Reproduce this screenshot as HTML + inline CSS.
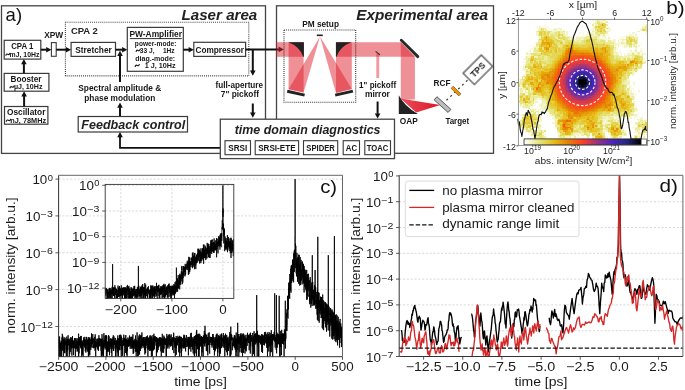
<!DOCTYPE html>
<html><head><meta charset="utf-8"><style>
html,body{margin:0;padding:0;background:#fff;}
svg{display:block;font-family:"Liberation Sans", sans-serif;filter:blur(0.25px);}
</style></head><body>
<svg width="685" height="390" viewBox="0 0 685 390">
<rect x="1.5" y="5.8" width="264" height="147.6" fill="none" stroke="#444" stroke-width="1.3"/>
<rect x="276.5" y="5.8" width="217" height="147.5" fill="none" stroke="#444" stroke-width="1.3"/>
<text x="5.6" y="21.3" font-size="18.5" fill="#111">a)</text>
<text x="257.3" y="19.6" font-size="15.4" font-weight="bold" font-style="italic" text-anchor="end" fill="#222" textLength="75.8" lengthAdjust="spacingAndGlyphs">Laser area</text>
<text x="487.9" y="19.8" font-size="15.4" font-weight="bold" font-style="italic" text-anchor="end" fill="#222" textLength="131.6" lengthAdjust="spacingAndGlyphs">Experimental area</text>
<rect x="65.4" y="22.3" width="183.4" height="53.6" fill="none" stroke="#444" stroke-width="1.1" stroke-dasharray="1 1.05"/>
<text x="70.9" y="33.5" font-size="9.2" font-weight="bold" fill="#222" textLength="26.8" lengthAdjust="spacingAndGlyphs">CPA 2</text>
<rect x="4.2" y="40.3" width="36.6" height="18.8" fill="none" stroke="#3a3a3a" stroke-width="1.2"/>
<text x="22.3" y="48.9" font-size="8.6" font-weight="bold" text-anchor="middle" fill="#161616" textLength="22.2" lengthAdjust="spacingAndGlyphs">CPA 1</text>
<text x="22.6" y="56.8" font-size="7.5" font-weight="bold" text-anchor="middle" fill="#161616" textLength="33.6" lengthAdjust="spacingAndGlyphs"> mJ, 10Hz</text>
<path d="M5.9 55.2C7.2 51.9 8.4 56.7 9.8 53.4" fill="none" stroke="#161616" stroke-width="1.2" stroke-linecap="round"/>
<rect x="4.2" y="73.4" width="44.7" height="17.8" fill="none" stroke="#3a3a3a" stroke-width="1.2"/>
<text x="26" y="81.9" font-size="8.8" font-weight="bold" text-anchor="middle" fill="#161616" textLength="31" lengthAdjust="spacingAndGlyphs">Booster</text>
<text x="26.2" y="89.4" font-size="7.5" font-weight="bold" text-anchor="middle" fill="#161616" textLength="32.5" lengthAdjust="spacingAndGlyphs"> µJ, 10Hz</text>
<path d="M10 87.8C11.4 84.5 12.7 89.3 14.1 86" fill="none" stroke="#161616" stroke-width="1.2" stroke-linecap="round"/>
<rect x="4.5" y="106.5" width="43.4" height="17.7" fill="none" stroke="#3a3a3a" stroke-width="1.2"/>
<text x="26.2" y="115.4" font-size="8.8" font-weight="bold" text-anchor="middle" fill="#161616" textLength="38.5" lengthAdjust="spacingAndGlyphs">Oscillator</text>
<text x="26.2" y="122.8" font-size="7.5" font-weight="bold" text-anchor="middle" fill="#161616" textLength="40" lengthAdjust="spacingAndGlyphs"> nJ, 78MHz</text>
<path d="M6.3 121.2C7.7 117.9 9 122.7 10.5 119.4" fill="none" stroke="#161616" stroke-width="1.2" stroke-linecap="round"/>
<text x="44.2" y="38.2" font-size="8.6" font-weight="bold" fill="#161616" textLength="19" lengthAdjust="spacingAndGlyphs">XPW</text>
<rect x="51.4" y="42.6" width="4.8" height="13.7" fill="none" stroke="#3a3a3a" stroke-width="1.1"/>
<rect x="71.1" y="42.4" width="44.4" height="14" fill="none" stroke="#3a3a3a" stroke-width="1.2"/>
<text x="93.5" y="52.7" font-size="8.9" font-weight="bold" text-anchor="middle" fill="#161616" textLength="36.5" lengthAdjust="spacingAndGlyphs">Stretcher</text>
<rect x="127.3" y="27.4" width="56" height="43.9" fill="none" stroke="#3a3a3a" stroke-width="1.2"/>
<text x="155.7" y="37.3" font-size="8.8" font-weight="bold" text-anchor="middle" fill="#161616" textLength="52.6" lengthAdjust="spacingAndGlyphs">PW-Amplifier</text>
<line x1="129.8" y1="38.6" x2="181.8" y2="38.6" stroke="#161616" stroke-width="0.9"/>
<text x="155.6" y="45.6" font-size="7.7" font-weight="600" text-anchor="middle" fill="#161616" textLength="41.5" lengthAdjust="spacingAndGlyphs">power-mode:</text>
<text x="155.4" y="53" font-size="7.7" font-weight="bold" text-anchor="middle" fill="#161616" textLength="38.5" lengthAdjust="spacingAndGlyphs"> 33 J,  1Hz</text>
<path d="M136.2 51.4C137.5 48 138.7 52.9 140 49.5" fill="none" stroke="#161616" stroke-width="1.2" stroke-linecap="round"/>
<text x="155.2" y="60.6" font-size="7.7" font-weight="600" text-anchor="middle" fill="#161616" textLength="40" lengthAdjust="spacingAndGlyphs">diag.-mode:</text>
<text x="155.4" y="68" font-size="7.7" font-weight="bold" text-anchor="middle" fill="#161616" textLength="40.5" lengthAdjust="spacingAndGlyphs">   1 J, 10Hz</text>
<path d="M135.2 66.4C136.7 63 137.9 67.9 139.3 64.5" fill="none" stroke="#161616" stroke-width="1.2" stroke-linecap="round"/>
<rect x="193.8" y="42.3" width="51.8" height="14.1" fill="none" stroke="#3a3a3a" stroke-width="1.2"/>
<text x="219.7" y="52.5" font-size="9.0" font-weight="bold" text-anchor="middle" fill="#161616" textLength="48.5" lengthAdjust="spacingAndGlyphs">Compressor</text>
<line x1="40.8" y1="49.7" x2="46.7" y2="49.7" stroke="#111" stroke-width="2.0"/>
<path d="M51.4 49.7L46.2 52.5L46.2 46.9Z" fill="#111"/>
<line x1="56.2" y1="49.7" x2="66.4" y2="49.7" stroke="#111" stroke-width="2.0"/>
<path d="M71.1 49.7L65.9 52.5L65.9 46.9Z" fill="#111"/>
<line x1="115.5" y1="49.7" x2="122.6" y2="49.7" stroke="#111" stroke-width="2.0"/>
<path d="M127.3 49.7L122.1 52.5L122.1 46.9Z" fill="#111"/>
<line x1="183.3" y1="49.7" x2="189.1" y2="49.7" stroke="#111" stroke-width="2.0"/>
<path d="M193.8 49.7L188.6 52.5L188.6 46.9Z" fill="#111"/>
<line x1="245.6" y1="49.4" x2="279.1" y2="49.4" stroke="#111" stroke-width="2.0"/>
<path d="M283.8 49.4L278.6 52.2L278.6 46.6Z" fill="#111"/>
<line x1="23.9" y1="73.4" x2="23.9" y2="63.8" stroke="#111" stroke-width="2.0"/>
<path d="M23.9 59.1L26.7 64.3L21.1 64.3Z" fill="#111"/>
<line x1="24.1" y1="106.5" x2="24.1" y2="95.9" stroke="#111" stroke-width="2.0"/>
<path d="M24.1 91.2L26.9 96.4L21.3 96.4Z" fill="#111"/>
<line x1="120" y1="82" x2="120" y2="55.4" stroke="#111" stroke-width="2.0"/>
<path d="M120 50.7L122.8 55.9L117.2 55.9Z" fill="#111"/>
<line x1="252.8" y1="49.4" x2="252.8" y2="71.1" stroke="#111" stroke-width="2.0"/>
<path d="M252.8 75.8L250 70.6L255.6 70.6Z" fill="#111"/>
<line x1="252.8" y1="103.5" x2="252.8" y2="113.1" stroke="#111" stroke-width="2.0"/>
<path d="M252.8 117.8L250 112.6L255.6 112.6Z" fill="#111"/>
<line x1="120" y1="116.5" x2="120" y2="107.2" stroke="#111" stroke-width="2.0"/>
<path d="M120 102.5L122.8 107.7L117.2 107.7Z" fill="#111"/>
<text x="119.8" y="91.3" font-size="8.9" font-weight="bold" text-anchor="middle" fill="#161616" textLength="83" lengthAdjust="spacingAndGlyphs">Spectral amplitude &amp;</text>
<text x="119.8" y="100.7" font-size="8.9" font-weight="bold" text-anchor="middle" fill="#161616" textLength="71" lengthAdjust="spacingAndGlyphs">phase modulation</text>
<text x="239.3" y="87.6" font-size="8.8" font-weight="bold" text-anchor="middle" fill="#161616" textLength="47.5" lengthAdjust="spacingAndGlyphs">full-aperture</text>
<text x="239.9" y="96.7" font-size="8.8" font-weight="bold" text-anchor="middle" fill="#161616" textLength="38.2" lengthAdjust="spacingAndGlyphs">7" pickoff</text>
<rect x="78.2" y="116.5" width="109.3" height="15.5" fill="#fff" stroke="#3a3a3a" stroke-width="1.2"/>
<text x="133.3" y="128.9" font-size="13.2" font-weight="bold" font-style="italic" text-anchor="middle" fill="#222" textLength="104" lengthAdjust="spacingAndGlyphs">Feedback control</text>
<path d="M220.3 147.8H120V137" fill="none" stroke="#111" stroke-width="1.8"/>
<line x1="120" y1="138" x2="120" y2="136.7" stroke="#111" stroke-width="2.0"/>
<path d="M120 132L122.8 137.2L117.2 137.2Z" fill="#111"/>
<path d="M276.5 42.2L303.8 42.2L303.8 56.8L276.5 56.8Z" fill="#e0202e" fill-opacity="0.5"/>
<path d="M288.6 42.2L303.6 42.2L303.6 92.5L288.6 89.2Z" fill="#e0202e" fill-opacity="0.5"/>
<path d="M288.6 89.2L320 36.5L303.6 92.5Z" fill="#e0202e" fill-opacity="0.5"/>
<path d="M320 36.5L351.8 89L336 93Z" fill="#e0202e" fill-opacity="0.5"/>
<path d="M336 42.2L351.8 42.2L351.8 89L336 93Z" fill="#e0202e" fill-opacity="0.5"/>
<path d="M336 42.2L400.8 42.2L414.9 56.8L336 56.8Z" fill="#e0202e" fill-opacity="0.5"/>
<path d="M400.8 42.2L414.9 56.8L414.9 99.5L400.8 99.5Z" fill="#e0202e" fill-opacity="0.5"/>
<path d="M376.3 53.5L379.2 53.5L379.2 78L376.3 78Z" fill="#e0202e" fill-opacity="0.45"/>
<path d="M288.4 42.2H303.9V56.8H303.3Q299.5 46.3 288.4 42.2Z" fill="#222"/>
<path d="M351.4 42.2H335.9V56.8H336.5Q340.0 46.3 351.4 42.2Z" fill="#222"/>
<line x1="287.2" y1="91.3" x2="304.6" y2="95.1" stroke="#222" stroke-width="3.0"/>
<line x1="335.2" y1="95.1" x2="352.9" y2="91.1" stroke="#222" stroke-width="3.0"/>
<line x1="316.8" y1="35.3" x2="322.8" y2="35.3" stroke="#222" stroke-width="1.6"/>
<line x1="401.3" y1="40.2" x2="417.8" y2="56.6" stroke="#2a2a2a" stroke-width="2.9" stroke-linecap="round"/>
<line x1="375.6" y1="51.4" x2="379.9" y2="54.8" stroke="#333" stroke-width="1.1"/>
<defs><linearGradient id="fg" x1="0" y1="0" x2="1" y2="0"><stop offset="0" stop-color="#e6505c"/><stop offset="1" stop-color="#e01525"/></linearGradient></defs>
<path d="M400.5 98.6L440.2 105.1L416.2 112.6Z" fill="url(#fg)"/>
<path d="M398.8 95.3L398.8 114.1L417.9 114.1Q404 106 398.8 95.3Z" fill="#222"/>
<g transform="translate(442.5 104.6) rotate(42)"><rect x="-9.4" y="-2.1" width="18.8" height="4.2" fill="#bdbdbd" stroke="#555" stroke-width="0.9"/></g>
<line x1="446.5" y1="100.3" x2="470" y2="77.8" stroke="#333" stroke-width="1.2" stroke-dasharray="2 3.4"/>
<g transform="translate(456.0 91.1) rotate(45)"><rect x="-5.4" y="-1.5" width="10.8" height="3.0" fill="#f0900c" stroke="#6a4a10" stroke-width="0.6"/></g>
<text x="442" y="86.4" font-size="9.0" font-weight="bold" text-anchor="middle" fill="#161616" textLength="17" lengthAdjust="spacingAndGlyphs">RCF</text>
<g transform="translate(477.85 69.8) rotate(-45)"><rect x="-12.9" y="-8" width="25.8" height="16" fill="#fff" stroke="#333" stroke-width="1.1"/><text x="0" y="3.3" font-size="9.2" font-weight="bold" text-anchor="middle" fill="#1a1a1a" textLength="17" lengthAdjust="spacingAndGlyphs">TPS</text></g>
<text x="408.8" y="123.9" font-size="9.0" font-weight="bold" text-anchor="middle" fill="#161616" textLength="18" lengthAdjust="spacingAndGlyphs">OAP</text>
<text x="457.3" y="123.9" font-size="9.0" font-weight="bold" text-anchor="middle" fill="#161616" textLength="23.8" lengthAdjust="spacingAndGlyphs">Target</text>
<rect x="284" y="30" width="71.7" height="72.3" fill="none" stroke="#333" stroke-width="1.1" stroke-dasharray="1 1.05"/>
<text x="320.6" y="26.8" font-size="9.0" font-weight="bold" text-anchor="middle" fill="#161616" textLength="36.8" lengthAdjust="spacingAndGlyphs">PM setup</text>
<text x="377.6" y="88.2" font-size="9.0" font-weight="bold" text-anchor="middle" fill="#161616" textLength="37" lengthAdjust="spacingAndGlyphs">1" pickoff</text>
<text x="377.4" y="97" font-size="9.0" font-weight="bold" text-anchor="middle" fill="#161616" textLength="25" lengthAdjust="spacingAndGlyphs">mirror</text>
<line x1="377.6" y1="101.5" x2="377.6" y2="113.9" stroke="#111" stroke-width="2.0"/>
<path d="M377.6 118.6L374.8 113.4L380.4 113.4Z" fill="#111"/>
<rect x="220.3" y="119.2" width="174.2" height="39.4" fill="#fff" stroke="#444" stroke-width="1.3"/>
<text x="307.6" y="133.8" font-size="12.4" font-weight="bold" font-style="italic" text-anchor="middle" fill="#222" textLength="145.8" lengthAdjust="spacingAndGlyphs">time domain diagnostics</text>
<rect x="225" y="140.7" width="25.5" height="14" fill="none" stroke="#3a3a3a" stroke-width="1.1"/>
<text x="237.8" y="150.8" font-size="8.8" font-weight="bold" text-anchor="middle" fill="#161616" textLength="19" lengthAdjust="spacingAndGlyphs">SRSI</text>
<rect x="255.2" y="140.7" width="43.4" height="14" fill="none" stroke="#3a3a3a" stroke-width="1.1"/>
<text x="276.9" y="150.8" font-size="8.8" font-weight="bold" text-anchor="middle" fill="#161616" textLength="37.5" lengthAdjust="spacingAndGlyphs">SRSI-ETE</text>
<rect x="303.5" y="140.7" width="34.2" height="14" fill="none" stroke="#3a3a3a" stroke-width="1.1"/>
<text x="320.6" y="150.8" font-size="8.8" font-weight="bold" text-anchor="middle" fill="#161616" textLength="28.5" lengthAdjust="spacingAndGlyphs">SPIDER</text>
<rect x="343.2" y="140.7" width="16.3" height="14" fill="none" stroke="#3a3a3a" stroke-width="1.1"/>
<text x="351.4" y="150.8" font-size="8.8" font-weight="bold" text-anchor="middle" fill="#161616" textLength="11.2" lengthAdjust="spacingAndGlyphs">AC</text>
<rect x="364.8" y="140.7" width="25.7" height="14" fill="none" stroke="#3a3a3a" stroke-width="1.1"/>
<text x="377.6" y="150.8" font-size="8.8" font-weight="bold" text-anchor="middle" fill="#161616" textLength="21.5" lengthAdjust="spacingAndGlyphs">TOAC</text>
<g shape-rendering="crispEdges">
<path fill="#fafae5" d="M601.6 19.5h1.6v1.6h-1.6zM593.6 21.1h1.6v1.6h-1.6zM603.2 21.1h1.6v1.6h-1.6zM553.6 22.7h3.2v1.6h-3.2zM592 22.7h1.6v1.6h-1.6zM608 22.7h1.6v1.6h-1.6zM544 24.3h1.6v1.6h-1.6zM643.2 24.3h3.2v1.6h-3.2zM536 25.9h1.6v1.6h-1.6zM540.8 25.9h8v1.6h-8zM582.4 25.9h1.6v1.6h-1.6zM592 25.9h1.6v1.6h-1.6zM606.4 25.9h3.2v1.6h-3.2zM536 27.5h1.6v1.6h-1.6zM545.6 27.5h1.6v1.6h-1.6zM548.8 27.5h1.6v1.6h-1.6zM553.6 27.5h1.6v1.6h-1.6zM590.4 27.5h3.2v1.6h-3.2zM640 27.5h1.6v1.6h-1.6zM547.2 29.1h6.4v1.6h-6.4zM558.4 29.1h1.6v1.6h-1.6zM561.6 29.1h3.2v1.6h-3.2zM590.4 29.1h1.6v1.6h-1.6zM606.4 29.1h3.2v1.6h-3.2zM553.6 30.7h1.6v1.6h-1.6zM564.8 30.7h1.6v1.6h-1.6zM568 30.7h1.6v1.6h-1.6zM644.8 30.7h1.6v1.6h-1.6zM579.2 32.3h1.6v1.6h-1.6zM582.4 32.3h1.6v1.6h-1.6zM593.6 32.3h1.6v1.6h-1.6zM628.8 32.3h1.6v1.6h-1.6zM635.2 32.3h1.6v1.6h-1.6zM644.8 32.3h2.1v1.6h-2.1zM577.6 33.9h1.6v1.6h-1.6zM582.4 33.9h1.6v1.6h-1.6zM587.2 33.9h1.6v1.6h-1.6zM606.4 33.9h3.2v1.6h-3.2zM625.6 33.9h1.6v1.6h-1.6zM628.8 33.9h1.6v1.6h-1.6zM632 33.9h1.6v1.6h-1.6zM644.8 33.9h1.6v1.6h-1.6zM576 35.5h9.6v1.6h-9.6zM600 35.5h1.6v1.6h-1.6zM622.4 35.5h1.6v1.6h-1.6zM635.2 35.5h1.6v1.6h-1.6zM569.6 37.1h1.6v1.6h-1.6zM572.8 37.1h3.2v1.6h-3.2zM600 37.1h1.6v1.6h-1.6zM603.2 37.1h1.6v1.6h-1.6zM606.4 37.1h1.6v1.6h-1.6zM619.2 37.1h4.8v1.6h-4.8zM604.8 38.7h4.8v1.6h-4.8zM619.2 38.7h1.6v1.6h-1.6zM646.4 38.7h0.5v1.6h-0.5zM606.4 40.3h1.6v1.6h-1.6zM620.8 40.3h1.6v1.6h-1.6zM624 40.3h1.6v1.6h-1.6zM534.4 41.9h1.6v1.6h-1.6zM616 41.9h3.2v1.6h-3.2zM619.2 43.5h3.2v1.6h-3.2zM636.8 43.5h1.6v1.6h-1.6zM640 43.5h1.6v1.6h-1.6zM531.2 45.1h1.6v1.6h-1.6zM534.4 45.1h1.6v1.6h-1.6zM616 45.1h1.6v1.6h-1.6zM619.2 45.1h1.6v1.6h-1.6zM622.4 45.1h1.6v1.6h-1.6zM532.8 46.7h1.6v1.6h-1.6zM616 46.7h1.6v1.6h-1.6zM622.4 46.7h1.6v1.6h-1.6zM632 46.7h1.6v1.6h-1.6zM529.6 48.3h4.8v1.6h-4.8zM616 48.3h1.6v1.6h-1.6zM628.8 48.3h1.6v1.6h-1.6zM640 48.3h3.2v1.6h-3.2zM528 49.9h1.6v1.6h-1.6zM616 49.9h1.6v1.6h-1.6zM619.2 49.9h1.6v1.6h-1.6zM627.2 49.9h1.6v1.6h-1.6zM633.6 49.9h1.6v1.6h-1.6zM531.2 51.5h1.6v1.6h-1.6zM617.6 51.5h3.2v1.6h-3.2zM630.4 51.5h1.6v1.6h-1.6zM633.6 51.5h3.2v1.6h-3.2zM640 51.5h1.6v1.6h-1.6zM617.6 53.1h3.2v1.6h-3.2zM624 53.1h1.6v1.6h-1.6zM635.2 53.1h1.6v1.6h-1.6zM640 53.1h1.6v1.6h-1.6zM526.4 54.7h3.2v1.6h-3.2zM619.2 54.7h1.6v1.6h-1.6zM523.2 57.9h1.6v1.6h-1.6zM625.6 57.9h1.6v1.6h-1.6zM643.2 57.9h3.2v1.6h-3.2zM643.2 59.5h1.6v1.6h-1.6zM523.2 61.1h3.2v1.6h-3.2zM523.2 64.3h1.6v1.6h-1.6zM521.6 67.5h1.6v1.6h-1.6zM526.4 67.5h1.6v1.6h-1.6zM521.6 69.1h1.6v1.6h-1.6zM633.6 72.3h3.2v1.6h-3.2zM523.2 73.9h3.2v1.6h-3.2zM630.4 73.9h1.6v1.6h-1.6zM633.6 73.9h1.6v1.6h-1.6zM628.8 75.5h1.6v1.6h-1.6zM627.2 78.7h3.2v1.6h-3.2zM518.4 80.3h1.6v1.6h-1.6zM632 81.9h1.6v1.6h-1.6zM628.8 83.5h1.6v1.6h-1.6zM632 83.5h1.6v1.6h-1.6zM627.2 85.1h1.6v1.6h-1.6zM630.4 85.1h1.6v1.6h-1.6zM633.6 85.1h1.6v1.6h-1.6zM520 86.7h1.6v1.6h-1.6zM627.2 86.7h1.6v1.6h-1.6zM630.4 86.7h1.6v1.6h-1.6zM529.6 88.3h1.6v1.6h-1.6zM630.4 88.3h3.2v1.6h-3.2zM518.4 89.9h1.6v1.6h-1.6zM523.2 89.9h1.6v1.6h-1.6zM526.4 89.9h1.6v1.6h-1.6zM633.6 89.9h1.6v1.6h-1.6zM518.4 93.1h1.6v1.6h-1.6zM526.4 93.1h1.6v1.6h-1.6zM633.6 93.1h3.2v1.6h-3.2zM635.2 94.7h1.6v1.6h-1.6zM537.6 97.9h1.6v1.6h-1.6zM536 99.5h1.6v1.6h-1.6zM540.8 99.5h1.6v1.6h-1.6zM632 99.5h1.6v1.6h-1.6zM540.8 101.1h1.6v1.6h-1.6zM632 101.1h1.6v1.6h-1.6zM534.4 102.7h1.6v1.6h-1.6zM539.2 102.7h1.6v1.6h-1.6zM518.4 104.3h1.6v1.6h-1.6zM534.4 104.3h1.6v1.6h-1.6zM635.2 104.3h1.6v1.6h-1.6zM520 105.9h1.6v1.6h-1.6zM529.6 105.9h3.2v1.6h-3.2zM539.2 105.9h1.6v1.6h-1.6zM635.2 105.9h1.6v1.6h-1.6zM523.2 107.5h1.6v1.6h-1.6zM526.4 107.5h1.6v1.6h-1.6zM529.6 107.5h8v1.6h-8zM539.2 107.5h3.2v1.6h-3.2zM636.8 107.5h1.6v1.6h-1.6zM536 109.1h1.6v1.6h-1.6zM539.2 109.1h1.6v1.6h-1.6zM544 109.1h3.2v1.6h-3.2zM521.6 110.7h1.6v1.6h-1.6zM528 110.7h1.6v1.6h-1.6zM539.2 110.7h4.8v1.6h-4.8zM635.2 110.7h3.2v1.6h-3.2zM536 112.3h1.6v1.6h-1.6zM539.2 112.3h1.6v1.6h-1.6zM547.2 112.3h1.6v1.6h-1.6zM633.6 112.3h1.6v1.6h-1.6zM520 113.9h1.6v1.6h-1.6zM548.8 113.9h1.6v1.6h-1.6zM641.6 113.9h1.6v1.6h-1.6zM548.8 115.5h4.8v1.6h-4.8zM630.4 115.5h1.6v1.6h-1.6zM633.6 115.5h1.6v1.6h-1.6zM638.4 115.5h1.6v1.6h-1.6zM614.4 117.1h1.6v1.6h-1.6zM625.6 117.1h1.6v1.6h-1.6zM628.8 117.1h1.6v1.6h-1.6zM636.8 117.1h1.6v1.6h-1.6zM520 118.7h1.6v1.6h-1.6zM552 118.7h1.6v1.6h-1.6zM617.6 118.7h3.2v1.6h-3.2zM627.2 118.7h1.6v1.6h-1.6zM633.6 118.7h3.2v1.6h-3.2zM643.2 118.7h3.7v1.6h-3.7zM518.4 120.3h1.6v1.6h-1.6zM553.6 120.3h1.6v1.6h-1.6zM604.8 120.3h1.6v1.6h-1.6zM630.4 120.3h1.6v1.6h-1.6zM539.2 121.9h1.6v1.6h-1.6zM553.6 121.9h1.6v1.6h-1.6zM603.2 121.9h1.6v1.6h-1.6zM620.8 121.9h1.6v1.6h-1.6zM625.6 121.9h1.6v1.6h-1.6zM622.4 123.5h1.6v1.6h-1.6zM540.8 125.1h1.6v1.6h-1.6zM622.4 125.1h1.6v1.6h-1.6zM633.6 125.1h1.6v1.6h-1.6zM531.2 126.7h1.6v1.6h-1.6zM542.4 126.7h1.6v1.6h-1.6zM603.2 126.7h1.6v1.6h-1.6zM632 126.7h3.2v1.6h-3.2zM518.4 128.3h1.6v1.6h-1.6zM540.8 128.3h1.6v1.6h-1.6zM553.6 128.3h1.6v1.6h-1.6zM628.8 128.3h1.6v1.6h-1.6zM633.6 128.3h1.6v1.6h-1.6zM640 129.9h1.6v1.6h-1.6zM524.8 131.5h1.6v1.6h-1.6zM545.6 131.5h1.6v1.6h-1.6zM624 131.5h1.6v1.6h-1.6zM635.2 131.5h3.2v1.6h-3.2zM640 131.5h1.6v1.6h-1.6zM528 133.1h1.6v1.6h-1.6zM544 133.1h1.6v1.6h-1.6zM590.4 133.1h1.6v1.6h-1.6zM608 133.1h1.6v1.6h-1.6zM644.8 133.1h1.6v1.6h-1.6zM576 134.7h1.6v1.6h-1.6zM584 134.7h1.6v1.6h-1.6zM590.4 134.7h1.6v1.6h-1.6zM638.4 134.7h1.6v1.6h-1.6zM643.2 134.7h1.6v1.6h-1.6zM646.4 134.7h0.5v1.6h-0.5zM545.6 136.3h1.6v1.6h-1.6zM571.2 136.3h3.2v1.6h-3.2zM576 136.3h8v1.6h-8zM588.8 136.3h1.6v1.6h-1.6zM606.4 136.3h1.6v1.6h-1.6zM617.6 136.3h1.6v1.6h-1.6zM630.4 136.3h1.6v1.6h-1.6zM640 136.3h1.6v1.6h-1.6zM644.8 136.3h1.6v1.6h-1.6zM531.2 137.9h3.2v1.6h-3.2zM566.4 137.9h1.6v1.6h-1.6zM574.4 137.9h1.6v1.6h-1.6zM580.8 137.9h1.6v1.6h-1.6zM584 137.9h4.8v1.6h-4.8zM628.8 137.9h1.6v1.6h-1.6zM632 137.9h1.6v1.6h-1.6zM638.4 137.9h1.6v1.6h-1.6zM532.8 139.5h1.6v1.6h-1.6zM540.8 139.5h1.6v1.6h-1.6zM563.2 139.5h1.6v1.6h-1.6zM587.2 139.5h1.6v1.6h-1.6zM592 139.5h1.6v1.6h-1.6zM608 139.5h4.8v1.6h-4.8zM614.4 139.5h4.8v1.6h-4.8zM532.8 141.1h1.6v1.6h-1.6zM536 141.1h1.6v1.6h-1.6zM561.6 141.1h1.6v1.6h-1.6zM588.8 141.1h3.2v1.6h-3.2zM595.2 141.1h1.6v1.6h-1.6zM609.6 141.1h1.6v1.6h-1.6zM614.4 141.1h1.6v1.6h-1.6zM630.4 141.1h1.6v1.6h-1.6zM537.6 142.7h1.6v1.6h-1.6zM590.4 142.7h1.6v1.6h-1.6zM600 142.7h1.6v1.6h-1.6zM596.8 144.3h1.6v1h-1.6zM603.2 144.3h1.6v1h-1.6zM608 144.3h1.6v1h-1.6zM638.4 144.3h1.6v1h-1.6z"/>
<path fill="#f5f5cc" d="M592 19.5h1.6v1.6h-1.6zM595.2 19.5h1.6v1.6h-1.6zM598.4 19.5h3.2v1.6h-3.2zM604.8 19.5h1.6v1.6h-1.6zM595.2 21.1h1.6v1.6h-1.6zM604.8 21.1h1.6v1.6h-1.6zM593.6 22.7h1.6v1.6h-1.6zM539.2 25.9h1.6v1.6h-1.6zM641.6 25.9h3.2v1.6h-3.2zM555.2 27.5h1.6v1.6h-1.6zM560 27.5h1.6v1.6h-1.6zM604.8 27.5h1.6v1.6h-1.6zM555.2 29.1h3.2v1.6h-3.2zM560 29.1h1.6v1.6h-1.6zM592 29.1h1.6v1.6h-1.6zM609.6 29.1h1.6v1.6h-1.6zM640 29.1h1.6v1.6h-1.6zM552 30.7h1.6v1.6h-1.6zM566.4 30.7h1.6v1.6h-1.6zM608 30.7h1.6v1.6h-1.6zM636.8 30.7h1.6v1.6h-1.6zM536 32.3h1.6v1.6h-1.6zM566.4 32.3h1.6v1.6h-1.6zM587.2 32.3h1.6v1.6h-1.6zM590.4 32.3h3.2v1.6h-3.2zM632 32.3h3.2v1.6h-3.2zM536 33.9h1.6v1.6h-1.6zM564.8 33.9h3.2v1.6h-3.2zM585.6 33.9h1.6v1.6h-1.6zM588.8 33.9h1.6v1.6h-1.6zM593.6 33.9h1.6v1.6h-1.6zM600 33.9h3.2v1.6h-3.2zM630.4 33.9h1.6v1.6h-1.6zM635.2 33.9h1.6v1.6h-1.6zM539.2 35.5h1.6v1.6h-1.6zM566.4 35.5h1.6v1.6h-1.6zM571.2 35.5h3.2v1.6h-3.2zM624 35.5h1.6v1.6h-1.6zM577.6 37.1h1.6v1.6h-1.6zM580.8 37.1h1.6v1.6h-1.6zM598.4 37.1h1.6v1.6h-1.6zM601.6 37.1h1.6v1.6h-1.6zM604.8 37.1h1.6v1.6h-1.6zM569.6 38.7h1.6v1.6h-1.6zM572.8 38.7h4.8v1.6h-4.8zM580.8 38.7h3.2v1.6h-3.2zM603.2 38.7h1.6v1.6h-1.6zM609.6 38.7h1.6v1.6h-1.6zM612.8 38.7h3.2v1.6h-3.2zM617.6 38.7h1.6v1.6h-1.6zM611.2 40.3h4.8v1.6h-4.8zM617.6 40.3h1.6v1.6h-1.6zM622.4 40.3h1.6v1.6h-1.6zM614.4 41.9h1.6v1.6h-1.6zM619.2 41.9h1.6v1.6h-1.6zM624 41.9h1.6v1.6h-1.6zM632 41.9h1.6v1.6h-1.6zM611.2 43.5h1.6v1.6h-1.6zM614.4 43.5h3.2v1.6h-3.2zM622.4 43.5h3.2v1.6h-3.2zM635.2 43.5h1.6v1.6h-1.6zM614.4 45.1h1.6v1.6h-1.6zM617.6 45.1h1.6v1.6h-1.6zM624 45.1h1.6v1.6h-1.6zM627.2 45.1h1.6v1.6h-1.6zM632 45.1h1.6v1.6h-1.6zM638.4 45.1h1.6v1.6h-1.6zM536 46.7h1.6v1.6h-1.6zM617.6 46.7h1.6v1.6h-1.6zM624 46.7h3.2v1.6h-3.2zM636.8 46.7h1.6v1.6h-1.6zM635.2 48.3h1.6v1.6h-1.6zM529.6 49.9h1.6v1.6h-1.6zM614.4 49.9h1.6v1.6h-1.6zM630.4 49.9h1.6v1.6h-1.6zM640 49.9h1.6v1.6h-1.6zM526.4 51.5h1.6v1.6h-1.6zM529.6 51.5h1.6v1.6h-1.6zM532.8 51.5h1.6v1.6h-1.6zM537.6 51.5h3.2v1.6h-3.2zM616 51.5h1.6v1.6h-1.6zM632 51.5h1.6v1.6h-1.6zM641.6 51.5h1.6v1.6h-1.6zM528 53.1h1.6v1.6h-1.6zM614.4 53.1h1.6v1.6h-1.6zM620.8 53.1h1.6v1.6h-1.6zM627.2 53.1h4.8v1.6h-4.8zM643.2 53.1h3.2v1.6h-3.2zM529.6 54.7h1.6v1.6h-1.6zM620.8 54.7h1.6v1.6h-1.6zM624 54.7h3.2v1.6h-3.2zM640 54.7h1.6v1.6h-1.6zM524.8 56.3h1.6v1.6h-1.6zM528 56.3h1.6v1.6h-1.6zM630.4 56.3h1.6v1.6h-1.6zM524.8 57.9h1.6v1.6h-1.6zM620.8 57.9h1.6v1.6h-1.6zM524.8 62.7h1.6v1.6h-1.6zM644.8 62.7h1.6v1.6h-1.6zM641.6 64.3h1.6v1.6h-1.6zM523.2 65.9h1.6v1.6h-1.6zM523.2 67.5h1.6v1.6h-1.6zM523.2 69.1h3.2v1.6h-3.2zM636.8 69.1h1.6v1.6h-1.6zM524.8 70.7h1.6v1.6h-1.6zM633.6 70.7h1.6v1.6h-1.6zM524.8 72.3h1.6v1.6h-1.6zM632 73.9h1.6v1.6h-1.6zM518.4 78.7h1.6v1.6h-1.6zM627.2 80.3h3.2v1.6h-3.2zM625.6 81.9h1.6v1.6h-1.6zM633.6 81.9h1.6v1.6h-1.6zM627.2 83.5h1.6v1.6h-1.6zM633.6 83.5h1.6v1.6h-1.6zM520 85.1h1.6v1.6h-1.6zM628.8 85.1h1.6v1.6h-1.6zM529.6 86.7h1.6v1.6h-1.6zM518.4 88.3h1.6v1.6h-1.6zM521.6 88.3h1.6v1.6h-1.6zM625.6 88.3h1.6v1.6h-1.6zM529.6 89.9h1.6v1.6h-1.6zM628.8 89.9h3.2v1.6h-3.2zM638.4 89.9h1.6v1.6h-1.6zM521.6 91.5h1.6v1.6h-1.6zM524.8 91.5h1.6v1.6h-1.6zM628.8 91.5h3.2v1.6h-3.2zM630.4 94.7h3.2v1.6h-3.2zM633.6 96.3h1.6v1.6h-1.6zM518.4 97.9h1.6v1.6h-1.6zM536 97.9h1.6v1.6h-1.6zM539.2 97.9h1.6v1.6h-1.6zM633.6 97.9h1.6v1.6h-1.6zM534.4 99.5h1.6v1.6h-1.6zM534.4 101.1h3.2v1.6h-3.2zM540.8 102.7h3.2v1.6h-3.2zM532.8 104.3h1.6v1.6h-1.6zM539.2 104.3h1.6v1.6h-1.6zM542.4 104.3h3.2v1.6h-3.2zM633.6 104.3h1.6v1.6h-1.6zM521.6 105.9h1.6v1.6h-1.6zM542.4 105.9h1.6v1.6h-1.6zM633.6 105.9h1.6v1.6h-1.6zM542.4 107.5h1.6v1.6h-1.6zM537.6 109.1h1.6v1.6h-1.6zM542.4 109.1h1.6v1.6h-1.6zM636.8 109.1h1.6v1.6h-1.6zM529.6 110.7h1.6v1.6h-1.6zM534.4 110.7h1.6v1.6h-1.6zM547.2 110.7h1.6v1.6h-1.6zM524.8 112.3h1.6v1.6h-1.6zM531.2 112.3h1.6v1.6h-1.6zM521.6 113.9h1.6v1.6h-1.6zM550.4 113.9h1.6v1.6h-1.6zM633.6 113.9h4.8v1.6h-4.8zM521.6 115.5h1.6v1.6h-1.6zM539.2 115.5h1.6v1.6h-1.6zM611.2 115.5h6.4v1.6h-6.4zM625.6 115.5h3.2v1.6h-3.2zM552 117.1h3.2v1.6h-3.2zM606.4 117.1h1.6v1.6h-1.6zM616 117.1h1.6v1.6h-1.6zM620.8 117.1h1.6v1.6h-1.6zM630.4 117.1h1.6v1.6h-1.6zM633.6 117.1h1.6v1.6h-1.6zM640 117.1h3.2v1.6h-3.2zM539.2 118.7h3.2v1.6h-3.2zM553.6 118.7h3.2v1.6h-3.2zM603.2 118.7h4.8v1.6h-4.8zM620.8 118.7h1.6v1.6h-1.6zM638.4 118.7h1.6v1.6h-1.6zM641.6 118.7h1.6v1.6h-1.6zM539.2 120.3h3.2v1.6h-3.2zM603.2 120.3h1.6v1.6h-1.6zM616 120.3h1.6v1.6h-1.6zM638.4 120.3h1.6v1.6h-1.6zM643.2 120.3h1.6v1.6h-1.6zM646.4 120.3h0.5v1.6h-0.5zM552 121.9h1.6v1.6h-1.6zM604.8 121.9h4.8v1.6h-4.8zM536 123.5h4.8v1.6h-4.8zM553.6 123.5h1.6v1.6h-1.6zM625.6 123.5h1.6v1.6h-1.6zM635.2 123.5h1.6v1.6h-1.6zM518.4 125.1h1.6v1.6h-1.6zM536 125.1h1.6v1.6h-1.6zM518.4 126.7h3.2v1.6h-3.2zM539.2 126.7h1.6v1.6h-1.6zM555.2 126.7h1.6v1.6h-1.6zM635.2 126.7h1.6v1.6h-1.6zM521.6 128.3h3.2v1.6h-3.2zM539.2 128.3h1.6v1.6h-1.6zM622.4 128.3h1.6v1.6h-1.6zM640 128.3h1.6v1.6h-1.6zM536 129.9h3.2v1.6h-3.2zM542.4 129.9h1.6v1.6h-1.6zM603.2 129.9h3.2v1.6h-3.2zM624 129.9h1.6v1.6h-1.6zM635.2 129.9h1.6v1.6h-1.6zM638.4 129.9h1.6v1.6h-1.6zM529.6 131.5h1.6v1.6h-1.6zM532.8 131.5h1.6v1.6h-1.6zM580.8 131.5h1.6v1.6h-1.6zM604.8 131.5h1.6v1.6h-1.6zM532.8 133.1h3.2v1.6h-3.2zM542.4 133.1h1.6v1.6h-1.6zM558.4 133.1h1.6v1.6h-1.6zM574.4 133.1h6.4v1.6h-6.4zM625.6 133.1h1.6v1.6h-1.6zM640 133.1h1.6v1.6h-1.6zM643.2 133.1h1.6v1.6h-1.6zM646.4 133.1h0.5v1.6h-0.5zM532.8 134.7h1.6v1.6h-1.6zM574.4 134.7h1.6v1.6h-1.6zM580.8 134.7h1.6v1.6h-1.6zM609.6 134.7h1.6v1.6h-1.6zM619.2 134.7h1.6v1.6h-1.6zM622.4 134.7h1.6v1.6h-1.6zM625.6 134.7h1.6v1.6h-1.6zM532.8 136.3h1.6v1.6h-1.6zM564.8 136.3h4.8v1.6h-4.8zM604.8 136.3h1.6v1.6h-1.6zM609.6 136.3h1.6v1.6h-1.6zM529.6 137.9h1.6v1.6h-1.6zM534.4 137.9h1.6v1.6h-1.6zM539.2 137.9h1.6v1.6h-1.6zM582.4 137.9h1.6v1.6h-1.6zM611.2 137.9h1.6v1.6h-1.6zM614.4 137.9h1.6v1.6h-1.6zM536 139.5h4.8v1.6h-4.8zM542.4 139.5h1.6v1.6h-1.6zM545.6 139.5h1.6v1.6h-1.6zM590.4 139.5h1.6v1.6h-1.6zM612.8 139.5h1.6v1.6h-1.6zM632 139.5h1.6v1.6h-1.6zM635.2 139.5h1.6v1.6h-1.6zM640 139.5h1.6v1.6h-1.6zM537.6 141.1h1.6v1.6h-1.6zM593.6 141.1h1.6v1.6h-1.6zM603.2 141.1h1.6v1.6h-1.6zM608 141.1h1.6v1.6h-1.6zM635.2 141.1h1.6v1.6h-1.6zM588.8 142.7h1.6v1.6h-1.6zM595.2 142.7h1.6v1.6h-1.6zM603.2 142.7h1.6v1.6h-1.6zM632 142.7h1.6v1.6h-1.6zM638.4 142.7h1.6v1.6h-1.6zM600 144.3h1.6v1h-1.6zM604.8 144.3h1.6v1h-1.6zM636.8 144.3h1.6v1h-1.6z"/>
<path fill="#f0f0b3" d="M600 21.1h3.2v1.6h-3.2zM595.2 24.3h3.2v1.6h-3.2zM646.4 24.3h0.5v1.6h-0.5zM593.6 25.9h1.6v1.6h-1.6zM539.2 27.5h1.6v1.6h-1.6zM558.4 27.5h1.6v1.6h-1.6zM593.6 27.5h1.6v1.6h-1.6zM608 27.5h1.6v1.6h-1.6zM537.6 29.1h3.2v1.6h-3.2zM544 29.1h1.6v1.6h-1.6zM604.8 29.1h1.6v1.6h-1.6zM545.6 30.7h1.6v1.6h-1.6zM555.2 30.7h1.6v1.6h-1.6zM560 30.7h3.2v1.6h-3.2zM592 30.7h4.8v1.6h-4.8zM606.4 30.7h1.6v1.6h-1.6zM638.4 30.7h1.6v1.6h-1.6zM646.4 30.7h0.5v1.6h-0.5zM537.6 32.3h1.6v1.6h-1.6zM550.4 32.3h3.2v1.6h-3.2zM560 32.3h1.6v1.6h-1.6zM563.2 32.3h1.6v1.6h-1.6zM588.8 32.3h1.6v1.6h-1.6zM606.4 32.3h1.6v1.6h-1.6zM548.8 33.9h1.6v1.6h-1.6zM563.2 33.9h1.6v1.6h-1.6zM592 33.9h1.6v1.6h-1.6zM595.2 33.9h1.6v1.6h-1.6zM537.6 35.5h1.6v1.6h-1.6zM560 35.5h1.6v1.6h-1.6zM568 35.5h1.6v1.6h-1.6zM588.8 35.5h1.6v1.6h-1.6zM592 35.5h1.6v1.6h-1.6zM596.8 35.5h3.2v1.6h-3.2zM603.2 35.5h3.2v1.6h-3.2zM627.2 35.5h1.6v1.6h-1.6zM630.4 35.5h1.6v1.6h-1.6zM636.8 35.5h1.6v1.6h-1.6zM539.2 37.1h1.6v1.6h-1.6zM556.8 37.1h1.6v1.6h-1.6zM571.2 37.1h1.6v1.6h-1.6zM576 37.1h1.6v1.6h-1.6zM579.2 37.1h1.6v1.6h-1.6zM582.4 37.1h1.6v1.6h-1.6zM596.8 37.1h1.6v1.6h-1.6zM608 37.1h1.6v1.6h-1.6zM635.2 37.1h3.2v1.6h-3.2zM558.4 38.7h1.6v1.6h-1.6zM561.6 38.7h1.6v1.6h-1.6zM568 38.7h1.6v1.6h-1.6zM571.2 38.7h1.6v1.6h-1.6zM577.6 38.7h3.2v1.6h-3.2zM598.4 38.7h1.6v1.6h-1.6zM601.6 38.7h1.6v1.6h-1.6zM620.8 38.7h4.8v1.6h-4.8zM574.4 40.3h3.2v1.6h-3.2zM579.2 40.3h1.6v1.6h-1.6zM604.8 40.3h1.6v1.6h-1.6zM636.8 40.3h1.6v1.6h-1.6zM536 41.9h1.6v1.6h-1.6zM622.4 41.9h1.6v1.6h-1.6zM636.8 41.9h1.6v1.6h-1.6zM617.6 43.5h1.6v1.6h-1.6zM625.6 43.5h1.6v1.6h-1.6zM537.6 45.1h1.6v1.6h-1.6zM625.6 45.1h1.6v1.6h-1.6zM635.2 45.1h1.6v1.6h-1.6zM534.4 46.7h1.6v1.6h-1.6zM537.6 46.7h1.6v1.6h-1.6zM628.8 46.7h3.2v1.6h-3.2zM635.2 46.7h1.6v1.6h-1.6zM536 48.3h1.6v1.6h-1.6zM614.4 48.3h1.6v1.6h-1.6zM532.8 49.9h1.6v1.6h-1.6zM534.4 51.5h3.2v1.6h-3.2zM614.4 51.5h1.6v1.6h-1.6zM638.4 51.5h1.6v1.6h-1.6zM526.4 53.1h1.6v1.6h-1.6zM529.6 53.1h1.6v1.6h-1.6zM616 53.1h1.6v1.6h-1.6zM633.6 53.1h1.6v1.6h-1.6zM636.8 53.1h1.6v1.6h-1.6zM641.6 53.1h1.6v1.6h-1.6zM531.2 54.7h1.6v1.6h-1.6zM540.8 54.7h1.6v1.6h-1.6zM627.2 54.7h1.6v1.6h-1.6zM526.4 56.3h1.6v1.6h-1.6zM534.4 56.3h3.2v1.6h-3.2zM545.6 56.3h1.6v1.6h-1.6zM622.4 56.3h8v1.6h-8zM526.4 57.9h1.6v1.6h-1.6zM643.2 61.1h1.6v1.6h-1.6zM524.8 64.3h1.6v1.6h-1.6zM638.4 64.3h1.6v1.6h-1.6zM633.6 65.9h1.6v1.6h-1.6zM524.8 67.5h1.6v1.6h-1.6zM528 69.1h1.6v1.6h-1.6zM630.4 70.7h3.2v1.6h-3.2zM632 72.3h1.6v1.6h-1.6zM521.6 75.5h1.6v1.6h-1.6zM625.6 75.5h1.6v1.6h-1.6zM523.2 77.1h1.6v1.6h-1.6zM520 80.3h3.2v1.6h-3.2zM625.6 80.3h1.6v1.6h-1.6zM518.4 81.9h1.6v1.6h-1.6zM624 81.9h1.6v1.6h-1.6zM627.2 81.9h3.2v1.6h-3.2zM520 83.5h1.6v1.6h-1.6zM526.4 85.1h1.6v1.6h-1.6zM521.6 86.7h1.6v1.6h-1.6zM625.6 86.7h1.6v1.6h-1.6zM628.8 86.7h1.6v1.6h-1.6zM523.2 88.3h1.6v1.6h-1.6zM628.8 88.3h1.6v1.6h-1.6zM520 89.9h3.2v1.6h-3.2zM524.8 89.9h1.6v1.6h-1.6zM520 91.5h1.6v1.6h-1.6zM526.4 91.5h1.6v1.6h-1.6zM529.6 91.5h1.6v1.6h-1.6zM524.8 93.1h1.6v1.6h-1.6zM628.8 93.1h4.8v1.6h-4.8zM518.4 94.7h1.6v1.6h-1.6zM531.2 94.7h1.6v1.6h-1.6zM534.4 94.7h3.2v1.6h-3.2zM537.6 96.3h1.6v1.6h-1.6zM630.4 96.3h1.6v1.6h-1.6zM529.6 97.9h3.2v1.6h-3.2zM534.4 97.9h1.6v1.6h-1.6zM540.8 97.9h1.6v1.6h-1.6zM529.6 99.5h1.6v1.6h-1.6zM542.4 99.5h3.2v1.6h-3.2zM542.4 101.1h3.2v1.6h-3.2zM633.6 101.1h1.6v1.6h-1.6zM526.4 102.7h1.6v1.6h-1.6zM531.2 102.7h1.6v1.6h-1.6zM544 102.7h1.6v1.6h-1.6zM633.6 102.7h1.6v1.6h-1.6zM520 104.3h1.6v1.6h-1.6zM523.2 104.3h1.6v1.6h-1.6zM528 104.3h1.6v1.6h-1.6zM540.8 104.3h1.6v1.6h-1.6zM524.8 105.9h1.6v1.6h-1.6zM540.8 105.9h1.6v1.6h-1.6zM544 105.9h1.6v1.6h-1.6zM545.6 107.5h1.6v1.6h-1.6zM635.2 107.5h1.6v1.6h-1.6zM529.6 109.1h6.4v1.6h-6.4zM633.6 109.1h3.2v1.6h-3.2zM537.6 110.7h1.6v1.6h-1.6zM526.4 112.3h1.6v1.6h-1.6zM537.6 112.3h1.6v1.6h-1.6zM548.8 112.3h1.6v1.6h-1.6zM617.6 112.3h1.6v1.6h-1.6zM632 112.3h1.6v1.6h-1.6zM526.4 113.9h1.6v1.6h-1.6zM536 113.9h1.6v1.6h-1.6zM614.4 113.9h1.6v1.6h-1.6zM523.2 115.5h1.6v1.6h-1.6zM536 115.5h1.6v1.6h-1.6zM553.6 115.5h1.6v1.6h-1.6zM603.2 115.5h4.8v1.6h-4.8zM622.4 115.5h1.6v1.6h-1.6zM635.2 115.5h1.6v1.6h-1.6zM539.2 117.1h1.6v1.6h-1.6zM603.2 117.1h3.2v1.6h-3.2zM608 117.1h1.6v1.6h-1.6zM612.8 117.1h1.6v1.6h-1.6zM617.6 117.1h3.2v1.6h-3.2zM627.2 117.1h1.6v1.6h-1.6zM556.8 118.7h1.6v1.6h-1.6zM601.6 118.7h1.6v1.6h-1.6zM608 118.7h3.2v1.6h-3.2zM614.4 118.7h3.2v1.6h-3.2zM636.8 118.7h1.6v1.6h-1.6zM640 118.7h1.6v1.6h-1.6zM555.2 120.3h1.6v1.6h-1.6zM606.4 120.3h1.6v1.6h-1.6zM612.8 120.3h1.6v1.6h-1.6zM619.2 120.3h1.6v1.6h-1.6zM518.4 121.9h1.6v1.6h-1.6zM537.6 121.9h1.6v1.6h-1.6zM555.2 121.9h1.6v1.6h-1.6zM601.6 121.9h1.6v1.6h-1.6zM609.6 121.9h1.6v1.6h-1.6zM635.2 121.9h3.2v1.6h-3.2zM640 121.9h1.6v1.6h-1.6zM643.2 121.9h1.6v1.6h-1.6zM518.4 123.5h1.6v1.6h-1.6zM555.2 123.5h1.6v1.6h-1.6zM603.2 123.5h3.2v1.6h-3.2zM636.8 123.5h1.6v1.6h-1.6zM532.8 125.1h1.6v1.6h-1.6zM537.6 125.1h1.6v1.6h-1.6zM577.6 125.1h1.6v1.6h-1.6zM603.2 125.1h1.6v1.6h-1.6zM609.6 125.1h1.6v1.6h-1.6zM636.8 125.1h1.6v1.6h-1.6zM536 126.7h1.6v1.6h-1.6zM577.6 126.7h1.6v1.6h-1.6zM640 126.7h1.6v1.6h-1.6zM524.8 128.3h1.6v1.6h-1.6zM528 128.3h1.6v1.6h-1.6zM603.2 128.3h1.6v1.6h-1.6zM620.8 128.3h1.6v1.6h-1.6zM636.8 128.3h1.6v1.6h-1.6zM646.4 128.3h0.5v1.6h-0.5zM531.2 129.9h1.6v1.6h-1.6zM539.2 129.9h1.6v1.6h-1.6zM556.8 129.9h1.6v1.6h-1.6zM606.4 129.9h1.6v1.6h-1.6zM528 131.5h1.6v1.6h-1.6zM531.2 131.5h1.6v1.6h-1.6zM534.4 131.5h3.2v1.6h-3.2zM556.8 131.5h3.2v1.6h-3.2zM603.2 131.5h1.6v1.6h-1.6zM608 131.5h1.6v1.6h-1.6zM633.6 131.5h1.6v1.6h-1.6zM536 133.1h1.6v1.6h-1.6zM572.8 133.1h1.6v1.6h-1.6zM580.8 133.1h3.2v1.6h-3.2zM609.6 133.1h1.6v1.6h-1.6zM622.4 133.1h1.6v1.6h-1.6zM638.4 133.1h1.6v1.6h-1.6zM641.6 133.1h1.6v1.6h-1.6zM558.4 134.7h1.6v1.6h-1.6zM571.2 134.7h3.2v1.6h-3.2zM620.8 134.7h1.6v1.6h-1.6zM624 134.7h1.6v1.6h-1.6zM633.6 134.7h4.8v1.6h-4.8zM536 136.3h1.6v1.6h-1.6zM544 136.3h1.6v1.6h-1.6zM558.4 136.3h1.6v1.6h-1.6zM561.6 136.3h1.6v1.6h-1.6zM569.6 136.3h1.6v1.6h-1.6zM592 136.3h3.2v1.6h-3.2zM611.2 136.3h1.6v1.6h-1.6zM620.8 136.3h1.6v1.6h-1.6zM636.8 136.3h3.2v1.6h-3.2zM643.2 136.3h1.6v1.6h-1.6zM536 137.9h3.2v1.6h-3.2zM544 137.9h1.6v1.6h-1.6zM616 137.9h4.8v1.6h-4.8zM633.6 137.9h1.6v1.6h-1.6zM531.2 139.5h1.6v1.6h-1.6zM534.4 139.5h1.6v1.6h-1.6zM544 139.5h1.6v1.6h-1.6zM619.2 139.5h1.6v1.6h-1.6zM534.4 141.1h1.6v1.6h-1.6zM539.2 141.1h1.6v1.6h-1.6zM606.4 141.1h1.6v1.6h-1.6zM598.4 142.7h1.6v1.6h-1.6zM604.8 142.7h1.6v1.6h-1.6zM636.8 142.7h1.6v1.6h-1.6zM598.4 144.3h1.6v1h-1.6z"/>
<path fill="#ebeb99" d="M603.2 19.5h1.6v1.6h-1.6zM606.4 21.1h1.6v1.6h-1.6zM595.2 22.7h1.6v1.6h-1.6zM600 22.7h1.6v1.6h-1.6zM604.8 22.7h1.6v1.6h-1.6zM592 24.3h1.6v1.6h-1.6zM606.4 24.3h1.6v1.6h-1.6zM644.8 25.9h1.6v1.6h-1.6zM544 27.5h1.6v1.6h-1.6zM643.2 27.5h3.7v1.6h-3.7zM545.6 29.1h1.6v1.6h-1.6zM553.6 29.1h1.6v1.6h-1.6zM644.8 29.1h1.6v1.6h-1.6zM536 30.7h1.6v1.6h-1.6zM556.8 30.7h1.6v1.6h-1.6zM545.6 32.3h1.6v1.6h-1.6zM553.6 32.3h1.6v1.6h-1.6zM556.8 32.3h1.6v1.6h-1.6zM561.6 32.3h1.6v1.6h-1.6zM598.4 32.3h1.6v1.6h-1.6zM537.6 33.9h1.6v1.6h-1.6zM553.6 33.9h1.6v1.6h-1.6zM556.8 33.9h1.6v1.6h-1.6zM596.8 33.9h1.6v1.6h-1.6zM603.2 33.9h1.6v1.6h-1.6zM553.6 35.5h3.2v1.6h-3.2zM564.8 35.5h1.6v1.6h-1.6zM585.6 35.5h1.6v1.6h-1.6zM590.4 35.5h1.6v1.6h-1.6zM593.6 35.5h3.2v1.6h-3.2zM625.6 35.5h1.6v1.6h-1.6zM632 35.5h1.6v1.6h-1.6zM555.2 37.1h1.6v1.6h-1.6zM568 37.1h1.6v1.6h-1.6zM584 37.1h1.6v1.6h-1.6zM587.2 37.1h1.6v1.6h-1.6zM592 37.1h3.2v1.6h-3.2zM632 37.1h1.6v1.6h-1.6zM537.6 38.7h1.6v1.6h-1.6zM584 38.7h1.6v1.6h-1.6zM596.8 38.7h1.6v1.6h-1.6zM600 38.7h1.6v1.6h-1.6zM635.2 38.7h3.2v1.6h-3.2zM537.6 40.3h3.2v1.6h-3.2zM561.6 40.3h3.2v1.6h-3.2zM572.8 40.3h1.6v1.6h-1.6zM577.6 40.3h1.6v1.6h-1.6zM580.8 40.3h1.6v1.6h-1.6zM596.8 40.3h3.2v1.6h-3.2zM608 40.3h3.2v1.6h-3.2zM537.6 41.9h1.6v1.6h-1.6zM563.2 41.9h1.6v1.6h-1.6zM579.2 41.9h1.6v1.6h-1.6zM601.6 41.9h1.6v1.6h-1.6zM604.8 41.9h4.8v1.6h-4.8zM611.2 41.9h1.6v1.6h-1.6zM620.8 41.9h1.6v1.6h-1.6zM609.6 43.5h1.6v1.6h-1.6zM612.8 43.5h1.6v1.6h-1.6zM632 43.5h1.6v1.6h-1.6zM536 45.1h1.6v1.6h-1.6zM558.4 45.1h1.6v1.6h-1.6zM633.6 45.1h1.6v1.6h-1.6zM614.4 46.7h1.6v1.6h-1.6zM612.8 48.3h1.6v1.6h-1.6zM534.4 49.9h1.6v1.6h-1.6zM612.8 49.9h1.6v1.6h-1.6zM635.2 49.9h1.6v1.6h-1.6zM612.8 51.5h1.6v1.6h-1.6zM636.8 51.5h1.6v1.6h-1.6zM612.8 53.1h1.6v1.6h-1.6zM638.4 53.1h1.6v1.6h-1.6zM614.4 54.7h4.8v1.6h-4.8zM628.8 54.7h4.8v1.6h-4.8zM638.4 54.7h1.6v1.6h-1.6zM641.6 54.7h1.6v1.6h-1.6zM529.6 56.3h1.6v1.6h-1.6zM540.8 56.3h1.6v1.6h-1.6zM544 56.3h1.6v1.6h-1.6zM614.4 56.3h1.6v1.6h-1.6zM617.6 56.3h4.8v1.6h-4.8zM632 56.3h1.6v1.6h-1.6zM544 57.9h3.2v1.6h-3.2zM622.4 57.9h1.6v1.6h-1.6zM630.4 57.9h1.6v1.6h-1.6zM526.4 59.5h1.6v1.6h-1.6zM536 59.5h1.6v1.6h-1.6zM542.4 59.5h4.8v1.6h-4.8zM641.6 59.5h1.6v1.6h-1.6zM526.4 61.1h3.2v1.6h-3.2zM532.8 61.1h1.6v1.6h-1.6zM537.6 61.1h1.6v1.6h-1.6zM641.6 61.1h1.6v1.6h-1.6zM644.8 61.1h1.6v1.6h-1.6zM526.4 62.7h1.6v1.6h-1.6zM643.2 62.7h1.6v1.6h-1.6zM542.4 64.3h1.6v1.6h-1.6zM633.6 64.3h1.6v1.6h-1.6zM636.8 67.5h4.8v1.6h-4.8zM526.4 69.1h1.6v1.6h-1.6zM632 69.1h1.6v1.6h-1.6zM526.4 72.3h3.2v1.6h-3.2zM625.6 73.9h1.6v1.6h-1.6zM524.8 75.5h1.6v1.6h-1.6zM627.2 77.1h1.6v1.6h-1.6zM520 78.7h1.6v1.6h-1.6zM624 80.3h1.6v1.6h-1.6zM520 81.9h1.6v1.6h-1.6zM622.4 81.9h1.6v1.6h-1.6zM624 83.5h3.2v1.6h-3.2zM625.6 85.1h1.6v1.6h-1.6zM520 88.3h1.6v1.6h-1.6zM524.8 88.3h1.6v1.6h-1.6zM531.2 89.9h1.6v1.6h-1.6zM625.6 89.9h3.2v1.6h-3.2zM531.2 91.5h1.6v1.6h-1.6zM627.2 91.5h1.6v1.6h-1.6zM524.8 94.7h1.6v1.6h-1.6zM628.8 94.7h1.6v1.6h-1.6zM518.4 96.3h1.6v1.6h-1.6zM531.2 96.3h1.6v1.6h-1.6zM534.4 96.3h3.2v1.6h-3.2zM539.2 96.3h3.2v1.6h-3.2zM632 96.3h1.6v1.6h-1.6zM521.6 97.9h1.6v1.6h-1.6zM542.4 97.9h1.6v1.6h-1.6zM632 97.9h1.6v1.6h-1.6zM518.4 99.5h1.6v1.6h-1.6zM531.2 101.1h1.6v1.6h-1.6zM545.6 101.1h1.6v1.6h-1.6zM521.6 102.7h3.2v1.6h-3.2zM529.6 102.7h1.6v1.6h-1.6zM529.6 104.3h3.2v1.6h-3.2zM545.6 104.3h1.6v1.6h-1.6zM523.2 105.9h1.6v1.6h-1.6zM526.4 105.9h3.2v1.6h-3.2zM545.6 105.9h1.6v1.6h-1.6zM528 107.5h1.6v1.6h-1.6zM544 107.5h1.6v1.6h-1.6zM630.4 107.5h1.6v1.6h-1.6zM633.6 107.5h1.6v1.6h-1.6zM547.2 109.1h1.6v1.6h-1.6zM536 110.7h1.6v1.6h-1.6zM548.8 110.7h1.6v1.6h-1.6zM617.6 110.7h1.6v1.6h-1.6zM528 112.3h3.2v1.6h-3.2zM532.8 112.3h1.6v1.6h-1.6zM609.6 112.3h3.2v1.6h-3.2zM630.4 112.3h1.6v1.6h-1.6zM523.2 113.9h1.6v1.6h-1.6zM552 113.9h3.2v1.6h-3.2zM609.6 113.9h1.6v1.6h-1.6zM612.8 113.9h1.6v1.6h-1.6zM616 113.9h1.6v1.6h-1.6zM625.6 113.9h1.6v1.6h-1.6zM630.4 113.9h3.2v1.6h-3.2zM601.6 115.5h1.6v1.6h-1.6zM608 115.5h3.2v1.6h-3.2zM617.6 115.5h1.6v1.6h-1.6zM537.6 117.1h1.6v1.6h-1.6zM601.6 117.1h1.6v1.6h-1.6zM609.6 117.1h3.2v1.6h-3.2zM521.6 118.7h1.6v1.6h-1.6zM537.6 118.7h1.6v1.6h-1.6zM600 118.7h1.6v1.6h-1.6zM611.2 118.7h1.6v1.6h-1.6zM520 120.3h1.6v1.6h-1.6zM536 120.3h1.6v1.6h-1.6zM614.4 120.3h1.6v1.6h-1.6zM640 120.3h3.2v1.6h-3.2zM644.8 120.3h1.6v1.6h-1.6zM520 121.9h1.6v1.6h-1.6zM536 121.9h1.6v1.6h-1.6zM617.6 121.9h1.6v1.6h-1.6zM601.6 123.5h1.6v1.6h-1.6zM620.8 123.5h1.6v1.6h-1.6zM539.2 125.1h1.6v1.6h-1.6zM555.2 125.1h3.2v1.6h-3.2zM580.8 125.1h3.2v1.6h-3.2zM598.4 125.1h1.6v1.6h-1.6zM608 125.1h1.6v1.6h-1.6zM620.8 125.1h1.6v1.6h-1.6zM524.8 126.7h1.6v1.6h-1.6zM532.8 126.7h1.6v1.6h-1.6zM576 126.7h1.6v1.6h-1.6zM580.8 126.7h1.6v1.6h-1.6zM604.8 126.7h1.6v1.6h-1.6zM638.4 126.7h1.6v1.6h-1.6zM644.8 126.7h1.6v1.6h-1.6zM537.6 128.3h1.6v1.6h-1.6zM574.4 128.3h1.6v1.6h-1.6zM604.8 128.3h3.2v1.6h-3.2zM635.2 128.3h1.6v1.6h-1.6zM638.4 128.3h1.6v1.6h-1.6zM641.6 128.3h1.6v1.6h-1.6zM529.6 129.9h1.6v1.6h-1.6zM534.4 129.9h1.6v1.6h-1.6zM579.2 129.9h3.2v1.6h-3.2zM601.6 129.9h1.6v1.6h-1.6zM620.8 129.9h3.2v1.6h-3.2zM641.6 129.9h1.6v1.6h-1.6zM646.4 129.9h0.5v1.6h-0.5zM542.4 131.5h1.6v1.6h-1.6zM576 131.5h3.2v1.6h-3.2zM582.4 131.5h1.6v1.6h-1.6zM587.2 131.5h1.6v1.6h-1.6zM638.4 131.5h1.6v1.6h-1.6zM641.6 131.5h1.6v1.6h-1.6zM646.4 131.5h0.5v1.6h-0.5zM531.2 133.1h1.6v1.6h-1.6zM587.2 133.1h1.6v1.6h-1.6zM531.2 134.7h1.6v1.6h-1.6zM534.4 134.7h1.6v1.6h-1.6zM542.4 134.7h1.6v1.6h-1.6zM577.6 134.7h1.6v1.6h-1.6zM582.4 134.7h1.6v1.6h-1.6zM585.6 134.7h1.6v1.6h-1.6zM588.8 134.7h1.6v1.6h-1.6zM534.4 136.3h1.6v1.6h-1.6zM537.6 136.3h1.6v1.6h-1.6zM542.4 136.3h1.6v1.6h-1.6zM574.4 136.3h1.6v1.6h-1.6zM587.2 136.3h1.6v1.6h-1.6zM619.2 136.3h1.6v1.6h-1.6zM633.6 136.3h1.6v1.6h-1.6zM542.4 137.9h1.6v1.6h-1.6zM564.8 137.9h1.6v1.6h-1.6zM592 137.9h1.6v1.6h-1.6zM604.8 137.9h1.6v1.6h-1.6zM612.8 137.9h1.6v1.6h-1.6zM593.6 139.5h1.6v1.6h-1.6zM603.2 139.5h1.6v1.6h-1.6zM633.6 139.5h1.6v1.6h-1.6zM596.8 141.1h4.8v1.6h-4.8zM636.8 141.1h1.6v1.6h-1.6zM596.8 142.7h1.6v1.6h-1.6zM601.6 142.7h1.6v1.6h-1.6zM601.6 144.3h1.6v1h-1.6z"/>
<path fill="#e6e680" d="M596.8 19.5h1.6v1.6h-1.6zM598.4 21.1h1.6v1.6h-1.6zM596.8 22.7h1.6v1.6h-1.6zM646.4 25.9h0.5v1.6h-0.5zM542.4 27.5h1.6v1.6h-1.6zM595.2 27.5h3.2v1.6h-3.2zM603.2 27.5h1.6v1.6h-1.6zM641.6 27.5h1.6v1.6h-1.6zM542.4 29.1h1.6v1.6h-1.6zM595.2 29.1h1.6v1.6h-1.6zM601.6 29.1h1.6v1.6h-1.6zM641.6 29.1h1.6v1.6h-1.6zM537.6 30.7h1.6v1.6h-1.6zM550.4 30.7h1.6v1.6h-1.6zM558.4 30.7h1.6v1.6h-1.6zM563.2 30.7h1.6v1.6h-1.6zM601.6 30.7h1.6v1.6h-1.6zM548.8 32.3h1.6v1.6h-1.6zM555.2 32.3h1.6v1.6h-1.6zM595.2 32.3h3.2v1.6h-3.2zM603.2 32.3h3.2v1.6h-3.2zM550.4 33.9h3.2v1.6h-3.2zM555.2 33.9h1.6v1.6h-1.6zM590.4 33.9h1.6v1.6h-1.6zM542.4 35.5h1.6v1.6h-1.6zM587.2 35.5h1.6v1.6h-1.6zM564.8 37.1h3.2v1.6h-3.2zM585.6 37.1h1.6v1.6h-1.6zM588.8 37.1h1.6v1.6h-1.6zM595.2 37.1h1.6v1.6h-1.6zM625.6 37.1h3.2v1.6h-3.2zM633.6 37.1h1.6v1.6h-1.6zM556.8 38.7h1.6v1.6h-1.6zM560 38.7h1.6v1.6h-1.6zM566.4 38.7h1.6v1.6h-1.6zM585.6 38.7h1.6v1.6h-1.6zM627.2 38.7h1.6v1.6h-1.6zM564.8 40.3h1.6v1.6h-1.6zM569.6 40.3h1.6v1.6h-1.6zM582.4 40.3h1.6v1.6h-1.6zM595.2 40.3h1.6v1.6h-1.6zM600 40.3h1.6v1.6h-1.6zM603.2 40.3h1.6v1.6h-1.6zM625.6 40.3h1.6v1.6h-1.6zM628.8 40.3h1.6v1.6h-1.6zM539.2 41.9h1.6v1.6h-1.6zM556.8 41.9h3.2v1.6h-3.2zM574.4 41.9h4.8v1.6h-4.8zM580.8 41.9h3.2v1.6h-3.2zM596.8 41.9h4.8v1.6h-4.8zM609.6 41.9h1.6v1.6h-1.6zM612.8 41.9h1.6v1.6h-1.6zM625.6 41.9h1.6v1.6h-1.6zM633.6 41.9h1.6v1.6h-1.6zM556.8 43.5h4.8v1.6h-4.8zM604.8 43.5h1.6v1.6h-1.6zM608 43.5h1.6v1.6h-1.6zM627.2 43.5h1.6v1.6h-1.6zM633.6 43.5h1.6v1.6h-1.6zM560 45.1h3.2v1.6h-3.2zM609.6 45.1h1.6v1.6h-1.6zM612.8 45.1h1.6v1.6h-1.6zM628.8 45.1h3.2v1.6h-3.2zM542.4 46.7h1.6v1.6h-1.6zM560 46.7h1.6v1.6h-1.6zM534.4 48.3h1.6v1.6h-1.6zM542.4 48.3h1.6v1.6h-1.6zM536 49.9h3.2v1.6h-3.2zM531.2 53.1h3.2v1.6h-3.2zM536 53.1h4.8v1.6h-4.8zM632 53.1h1.6v1.6h-1.6zM532.8 54.7h1.6v1.6h-1.6zM542.4 54.7h1.6v1.6h-1.6zM545.6 54.7h1.6v1.6h-1.6zM612.8 54.7h1.6v1.6h-1.6zM633.6 54.7h1.6v1.6h-1.6zM636.8 54.7h1.6v1.6h-1.6zM539.2 56.3h1.6v1.6h-1.6zM547.2 56.3h1.6v1.6h-1.6zM616 56.3h1.6v1.6h-1.6zM633.6 56.3h1.6v1.6h-1.6zM641.6 56.3h1.6v1.6h-1.6zM528 57.9h1.6v1.6h-1.6zM540.8 57.9h1.6v1.6h-1.6zM547.2 57.9h3.2v1.6h-3.2zM614.4 57.9h1.6v1.6h-1.6zM617.6 57.9h3.2v1.6h-3.2zM632 57.9h1.6v1.6h-1.6zM640 57.9h1.6v1.6h-1.6zM528 59.5h1.6v1.6h-1.6zM537.6 59.5h1.6v1.6h-1.6zM540.8 59.5h1.6v1.6h-1.6zM625.6 59.5h1.6v1.6h-1.6zM545.6 61.1h3.2v1.6h-3.2zM627.2 61.1h1.6v1.6h-1.6zM528 62.7h1.6v1.6h-1.6zM547.2 62.7h1.6v1.6h-1.6zM526.4 64.3h1.6v1.6h-1.6zM531.2 64.3h1.6v1.6h-1.6zM544 64.3h1.6v1.6h-1.6zM638.4 65.9h3.2v1.6h-3.2zM633.6 67.5h1.6v1.6h-1.6zM635.2 69.1h1.6v1.6h-1.6zM528 70.7h1.6v1.6h-1.6zM628.8 70.7h1.6v1.6h-1.6zM625.6 72.3h1.6v1.6h-1.6zM523.2 75.5h1.6v1.6h-1.6zM532.8 75.5h1.6v1.6h-1.6zM627.2 75.5h1.6v1.6h-1.6zM521.6 77.1h1.6v1.6h-1.6zM622.4 77.1h1.6v1.6h-1.6zM625.6 77.1h1.6v1.6h-1.6zM524.8 78.7h1.6v1.6h-1.6zM625.6 78.7h1.6v1.6h-1.6zM622.4 80.3h1.6v1.6h-1.6zM521.6 81.9h1.6v1.6h-1.6zM518.4 83.5h1.6v1.6h-1.6zM622.4 83.5h1.6v1.6h-1.6zM521.6 85.1h1.6v1.6h-1.6zM528 86.7h1.6v1.6h-1.6zM624 86.7h1.6v1.6h-1.6zM528 88.3h1.6v1.6h-1.6zM624 88.3h1.6v1.6h-1.6zM627.2 88.3h1.6v1.6h-1.6zM528 89.9h1.6v1.6h-1.6zM528 91.5h1.6v1.6h-1.6zM520 93.1h3.2v1.6h-3.2zM528 93.1h1.6v1.6h-1.6zM531.2 93.1h1.6v1.6h-1.6zM625.6 93.1h3.2v1.6h-3.2zM529.6 94.7h1.6v1.6h-1.6zM532.8 94.7h1.6v1.6h-1.6zM523.2 96.3h1.6v1.6h-1.6zM529.6 96.3h1.6v1.6h-1.6zM532.8 96.3h1.6v1.6h-1.6zM544 97.9h1.6v1.6h-1.6zM526.4 99.5h1.6v1.6h-1.6zM545.6 99.5h1.6v1.6h-1.6zM518.4 101.1h4.8v1.6h-4.8zM532.8 101.1h1.6v1.6h-1.6zM520 102.7h1.6v1.6h-1.6zM532.8 102.7h1.6v1.6h-1.6zM524.8 104.3h3.2v1.6h-3.2zM547.2 105.9h1.6v1.6h-1.6zM632 105.9h1.6v1.6h-1.6zM548.8 107.5h1.6v1.6h-1.6zM632 107.5h1.6v1.6h-1.6zM548.8 109.1h4.8v1.6h-4.8zM632 109.1h1.6v1.6h-1.6zM532.8 110.7h1.6v1.6h-1.6zM550.4 110.7h3.2v1.6h-3.2zM614.4 110.7h1.6v1.6h-1.6zM628.8 110.7h1.6v1.6h-1.6zM632 110.7h3.2v1.6h-3.2zM534.4 112.3h1.6v1.6h-1.6zM550.4 112.3h3.2v1.6h-3.2zM555.2 112.3h1.6v1.6h-1.6zM612.8 112.3h4.8v1.6h-4.8zM620.8 112.3h3.2v1.6h-3.2zM524.8 113.9h1.6v1.6h-1.6zM528 113.9h1.6v1.6h-1.6zM534.4 113.9h1.6v1.6h-1.6zM601.6 113.9h1.6v1.6h-1.6zM606.4 113.9h3.2v1.6h-3.2zM617.6 113.9h3.2v1.6h-3.2zM624 113.9h1.6v1.6h-1.6zM627.2 113.9h1.6v1.6h-1.6zM534.4 115.5h1.6v1.6h-1.6zM537.6 115.5h1.6v1.6h-1.6zM556.8 115.5h1.6v1.6h-1.6zM600 115.5h1.6v1.6h-1.6zM624 115.5h1.6v1.6h-1.6zM555.2 117.1h4.8v1.6h-4.8zM600 117.1h1.6v1.6h-1.6zM598.4 118.7h1.6v1.6h-1.6zM612.8 118.7h1.6v1.6h-1.6zM534.4 120.3h1.6v1.6h-1.6zM537.6 120.3h1.6v1.6h-1.6zM598.4 120.3h1.6v1.6h-1.6zM601.6 120.3h1.6v1.6h-1.6zM609.6 120.3h1.6v1.6h-1.6zM532.8 121.9h1.6v1.6h-1.6zM619.2 121.9h1.6v1.6h-1.6zM638.4 121.9h1.6v1.6h-1.6zM641.6 121.9h1.6v1.6h-1.6zM524.8 123.5h1.6v1.6h-1.6zM528 123.5h1.6v1.6h-1.6zM577.6 123.5h1.6v1.6h-1.6zM598.4 123.5h1.6v1.6h-1.6zM606.4 123.5h1.6v1.6h-1.6zM609.6 123.5h1.6v1.6h-1.6zM619.2 123.5h1.6v1.6h-1.6zM520 125.1h4.8v1.6h-4.8zM534.4 125.1h1.6v1.6h-1.6zM558.4 125.1h1.6v1.6h-1.6zM576 125.1h1.6v1.6h-1.6zM604.8 125.1h3.2v1.6h-3.2zM641.6 125.1h1.6v1.6h-1.6zM521.6 126.7h1.6v1.6h-1.6zM598.4 126.7h1.6v1.6h-1.6zM601.6 126.7h1.6v1.6h-1.6zM608 126.7h1.6v1.6h-1.6zM636.8 126.7h1.6v1.6h-1.6zM531.2 128.3h3.2v1.6h-3.2zM576 128.3h3.2v1.6h-3.2zM644.8 128.3h1.6v1.6h-1.6zM526.4 129.9h1.6v1.6h-1.6zM544 129.9h1.6v1.6h-1.6zM636.8 129.9h1.6v1.6h-1.6zM644.8 129.9h1.6v1.6h-1.6zM537.6 131.5h3.2v1.6h-3.2zM572.8 131.5h3.2v1.6h-3.2zM585.6 131.5h1.6v1.6h-1.6zM600 131.5h3.2v1.6h-3.2zM622.4 131.5h1.6v1.6h-1.6zM644.8 131.5h1.6v1.6h-1.6zM537.6 133.1h1.6v1.6h-1.6zM560 133.1h1.6v1.6h-1.6zM571.2 133.1h1.6v1.6h-1.6zM588.8 133.1h1.6v1.6h-1.6zM601.6 133.1h3.2v1.6h-3.2zM624 133.1h1.6v1.6h-1.6zM561.6 134.7h1.6v1.6h-1.6zM564.8 134.7h6.4v1.6h-6.4zM603.2 134.7h1.6v1.6h-1.6zM539.2 136.3h1.6v1.6h-1.6zM560 136.3h1.6v1.6h-1.6zM563.2 136.3h1.6v1.6h-1.6zM616 136.3h1.6v1.6h-1.6zM593.6 137.9h1.6v1.6h-1.6zM606.4 137.9h1.6v1.6h-1.6zM640 137.9h1.6v1.6h-1.6zM595.2 139.5h1.6v1.6h-1.6zM598.4 139.5h1.6v1.6h-1.6zM601.6 139.5h1.6v1.6h-1.6zM604.8 139.5h1.6v1.6h-1.6zM636.8 139.5h3.2v1.6h-3.2zM601.6 141.1h1.6v1.6h-1.6zM604.8 141.1h1.6v1.6h-1.6z"/>
<path fill="#e6de6b" d="M596.8 21.1h1.6v1.6h-1.6zM598.4 22.7h1.6v1.6h-1.6zM598.4 24.3h1.6v1.6h-1.6zM596.8 25.9h1.6v1.6h-1.6zM604.8 25.9h1.6v1.6h-1.6zM598.4 27.5h1.6v1.6h-1.6zM606.4 27.5h1.6v1.6h-1.6zM540.8 29.1h1.6v1.6h-1.6zM598.4 29.1h1.6v1.6h-1.6zM646.4 29.1h0.5v1.6h-0.5zM547.2 30.7h3.2v1.6h-3.2zM596.8 30.7h1.6v1.6h-1.6zM542.4 32.3h1.6v1.6h-1.6zM558.4 32.3h1.6v1.6h-1.6zM600 32.3h3.2v1.6h-3.2zM542.4 33.9h1.6v1.6h-1.6zM545.6 33.9h3.2v1.6h-3.2zM560 33.9h1.6v1.6h-1.6zM598.4 33.9h1.6v1.6h-1.6zM548.8 35.5h4.8v1.6h-4.8zM556.8 35.5h1.6v1.6h-1.6zM561.6 35.5h3.2v1.6h-3.2zM628.8 35.5h1.6v1.6h-1.6zM552 37.1h3.2v1.6h-3.2zM560 37.1h1.6v1.6h-1.6zM563.2 37.1h1.6v1.6h-1.6zM590.4 37.1h1.6v1.6h-1.6zM630.4 37.1h1.6v1.6h-1.6zM552 38.7h3.2v1.6h-3.2zM564.8 38.7h1.6v1.6h-1.6zM625.6 38.7h1.6v1.6h-1.6zM540.8 40.3h1.6v1.6h-1.6zM553.6 40.3h3.2v1.6h-3.2zM560 40.3h1.6v1.6h-1.6zM566.4 40.3h3.2v1.6h-3.2zM571.2 40.3h1.6v1.6h-1.6zM584 40.3h1.6v1.6h-1.6zM590.4 40.3h1.6v1.6h-1.6zM593.6 40.3h1.6v1.6h-1.6zM601.6 40.3h1.6v1.6h-1.6zM632 40.3h1.6v1.6h-1.6zM635.2 40.3h1.6v1.6h-1.6zM555.2 41.9h1.6v1.6h-1.6zM564.8 41.9h3.2v1.6h-3.2zM571.2 41.9h3.2v1.6h-3.2zM584 41.9h1.6v1.6h-1.6zM590.4 41.9h1.6v1.6h-1.6zM593.6 41.9h3.2v1.6h-3.2zM603.2 41.9h1.6v1.6h-1.6zM627.2 41.9h4.8v1.6h-4.8zM635.2 41.9h1.6v1.6h-1.6zM536 43.5h1.6v1.6h-1.6zM539.2 43.5h1.6v1.6h-1.6zM552 43.5h1.6v1.6h-1.6zM561.6 43.5h1.6v1.6h-1.6zM577.6 43.5h3.2v1.6h-3.2zM582.4 43.5h3.2v1.6h-3.2zM606.4 43.5h1.6v1.6h-1.6zM628.8 43.5h1.6v1.6h-1.6zM593.6 45.1h1.6v1.6h-1.6zM611.2 45.1h1.6v1.6h-1.6zM558.4 46.7h1.6v1.6h-1.6zM609.6 46.7h3.2v1.6h-3.2zM537.6 48.3h1.6v1.6h-1.6zM548.8 48.3h1.6v1.6h-1.6zM556.8 48.3h1.6v1.6h-1.6zM552 49.9h1.6v1.6h-1.6zM556.8 49.9h1.6v1.6h-1.6zM611.2 49.9h1.6v1.6h-1.6zM540.8 51.5h1.6v1.6h-1.6zM611.2 51.5h1.6v1.6h-1.6zM534.4 53.1h1.6v1.6h-1.6zM550.4 53.1h1.6v1.6h-1.6zM611.2 53.1h1.6v1.6h-1.6zM534.4 54.7h3.2v1.6h-3.2zM544 54.7h1.6v1.6h-1.6zM550.4 54.7h1.6v1.6h-1.6zM537.6 56.3h1.6v1.6h-1.6zM542.4 56.3h1.6v1.6h-1.6zM548.8 56.3h1.6v1.6h-1.6zM640 56.3h1.6v1.6h-1.6zM536 57.9h4.8v1.6h-4.8zM542.4 57.9h1.6v1.6h-1.6zM550.4 57.9h3.2v1.6h-3.2zM612.8 57.9h1.6v1.6h-1.6zM616 57.9h1.6v1.6h-1.6zM624 57.9h1.6v1.6h-1.6zM627.2 57.9h3.2v1.6h-3.2zM641.6 57.9h1.6v1.6h-1.6zM539.2 59.5h1.6v1.6h-1.6zM547.2 59.5h4.8v1.6h-4.8zM619.2 59.5h6.4v1.6h-6.4zM627.2 59.5h3.2v1.6h-3.2zM640 59.5h1.6v1.6h-1.6zM542.4 61.1h3.2v1.6h-3.2zM548.8 61.1h3.2v1.6h-3.2zM612.8 61.1h3.2v1.6h-3.2zM529.6 62.7h3.2v1.6h-3.2zM537.6 62.7h1.6v1.6h-1.6zM540.8 62.7h3.2v1.6h-3.2zM545.6 62.7h1.6v1.6h-1.6zM548.8 62.7h3.2v1.6h-3.2zM528 64.3h3.2v1.6h-3.2zM545.6 64.3h1.6v1.6h-1.6zM640 64.3h1.6v1.6h-1.6zM526.4 65.9h1.6v1.6h-1.6zM542.4 65.9h1.6v1.6h-1.6zM632 65.9h1.6v1.6h-1.6zM635.2 65.9h3.2v1.6h-3.2zM632 67.5h1.6v1.6h-1.6zM628.8 69.1h1.6v1.6h-1.6zM633.6 69.1h1.6v1.6h-1.6zM529.6 70.7h1.6v1.6h-1.6zM627.2 70.7h1.6v1.6h-1.6zM635.2 70.7h1.6v1.6h-1.6zM627.2 72.3h4.8v1.6h-4.8zM529.6 73.9h4.8v1.6h-4.8zM624 73.9h1.6v1.6h-1.6zM627.2 73.9h3.2v1.6h-3.2zM534.4 75.5h1.6v1.6h-1.6zM624 75.5h1.6v1.6h-1.6zM624 77.1h1.6v1.6h-1.6zM521.6 78.7h3.2v1.6h-3.2zM622.4 78.7h3.2v1.6h-3.2zM523.2 80.3h1.6v1.6h-1.6zM537.6 80.3h1.6v1.6h-1.6zM620.8 81.9h1.6v1.6h-1.6zM526.4 83.5h1.6v1.6h-1.6zM620.8 83.5h1.6v1.6h-1.6zM518.4 85.1h1.6v1.6h-1.6zM528 85.1h3.2v1.6h-3.2zM620.8 85.1h1.6v1.6h-1.6zM624 85.1h1.6v1.6h-1.6zM523.2 86.7h1.6v1.6h-1.6zM526.4 86.7h1.6v1.6h-1.6zM620.8 86.7h1.6v1.6h-1.6zM620.8 88.3h1.6v1.6h-1.6zM624 89.9h1.6v1.6h-1.6zM529.6 93.1h1.6v1.6h-1.6zM520 94.7h1.6v1.6h-1.6zM523.2 94.7h1.6v1.6h-1.6zM528 94.7h1.6v1.6h-1.6zM537.6 94.7h3.2v1.6h-3.2zM622.4 94.7h1.6v1.6h-1.6zM524.8 96.3h1.6v1.6h-1.6zM528 96.3h1.6v1.6h-1.6zM544 96.3h1.6v1.6h-1.6zM622.4 96.3h1.6v1.6h-1.6zM545.6 97.9h1.6v1.6h-1.6zM528 99.5h1.6v1.6h-1.6zM531.2 99.5h3.2v1.6h-3.2zM528 101.1h1.6v1.6h-1.6zM630.4 101.1h1.6v1.6h-1.6zM524.8 102.7h1.6v1.6h-1.6zM528 102.7h1.6v1.6h-1.6zM545.6 102.7h1.6v1.6h-1.6zM630.4 102.7h1.6v1.6h-1.6zM548.8 105.9h1.6v1.6h-1.6zM612.8 105.9h1.6v1.6h-1.6zM547.2 107.5h1.6v1.6h-1.6zM614.4 109.1h1.6v1.6h-1.6zM531.2 110.7h1.6v1.6h-1.6zM555.2 110.7h1.6v1.6h-1.6zM616 110.7h1.6v1.6h-1.6zM556.8 112.3h1.6v1.6h-1.6zM603.2 112.3h3.2v1.6h-3.2zM619.2 112.3h1.6v1.6h-1.6zM624 112.3h1.6v1.6h-1.6zM555.2 113.9h1.6v1.6h-1.6zM560 113.9h3.2v1.6h-3.2zM600 113.9h1.6v1.6h-1.6zM603.2 113.9h3.2v1.6h-3.2zM611.2 113.9h1.6v1.6h-1.6zM622.4 113.9h1.6v1.6h-1.6zM628.8 113.9h1.6v1.6h-1.6zM524.8 115.5h1.6v1.6h-1.6zM598.4 115.5h1.6v1.6h-1.6zM619.2 115.5h3.2v1.6h-3.2zM628.8 115.5h1.6v1.6h-1.6zM521.6 117.1h1.6v1.6h-1.6zM532.8 117.1h4.8v1.6h-4.8zM598.4 117.1h1.6v1.6h-1.6zM532.8 120.3h1.6v1.6h-1.6zM556.8 120.3h1.6v1.6h-1.6zM608 120.3h1.6v1.6h-1.6zM611.2 120.3h1.6v1.6h-1.6zM617.6 120.3h1.6v1.6h-1.6zM520 123.5h1.6v1.6h-1.6zM529.6 123.5h4.8v1.6h-4.8zM600 123.5h1.6v1.6h-1.6zM614.4 123.5h1.6v1.6h-1.6zM638.4 123.5h3.2v1.6h-3.2zM524.8 125.1h3.2v1.6h-3.2zM574.4 125.1h1.6v1.6h-1.6zM579.2 125.1h1.6v1.6h-1.6zM616 125.1h3.2v1.6h-3.2zM640 125.1h1.6v1.6h-1.6zM643.2 125.1h3.2v1.6h-3.2zM523.2 126.7h1.6v1.6h-1.6zM529.6 126.7h1.6v1.6h-1.6zM534.4 126.7h1.6v1.6h-1.6zM556.8 126.7h3.2v1.6h-3.2zM574.4 126.7h1.6v1.6h-1.6zM596.8 126.7h1.6v1.6h-1.6zM600 126.7h1.6v1.6h-1.6zM641.6 126.7h1.6v1.6h-1.6zM526.4 128.3h1.6v1.6h-1.6zM529.6 128.3h1.6v1.6h-1.6zM558.4 128.3h1.6v1.6h-1.6zM579.2 128.3h1.6v1.6h-1.6zM585.6 128.3h1.6v1.6h-1.6zM643.2 128.3h1.6v1.6h-1.6zM528 129.9h1.6v1.6h-1.6zM558.4 129.9h1.6v1.6h-1.6zM577.6 129.9h1.6v1.6h-1.6zM582.4 129.9h1.6v1.6h-1.6zM600 129.9h1.6v1.6h-1.6zM561.6 131.5h3.2v1.6h-3.2zM579.2 131.5h1.6v1.6h-1.6zM584 131.5h1.6v1.6h-1.6zM588.8 131.5h1.6v1.6h-1.6zM598.4 131.5h1.6v1.6h-1.6zM643.2 131.5h1.6v1.6h-1.6zM584 133.1h3.2v1.6h-3.2zM596.8 133.1h1.6v1.6h-1.6zM539.2 134.7h3.2v1.6h-3.2zM563.2 134.7h1.6v1.6h-1.6zM587.2 134.7h1.6v1.6h-1.6zM593.6 134.7h1.6v1.6h-1.6zM601.6 134.7h1.6v1.6h-1.6zM611.2 134.7h1.6v1.6h-1.6zM617.6 134.7h1.6v1.6h-1.6zM540.8 136.3h1.6v1.6h-1.6zM603.2 136.3h1.6v1.6h-1.6zM540.8 137.9h1.6v1.6h-1.6zM595.2 137.9h1.6v1.6h-1.6zM600 137.9h3.2v1.6h-3.2zM635.2 137.9h1.6v1.6h-1.6zM600 139.5h1.6v1.6h-1.6z"/>
<path fill="#e6d657" d="M600 24.3h1.6v1.6h-1.6zM600 25.9h3.2v1.6h-3.2zM540.8 27.5h1.6v1.6h-1.6zM603.2 29.1h1.6v1.6h-1.6zM539.2 30.7h6.4v1.6h-6.4zM603.2 30.7h1.6v1.6h-1.6zM547.2 32.3h1.6v1.6h-1.6zM539.2 33.9h1.6v1.6h-1.6zM544 33.9h1.6v1.6h-1.6zM540.8 35.5h1.6v1.6h-1.6zM558.4 35.5h1.6v1.6h-1.6zM540.8 37.1h3.2v1.6h-3.2zM550.4 37.1h1.6v1.6h-1.6zM558.4 37.1h1.6v1.6h-1.6zM561.6 37.1h1.6v1.6h-1.6zM539.2 38.7h1.6v1.6h-1.6zM555.2 38.7h1.6v1.6h-1.6zM587.2 38.7h1.6v1.6h-1.6zM592 38.7h4.8v1.6h-4.8zM632 38.7h3.2v1.6h-3.2zM558.4 40.3h1.6v1.6h-1.6zM592 40.3h1.6v1.6h-1.6zM627.2 40.3h1.6v1.6h-1.6zM633.6 40.3h1.6v1.6h-1.6zM553.6 41.9h1.6v1.6h-1.6zM561.6 41.9h1.6v1.6h-1.6zM569.6 41.9h1.6v1.6h-1.6zM585.6 41.9h3.2v1.6h-3.2zM592 41.9h1.6v1.6h-1.6zM537.6 43.5h1.6v1.6h-1.6zM563.2 43.5h4.8v1.6h-4.8zM574.4 43.5h3.2v1.6h-3.2zM580.8 43.5h1.6v1.6h-1.6zM585.6 43.5h1.6v1.6h-1.6zM588.8 43.5h1.6v1.6h-1.6zM593.6 43.5h1.6v1.6h-1.6zM598.4 43.5h3.2v1.6h-3.2zM630.4 43.5h1.6v1.6h-1.6zM552 45.1h3.2v1.6h-3.2zM579.2 45.1h3.2v1.6h-3.2zM585.6 45.1h1.6v1.6h-1.6zM592 45.1h1.6v1.6h-1.6zM595.2 45.1h1.6v1.6h-1.6zM598.4 45.1h8v1.6h-8zM608 45.1h1.6v1.6h-1.6zM539.2 46.7h1.6v1.6h-1.6zM556.8 46.7h1.6v1.6h-1.6zM598.4 46.7h3.2v1.6h-3.2zM612.8 46.7h1.6v1.6h-1.6zM560 48.3h3.2v1.6h-3.2zM609.6 48.3h3.2v1.6h-3.2zM544 49.9h1.6v1.6h-1.6zM548.8 49.9h1.6v1.6h-1.6zM609.6 49.9h1.6v1.6h-1.6zM552 51.5h3.2v1.6h-3.2zM556.8 51.5h4.8v1.6h-4.8zM609.6 51.5h1.6v1.6h-1.6zM542.4 53.1h1.6v1.6h-1.6zM547.2 53.1h3.2v1.6h-3.2zM552 53.1h8v1.6h-8zM537.6 54.7h3.2v1.6h-3.2zM548.8 54.7h1.6v1.6h-1.6zM552 54.7h1.6v1.6h-1.6zM555.2 54.7h3.2v1.6h-3.2zM611.2 54.7h1.6v1.6h-1.6zM635.2 54.7h1.6v1.6h-1.6zM550.4 56.3h6.4v1.6h-6.4zM609.6 56.3h4.8v1.6h-4.8zM635.2 56.3h1.6v1.6h-1.6zM638.4 56.3h1.6v1.6h-1.6zM529.6 57.9h1.6v1.6h-1.6zM534.4 57.9h1.6v1.6h-1.6zM553.6 57.9h1.6v1.6h-1.6zM611.2 57.9h1.6v1.6h-1.6zM638.4 57.9h1.6v1.6h-1.6zM552 59.5h1.6v1.6h-1.6zM611.2 59.5h8v1.6h-8zM638.4 59.5h1.6v1.6h-1.6zM529.6 61.1h3.2v1.6h-3.2zM536 61.1h1.6v1.6h-1.6zM540.8 61.1h1.6v1.6h-1.6zM611.2 61.1h1.6v1.6h-1.6zM628.8 61.1h1.6v1.6h-1.6zM532.8 62.7h3.2v1.6h-3.2zM544 62.7h1.6v1.6h-1.6zM612.8 62.7h3.2v1.6h-3.2zM624 62.7h4.8v1.6h-4.8zM641.6 62.7h1.6v1.6h-1.6zM548.8 64.3h1.6v1.6h-1.6zM531.2 65.9h1.6v1.6h-1.6zM548.8 65.9h1.6v1.6h-1.6zM534.4 67.5h1.6v1.6h-1.6zM540.8 67.5h1.6v1.6h-1.6zM630.4 67.5h1.6v1.6h-1.6zM532.8 69.1h1.6v1.6h-1.6zM627.2 69.1h1.6v1.6h-1.6zM630.4 69.1h1.6v1.6h-1.6zM526.4 70.7h1.6v1.6h-1.6zM531.2 70.7h1.6v1.6h-1.6zM624 70.7h1.6v1.6h-1.6zM531.2 72.3h3.2v1.6h-3.2zM526.4 73.9h3.2v1.6h-3.2zM622.4 75.5h1.6v1.6h-1.6zM524.8 77.1h1.6v1.6h-1.6zM537.6 78.7h1.6v1.6h-1.6zM620.8 78.7h1.6v1.6h-1.6zM532.8 80.3h1.6v1.6h-1.6zM539.2 80.3h1.6v1.6h-1.6zM620.8 80.3h1.6v1.6h-1.6zM526.4 81.9h3.2v1.6h-3.2zM619.2 83.5h1.6v1.6h-1.6zM524.8 85.1h1.6v1.6h-1.6zM619.2 85.1h1.6v1.6h-1.6zM524.8 86.7h1.6v1.6h-1.6zM531.2 86.7h1.6v1.6h-1.6zM619.2 86.7h1.6v1.6h-1.6zM622.4 86.7h1.6v1.6h-1.6zM617.6 88.3h3.2v1.6h-3.2zM622.4 88.3h1.6v1.6h-1.6zM532.8 89.9h1.6v1.6h-1.6zM545.6 89.9h1.6v1.6h-1.6zM619.2 89.9h3.2v1.6h-3.2zM617.6 91.5h1.6v1.6h-1.6zM624 91.5h3.2v1.6h-3.2zM523.2 93.1h1.6v1.6h-1.6zM536 93.1h4.8v1.6h-4.8zM617.6 93.1h3.2v1.6h-3.2zM526.4 94.7h1.6v1.6h-1.6zM625.6 94.7h1.6v1.6h-1.6zM521.6 96.3h1.6v1.6h-1.6zM545.6 96.3h1.6v1.6h-1.6zM620.8 96.3h1.6v1.6h-1.6zM624 96.3h1.6v1.6h-1.6zM520 97.9h1.6v1.6h-1.6zM624 97.9h1.6v1.6h-1.6zM627.2 97.9h1.6v1.6h-1.6zM630.4 97.9h1.6v1.6h-1.6zM520 99.5h3.2v1.6h-3.2zM547.2 99.5h1.6v1.6h-1.6zM628.8 99.5h3.2v1.6h-3.2zM523.2 101.1h1.6v1.6h-1.6zM529.6 101.1h1.6v1.6h-1.6zM548.8 101.1h1.6v1.6h-1.6zM547.2 102.7h1.6v1.6h-1.6zM625.6 102.7h3.2v1.6h-3.2zM632 102.7h1.6v1.6h-1.6zM547.2 104.3h3.2v1.6h-3.2zM617.6 105.9h1.6v1.6h-1.6zM630.4 105.9h1.6v1.6h-1.6zM550.4 107.5h1.6v1.6h-1.6zM553.6 109.1h1.6v1.6h-1.6zM616 109.1h3.2v1.6h-3.2zM625.6 109.1h1.6v1.6h-1.6zM628.8 109.1h1.6v1.6h-1.6zM604.8 110.7h1.6v1.6h-1.6zM620.8 110.7h3.2v1.6h-3.2zM627.2 110.7h1.6v1.6h-1.6zM553.6 112.3h1.6v1.6h-1.6zM558.4 112.3h1.6v1.6h-1.6zM601.6 112.3h1.6v1.6h-1.6zM606.4 112.3h3.2v1.6h-3.2zM627.2 112.3h3.2v1.6h-3.2zM532.8 113.9h1.6v1.6h-1.6zM537.6 113.9h1.6v1.6h-1.6zM532.8 115.5h1.6v1.6h-1.6zM555.2 115.5h1.6v1.6h-1.6zM558.4 115.5h3.2v1.6h-3.2zM596.8 115.5h1.6v1.6h-1.6zM523.2 117.1h1.6v1.6h-1.6zM560 117.1h1.6v1.6h-1.6zM536 118.7h1.6v1.6h-1.6zM521.6 120.3h4.8v1.6h-4.8zM529.6 120.3h1.6v1.6h-1.6zM579.2 120.3h1.6v1.6h-1.6zM596.8 120.3h1.6v1.6h-1.6zM600 120.3h1.6v1.6h-1.6zM521.6 121.9h3.2v1.6h-3.2zM577.6 121.9h1.6v1.6h-1.6zM596.8 121.9h1.6v1.6h-1.6zM611.2 121.9h3.2v1.6h-3.2zM616 121.9h1.6v1.6h-1.6zM526.4 123.5h1.6v1.6h-1.6zM534.4 123.5h1.6v1.6h-1.6zM556.8 123.5h1.6v1.6h-1.6zM572.8 123.5h1.6v1.6h-1.6zM576 123.5h1.6v1.6h-1.6zM580.8 123.5h6.4v1.6h-6.4zM595.2 123.5h3.2v1.6h-3.2zM608 123.5h1.6v1.6h-1.6zM612.8 123.5h1.6v1.6h-1.6zM617.6 123.5h1.6v1.6h-1.6zM643.2 123.5h1.6v1.6h-1.6zM531.2 125.1h1.6v1.6h-1.6zM600 125.1h3.2v1.6h-3.2zM537.6 126.7h1.6v1.6h-1.6zM572.8 126.7h1.6v1.6h-1.6zM579.2 126.7h1.6v1.6h-1.6zM582.4 126.7h1.6v1.6h-1.6zM595.2 126.7h1.6v1.6h-1.6zM609.6 126.7h1.6v1.6h-1.6zM617.6 126.7h1.6v1.6h-1.6zM620.8 126.7h1.6v1.6h-1.6zM646.4 126.7h0.5v1.6h-0.5zM572.8 128.3h1.6v1.6h-1.6zM580.8 128.3h1.6v1.6h-1.6zM600 128.3h3.2v1.6h-3.2zM619.2 128.3h1.6v1.6h-1.6zM532.8 129.9h1.6v1.6h-1.6zM540.8 129.9h1.6v1.6h-1.6zM560 129.9h3.2v1.6h-3.2zM572.8 129.9h4.8v1.6h-4.8zM585.6 129.9h3.2v1.6h-3.2zM608 129.9h1.6v1.6h-1.6zM592 131.5h1.6v1.6h-1.6zM595.2 131.5h3.2v1.6h-3.2zM620.8 131.5h1.6v1.6h-1.6zM540.8 133.1h1.6v1.6h-1.6zM595.2 133.1h1.6v1.6h-1.6zM600 133.1h1.6v1.6h-1.6zM536 134.7h1.6v1.6h-1.6zM592 134.7h1.6v1.6h-1.6zM595.2 134.7h1.6v1.6h-1.6zM612.8 134.7h1.6v1.6h-1.6zM612.8 136.3h3.2v1.6h-3.2zM603.2 137.9h1.6v1.6h-1.6zM596.8 139.5h1.6v1.6h-1.6zM638.4 141.1h1.6v1.6h-1.6z"/>
<path fill="#e6cf42" d="M601.6 22.7h3.2v1.6h-3.2zM603.2 24.3h3.2v1.6h-3.2zM595.2 25.9h1.6v1.6h-1.6zM603.2 25.9h1.6v1.6h-1.6zM601.6 27.5h1.6v1.6h-1.6zM596.8 29.1h1.6v1.6h-1.6zM600 29.1h1.6v1.6h-1.6zM643.2 29.1h1.6v1.6h-1.6zM598.4 30.7h1.6v1.6h-1.6zM604.8 30.7h1.6v1.6h-1.6zM539.2 32.3h1.6v1.6h-1.6zM544 32.3h1.6v1.6h-1.6zM558.4 33.9h1.6v1.6h-1.6zM561.6 33.9h1.6v1.6h-1.6zM544 35.5h1.6v1.6h-1.6zM547.2 35.5h1.6v1.6h-1.6zM548.8 37.1h1.6v1.6h-1.6zM540.8 38.7h1.6v1.6h-1.6zM563.2 38.7h1.6v1.6h-1.6zM628.8 38.7h3.2v1.6h-3.2zM544 40.3h1.6v1.6h-1.6zM556.8 40.3h1.6v1.6h-1.6zM568 41.9h1.6v1.6h-1.6zM588.8 41.9h1.6v1.6h-1.6zM555.2 43.5h1.6v1.6h-1.6zM568 43.5h1.6v1.6h-1.6zM571.2 43.5h1.6v1.6h-1.6zM587.2 43.5h1.6v1.6h-1.6zM592 43.5h1.6v1.6h-1.6zM595.2 43.5h3.2v1.6h-3.2zM539.2 45.1h1.6v1.6h-1.6zM555.2 45.1h3.2v1.6h-3.2zM563.2 45.1h1.6v1.6h-1.6zM574.4 45.1h4.8v1.6h-4.8zM582.4 45.1h3.2v1.6h-3.2zM587.2 45.1h1.6v1.6h-1.6zM590.4 45.1h1.6v1.6h-1.6zM596.8 45.1h1.6v1.6h-1.6zM540.8 46.7h1.6v1.6h-1.6zM550.4 46.7h1.6v1.6h-1.6zM561.6 46.7h1.6v1.6h-1.6zM580.8 46.7h6.4v1.6h-6.4zM592 46.7h3.2v1.6h-3.2zM550.4 48.3h4.8v1.6h-4.8zM558.4 48.3h1.6v1.6h-1.6zM563.2 48.3h1.6v1.6h-1.6zM539.2 49.9h1.6v1.6h-1.6zM558.4 49.9h3.2v1.6h-3.2zM542.4 51.5h1.6v1.6h-1.6zM545.6 51.5h3.2v1.6h-3.2zM608 51.5h1.6v1.6h-1.6zM544 53.1h1.6v1.6h-1.6zM560 53.1h1.6v1.6h-1.6zM609.6 53.1h1.6v1.6h-1.6zM547.2 54.7h1.6v1.6h-1.6zM553.6 54.7h1.6v1.6h-1.6zM531.2 56.3h1.6v1.6h-1.6zM556.8 56.3h1.6v1.6h-1.6zM608 56.3h1.6v1.6h-1.6zM636.8 56.3h1.6v1.6h-1.6zM555.2 57.9h1.6v1.6h-1.6zM609.6 57.9h1.6v1.6h-1.6zM532.8 59.5h3.2v1.6h-3.2zM553.6 59.5h1.6v1.6h-1.6zM609.6 59.5h1.6v1.6h-1.6zM630.4 59.5h1.6v1.6h-1.6zM635.2 59.5h1.6v1.6h-1.6zM534.4 61.1h1.6v1.6h-1.6zM539.2 61.1h1.6v1.6h-1.6zM552 61.1h1.6v1.6h-1.6zM616 61.1h1.6v1.6h-1.6zM624 61.1h3.2v1.6h-3.2zM638.4 61.1h1.6v1.6h-1.6zM552 62.7h1.6v1.6h-1.6zM611.2 62.7h1.6v1.6h-1.6zM620.8 62.7h1.6v1.6h-1.6zM633.6 62.7h1.6v1.6h-1.6zM638.4 62.7h3.2v1.6h-3.2zM536 64.3h1.6v1.6h-1.6zM540.8 64.3h1.6v1.6h-1.6zM547.2 64.3h1.6v1.6h-1.6zM550.4 64.3h1.6v1.6h-1.6zM625.6 64.3h1.6v1.6h-1.6zM635.2 64.3h1.6v1.6h-1.6zM528 65.9h3.2v1.6h-3.2zM544 65.9h4.8v1.6h-4.8zM550.4 65.9h1.6v1.6h-1.6zM630.4 65.9h1.6v1.6h-1.6zM528 67.5h1.6v1.6h-1.6zM532.8 67.5h1.6v1.6h-1.6zM547.2 67.5h1.6v1.6h-1.6zM529.6 69.1h1.6v1.6h-1.6zM536 69.1h8v1.6h-8zM534.4 70.7h3.2v1.6h-3.2zM622.4 72.3h3.2v1.6h-3.2zM622.4 73.9h1.6v1.6h-1.6zM529.6 75.5h1.6v1.6h-1.6zM619.2 75.5h1.6v1.6h-1.6zM526.4 77.1h1.6v1.6h-1.6zM529.6 77.1h1.6v1.6h-1.6zM620.8 77.1h1.6v1.6h-1.6zM532.8 78.7h1.6v1.6h-1.6zM539.2 78.7h1.6v1.6h-1.6zM619.2 78.7h1.6v1.6h-1.6zM529.6 80.3h3.2v1.6h-3.2zM523.2 81.9h1.6v1.6h-1.6zM524.8 83.5h1.6v1.6h-1.6zM534.4 83.5h1.6v1.6h-1.6zM531.2 85.1h1.6v1.6h-1.6zM622.4 85.1h1.6v1.6h-1.6zM532.8 86.7h1.6v1.6h-1.6zM617.6 86.7h1.6v1.6h-1.6zM526.4 88.3h1.6v1.6h-1.6zM531.2 88.3h1.6v1.6h-1.6zM545.6 88.3h1.6v1.6h-1.6zM544 89.9h1.6v1.6h-1.6zM547.2 89.9h1.6v1.6h-1.6zM617.6 89.9h1.6v1.6h-1.6zM622.4 89.9h1.6v1.6h-1.6zM532.8 91.5h3.2v1.6h-3.2zM545.6 91.5h1.6v1.6h-1.6zM619.2 91.5h4.8v1.6h-4.8zM545.6 93.1h3.2v1.6h-3.2zM616 93.1h1.6v1.6h-1.6zM521.6 94.7h1.6v1.6h-1.6zM540.8 94.7h1.6v1.6h-1.6zM544 94.7h1.6v1.6h-1.6zM547.2 94.7h1.6v1.6h-1.6zM616 94.7h1.6v1.6h-1.6zM620.8 94.7h1.6v1.6h-1.6zM624 94.7h1.6v1.6h-1.6zM627.2 94.7h1.6v1.6h-1.6zM542.4 96.3h1.6v1.6h-1.6zM547.2 96.3h1.6v1.6h-1.6zM614.4 96.3h1.6v1.6h-1.6zM625.6 96.3h1.6v1.6h-1.6zM628.8 96.3h1.6v1.6h-1.6zM524.8 97.9h1.6v1.6h-1.6zM532.8 97.9h1.6v1.6h-1.6zM547.2 97.9h1.6v1.6h-1.6zM625.6 97.9h1.6v1.6h-1.6zM628.8 97.9h1.6v1.6h-1.6zM624 99.5h4.8v1.6h-4.8zM547.2 101.1h1.6v1.6h-1.6zM550.4 101.1h3.2v1.6h-3.2zM617.6 101.1h1.6v1.6h-1.6zM628.8 101.1h1.6v1.6h-1.6zM548.8 102.7h1.6v1.6h-1.6zM552 102.7h1.6v1.6h-1.6zM617.6 102.7h1.6v1.6h-1.6zM619.2 104.3h1.6v1.6h-1.6zM630.4 104.3h3.2v1.6h-3.2zM550.4 105.9h4.8v1.6h-4.8zM628.8 105.9h1.6v1.6h-1.6zM552 107.5h4.8v1.6h-4.8zM617.6 107.5h1.6v1.6h-1.6zM620.8 107.5h1.6v1.6h-1.6zM628.8 107.5h1.6v1.6h-1.6zM555.2 109.1h1.6v1.6h-1.6zM620.8 109.1h3.2v1.6h-3.2zM630.4 109.1h1.6v1.6h-1.6zM553.6 110.7h1.6v1.6h-1.6zM558.4 110.7h1.6v1.6h-1.6zM603.2 110.7h1.6v1.6h-1.6zM612.8 110.7h1.6v1.6h-1.6zM619.2 110.7h1.6v1.6h-1.6zM561.6 112.3h1.6v1.6h-1.6zM598.4 112.3h3.2v1.6h-3.2zM625.6 112.3h1.6v1.6h-1.6zM531.2 113.9h1.6v1.6h-1.6zM556.8 113.9h3.2v1.6h-3.2zM596.8 113.9h3.2v1.6h-3.2zM620.8 113.9h1.6v1.6h-1.6zM526.4 115.5h1.6v1.6h-1.6zM561.6 115.5h1.6v1.6h-1.6zM564.8 115.5h1.6v1.6h-1.6zM595.2 115.5h1.6v1.6h-1.6zM531.2 117.1h1.6v1.6h-1.6zM561.6 117.1h1.6v1.6h-1.6zM532.8 118.7h1.6v1.6h-1.6zM582.4 118.7h3.2v1.6h-3.2zM596.8 118.7h1.6v1.6h-1.6zM526.4 120.3h3.2v1.6h-3.2zM529.6 121.9h3.2v1.6h-3.2zM556.8 121.9h1.6v1.6h-1.6zM560 121.9h1.6v1.6h-1.6zM576 121.9h1.6v1.6h-1.6zM579.2 121.9h3.2v1.6h-3.2zM584 121.9h1.6v1.6h-1.6zM598.4 121.9h1.6v1.6h-1.6zM614.4 121.9h1.6v1.6h-1.6zM646.4 121.9h0.5v1.6h-0.5zM523.2 123.5h1.6v1.6h-1.6zM558.4 123.5h1.6v1.6h-1.6zM574.4 123.5h1.6v1.6h-1.6zM579.2 123.5h1.6v1.6h-1.6zM611.2 123.5h1.6v1.6h-1.6zM644.8 123.5h2.1v1.6h-2.1zM596.8 125.1h1.6v1.6h-1.6zM619.2 125.1h1.6v1.6h-1.6zM638.4 125.1h1.6v1.6h-1.6zM526.4 126.7h3.2v1.6h-3.2zM606.4 126.7h1.6v1.6h-1.6zM616 126.7h1.6v1.6h-1.6zM643.2 126.7h1.6v1.6h-1.6zM556.8 128.3h1.6v1.6h-1.6zM582.4 128.3h3.2v1.6h-3.2zM608 128.3h3.2v1.6h-3.2zM614.4 128.3h1.6v1.6h-1.6zM569.6 129.9h1.6v1.6h-1.6zM584 129.9h1.6v1.6h-1.6zM596.8 129.9h3.2v1.6h-3.2zM609.6 129.9h1.6v1.6h-1.6zM540.8 131.5h1.6v1.6h-1.6zM571.2 131.5h1.6v1.6h-1.6zM590.4 131.5h1.6v1.6h-1.6zM593.6 131.5h1.6v1.6h-1.6zM539.2 133.1h1.6v1.6h-1.6zM563.2 133.1h1.6v1.6h-1.6zM592 133.1h3.2v1.6h-3.2zM616 133.1h1.6v1.6h-1.6zM619.2 133.1h1.6v1.6h-1.6zM537.6 134.7h1.6v1.6h-1.6zM560 134.7h1.6v1.6h-1.6zM598.4 134.7h1.6v1.6h-1.6zM635.2 136.3h1.6v1.6h-1.6zM596.8 137.9h3.2v1.6h-3.2zM606.4 139.5h1.6v1.6h-1.6z"/>
<path fill="#e6c72e" d="M598.4 25.9h1.6v1.6h-1.6zM600 27.5h1.6v1.6h-1.6zM540.8 32.3h1.6v1.6h-1.6zM540.8 33.9h1.6v1.6h-1.6zM547.2 37.1h1.6v1.6h-1.6zM628.8 37.1h1.6v1.6h-1.6zM542.4 38.7h1.6v1.6h-1.6zM548.8 38.7h3.2v1.6h-3.2zM588.8 38.7h3.2v1.6h-3.2zM548.8 40.3h1.6v1.6h-1.6zM552 40.3h1.6v1.6h-1.6zM585.6 40.3h4.8v1.6h-4.8zM630.4 40.3h1.6v1.6h-1.6zM540.8 41.9h1.6v1.6h-1.6zM560 41.9h1.6v1.6h-1.6zM569.6 43.5h1.6v1.6h-1.6zM590.4 43.5h1.6v1.6h-1.6zM601.6 43.5h3.2v1.6h-3.2zM542.4 45.1h3.2v1.6h-3.2zM547.2 45.1h1.6v1.6h-1.6zM564.8 45.1h1.6v1.6h-1.6zM606.4 45.1h1.6v1.6h-1.6zM552 46.7h4.8v1.6h-4.8zM563.2 46.7h4.8v1.6h-4.8zM574.4 46.7h3.2v1.6h-3.2zM579.2 46.7h1.6v1.6h-1.6zM587.2 46.7h1.6v1.6h-1.6zM595.2 46.7h1.6v1.6h-1.6zM539.2 48.3h1.6v1.6h-1.6zM555.2 48.3h1.6v1.6h-1.6zM592 48.3h3.2v1.6h-3.2zM598.4 48.3h1.6v1.6h-1.6zM606.4 48.3h3.2v1.6h-3.2zM540.8 49.9h3.2v1.6h-3.2zM550.4 49.9h1.6v1.6h-1.6zM553.6 49.9h1.6v1.6h-1.6zM561.6 49.9h3.2v1.6h-3.2zM608 49.9h1.6v1.6h-1.6zM548.8 51.5h3.2v1.6h-3.2zM555.2 51.5h1.6v1.6h-1.6zM561.6 51.5h1.6v1.6h-1.6zM545.6 53.1h1.6v1.6h-1.6zM558.4 54.7h1.6v1.6h-1.6zM609.6 54.7h1.6v1.6h-1.6zM532.8 56.3h1.6v1.6h-1.6zM558.4 56.3h1.6v1.6h-1.6zM532.8 57.9h1.6v1.6h-1.6zM556.8 57.9h1.6v1.6h-1.6zM608 57.9h1.6v1.6h-1.6zM635.2 57.9h3.2v1.6h-3.2zM555.2 59.5h1.6v1.6h-1.6zM636.8 59.5h1.6v1.6h-1.6zM553.6 61.1h1.6v1.6h-1.6zM609.6 61.1h1.6v1.6h-1.6zM617.6 61.1h1.6v1.6h-1.6zM620.8 61.1h1.6v1.6h-1.6zM536 62.7h1.6v1.6h-1.6zM539.2 62.7h1.6v1.6h-1.6zM553.6 62.7h1.6v1.6h-1.6zM616 62.7h3.2v1.6h-3.2zM622.4 62.7h1.6v1.6h-1.6zM628.8 62.7h1.6v1.6h-1.6zM632 62.7h1.6v1.6h-1.6zM537.6 64.3h3.2v1.6h-3.2zM552 64.3h1.6v1.6h-1.6zM612.8 64.3h1.6v1.6h-1.6zM628.8 64.3h1.6v1.6h-1.6zM524.8 65.9h1.6v1.6h-1.6zM539.2 65.9h1.6v1.6h-1.6zM529.6 67.5h3.2v1.6h-3.2zM536 67.5h3.2v1.6h-3.2zM544 67.5h1.6v1.6h-1.6zM548.8 67.5h1.6v1.6h-1.6zM628.8 67.5h1.6v1.6h-1.6zM531.2 69.1h1.6v1.6h-1.6zM534.4 69.1h1.6v1.6h-1.6zM532.8 70.7h1.6v1.6h-1.6zM537.6 70.7h3.2v1.6h-3.2zM544 70.7h4.8v1.6h-4.8zM622.4 70.7h1.6v1.6h-1.6zM625.6 70.7h1.6v1.6h-1.6zM536 72.3h1.6v1.6h-1.6zM536 73.9h3.2v1.6h-3.2zM526.4 75.5h3.2v1.6h-3.2zM537.6 75.5h3.2v1.6h-3.2zM620.8 75.5h1.6v1.6h-1.6zM532.8 77.1h3.2v1.6h-3.2zM537.6 77.1h1.6v1.6h-1.6zM617.6 78.7h1.6v1.6h-1.6zM524.8 80.3h1.6v1.6h-1.6zM528 80.3h1.6v1.6h-1.6zM619.2 80.3h1.6v1.6h-1.6zM524.8 81.9h1.6v1.6h-1.6zM534.4 81.9h1.6v1.6h-1.6zM617.6 81.9h3.2v1.6h-3.2zM521.6 83.5h1.6v1.6h-1.6zM529.6 83.5h1.6v1.6h-1.6zM536 83.5h1.6v1.6h-1.6zM617.6 83.5h1.6v1.6h-1.6zM523.2 85.1h1.6v1.6h-1.6zM534.4 85.1h1.6v1.6h-1.6zM539.2 85.1h1.6v1.6h-1.6zM616 85.1h3.2v1.6h-3.2zM545.6 86.7h1.6v1.6h-1.6zM616 86.7h1.6v1.6h-1.6zM534.4 88.3h1.6v1.6h-1.6zM544 88.3h1.6v1.6h-1.6zM547.2 88.3h1.6v1.6h-1.6zM616 88.3h1.6v1.6h-1.6zM616 89.9h1.6v1.6h-1.6zM536 91.5h1.6v1.6h-1.6zM542.4 91.5h1.6v1.6h-1.6zM547.2 91.5h1.6v1.6h-1.6zM614.4 91.5h3.2v1.6h-3.2zM532.8 93.1h1.6v1.6h-1.6zM544 93.1h1.6v1.6h-1.6zM548.8 93.1h1.6v1.6h-1.6zM614.4 93.1h1.6v1.6h-1.6zM620.8 93.1h1.6v1.6h-1.6zM624 93.1h1.6v1.6h-1.6zM545.6 94.7h1.6v1.6h-1.6zM548.8 94.7h1.6v1.6h-1.6zM614.4 94.7h1.6v1.6h-1.6zM520 96.3h1.6v1.6h-1.6zM526.4 96.3h1.6v1.6h-1.6zM548.8 96.3h1.6v1.6h-1.6zM526.4 97.9h1.6v1.6h-1.6zM548.8 97.9h1.6v1.6h-1.6zM612.8 97.9h3.2v1.6h-3.2zM524.8 99.5h1.6v1.6h-1.6zM548.8 99.5h1.6v1.6h-1.6zM612.8 99.5h3.2v1.6h-3.2zM617.6 99.5h1.6v1.6h-1.6zM622.4 99.5h1.6v1.6h-1.6zM553.6 101.1h1.6v1.6h-1.6zM616 101.1h1.6v1.6h-1.6zM625.6 101.1h3.2v1.6h-3.2zM612.8 102.7h1.6v1.6h-1.6zM616 102.7h1.6v1.6h-1.6zM628.8 102.7h1.6v1.6h-1.6zM550.4 104.3h3.2v1.6h-3.2zM614.4 104.3h4.8v1.6h-4.8zM625.6 104.3h1.6v1.6h-1.6zM628.8 104.3h1.6v1.6h-1.6zM555.2 105.9h1.6v1.6h-1.6zM611.2 105.9h1.6v1.6h-1.6zM619.2 105.9h1.6v1.6h-1.6zM627.2 105.9h1.6v1.6h-1.6zM612.8 107.5h1.6v1.6h-1.6zM616 107.5h1.6v1.6h-1.6zM627.2 107.5h1.6v1.6h-1.6zM619.2 109.1h1.6v1.6h-1.6zM624 109.1h1.6v1.6h-1.6zM627.2 109.1h1.6v1.6h-1.6zM556.8 110.7h1.6v1.6h-1.6zM560 110.7h3.2v1.6h-3.2zM600 110.7h3.2v1.6h-3.2zM606.4 110.7h4.8v1.6h-4.8zM624 110.7h1.6v1.6h-1.6zM630.4 110.7h1.6v1.6h-1.6zM560 112.3h1.6v1.6h-1.6zM564.8 112.3h1.6v1.6h-1.6zM596.8 112.3h1.6v1.6h-1.6zM595.2 113.9h1.6v1.6h-1.6zM529.6 115.5h3.2v1.6h-3.2zM563.2 115.5h1.6v1.6h-1.6zM590.4 115.5h1.6v1.6h-1.6zM524.8 117.1h1.6v1.6h-1.6zM528 117.1h1.6v1.6h-1.6zM563.2 117.1h1.6v1.6h-1.6zM566.4 117.1h1.6v1.6h-1.6zM574.4 117.1h1.6v1.6h-1.6zM585.6 117.1h1.6v1.6h-1.6zM593.6 117.1h4.8v1.6h-4.8zM523.2 118.7h1.6v1.6h-1.6zM526.4 118.7h3.2v1.6h-3.2zM531.2 118.7h1.6v1.6h-1.6zM534.4 118.7h1.6v1.6h-1.6zM558.4 118.7h3.2v1.6h-3.2zM579.2 118.7h3.2v1.6h-3.2zM590.4 118.7h1.6v1.6h-1.6zM595.2 118.7h1.6v1.6h-1.6zM531.2 120.3h1.6v1.6h-1.6zM577.6 120.3h1.6v1.6h-1.6zM580.8 120.3h3.2v1.6h-3.2zM587.2 120.3h1.6v1.6h-1.6zM592 120.3h4.8v1.6h-4.8zM524.8 121.9h4.8v1.6h-4.8zM582.4 121.9h1.6v1.6h-1.6zM585.6 121.9h1.6v1.6h-1.6zM595.2 121.9h1.6v1.6h-1.6zM600 121.9h1.6v1.6h-1.6zM644.8 121.9h1.6v1.6h-1.6zM521.6 123.5h1.6v1.6h-1.6zM587.2 123.5h3.2v1.6h-3.2zM616 123.5h1.6v1.6h-1.6zM528 125.1h3.2v1.6h-3.2zM560 125.1h1.6v1.6h-1.6zM572.8 125.1h1.6v1.6h-1.6zM593.6 125.1h1.6v1.6h-1.6zM612.8 125.1h3.2v1.6h-3.2zM646.4 125.1h0.5v1.6h-0.5zM584 126.7h3.2v1.6h-3.2zM593.6 126.7h1.6v1.6h-1.6zM614.4 126.7h1.6v1.6h-1.6zM619.2 126.7h1.6v1.6h-1.6zM593.6 128.3h3.2v1.6h-3.2zM598.4 128.3h1.6v1.6h-1.6zM588.8 129.9h1.6v1.6h-1.6zM593.6 129.9h1.6v1.6h-1.6zM611.2 129.9h1.6v1.6h-1.6zM617.6 129.9h3.2v1.6h-3.2zM643.2 129.9h1.6v1.6h-1.6zM560 131.5h1.6v1.6h-1.6zM609.6 131.5h1.6v1.6h-1.6zM616 131.5h1.6v1.6h-1.6zM619.2 131.5h1.6v1.6h-1.6zM561.6 133.1h1.6v1.6h-1.6zM569.6 133.1h1.6v1.6h-1.6zM611.2 133.1h1.6v1.6h-1.6zM620.8 133.1h1.6v1.6h-1.6zM614.4 134.7h1.6v1.6h-1.6zM601.6 136.3h1.6v1.6h-1.6z"/>
<path fill="#e6bf1a" d="M600 30.7h1.6v1.6h-1.6zM544 37.1h1.6v1.6h-1.6zM544 38.7h1.6v1.6h-1.6zM547.2 38.7h1.6v1.6h-1.6zM547.2 40.3h1.6v1.6h-1.6zM550.4 40.3h1.6v1.6h-1.6zM552 41.9h1.6v1.6h-1.6zM572.8 43.5h1.6v1.6h-1.6zM545.6 45.1h1.6v1.6h-1.6zM550.4 45.1h1.6v1.6h-1.6zM568 45.1h4.8v1.6h-4.8zM588.8 45.1h1.6v1.6h-1.6zM569.6 46.7h1.6v1.6h-1.6zM577.6 46.7h1.6v1.6h-1.6zM588.8 46.7h3.2v1.6h-3.2zM596.8 46.7h1.6v1.6h-1.6zM606.4 46.7h3.2v1.6h-3.2zM540.8 48.3h1.6v1.6h-1.6zM564.8 48.3h1.6v1.6h-1.6zM574.4 48.3h1.6v1.6h-1.6zM579.2 48.3h11.2v1.6h-11.2zM547.2 49.9h1.6v1.6h-1.6zM555.2 49.9h1.6v1.6h-1.6zM593.6 49.9h1.6v1.6h-1.6zM598.4 49.9h3.2v1.6h-3.2zM544 51.5h1.6v1.6h-1.6zM563.2 51.5h1.6v1.6h-1.6zM540.8 53.1h1.6v1.6h-1.6zM561.6 53.1h1.6v1.6h-1.6zM606.4 53.1h3.2v1.6h-3.2zM560 54.7h1.6v1.6h-1.6zM604.8 54.7h1.6v1.6h-1.6zM608 54.7h1.6v1.6h-1.6zM560 56.3h1.6v1.6h-1.6zM531.2 57.9h1.6v1.6h-1.6zM558.4 57.9h1.6v1.6h-1.6zM633.6 57.9h1.6v1.6h-1.6zM529.6 59.5h1.6v1.6h-1.6zM556.8 59.5h1.6v1.6h-1.6zM608 59.5h1.6v1.6h-1.6zM555.2 61.1h1.6v1.6h-1.6zM608 61.1h1.6v1.6h-1.6zM619.2 61.1h1.6v1.6h-1.6zM622.4 61.1h1.6v1.6h-1.6zM640 61.1h1.6v1.6h-1.6zM609.6 62.7h1.6v1.6h-1.6zM636.8 62.7h1.6v1.6h-1.6zM532.8 64.3h3.2v1.6h-3.2zM553.6 64.3h1.6v1.6h-1.6zM611.2 64.3h1.6v1.6h-1.6zM614.4 64.3h8v1.6h-8zM632 64.3h1.6v1.6h-1.6zM636.8 64.3h1.6v1.6h-1.6zM532.8 65.9h1.6v1.6h-1.6zM536 65.9h3.2v1.6h-3.2zM552 65.9h1.6v1.6h-1.6zM627.2 65.9h3.2v1.6h-3.2zM539.2 67.5h1.6v1.6h-1.6zM542.4 67.5h1.6v1.6h-1.6zM545.6 67.5h1.6v1.6h-1.6zM635.2 67.5h1.6v1.6h-1.6zM544 69.1h6.4v1.6h-6.4zM619.2 69.1h3.2v1.6h-3.2zM529.6 72.3h1.6v1.6h-1.6zM534.4 72.3h1.6v1.6h-1.6zM539.2 72.3h1.6v1.6h-1.6zM617.6 72.3h1.6v1.6h-1.6zM534.4 73.9h1.6v1.6h-1.6zM617.6 73.9h3.2v1.6h-3.2zM536 75.5h1.6v1.6h-1.6zM536 77.1h1.6v1.6h-1.6zM539.2 77.1h1.6v1.6h-1.6zM617.6 77.1h1.6v1.6h-1.6zM526.4 78.7h1.6v1.6h-1.6zM526.4 80.3h1.6v1.6h-1.6zM534.4 80.3h1.6v1.6h-1.6zM542.4 80.3h1.6v1.6h-1.6zM617.6 80.3h1.6v1.6h-1.6zM532.8 81.9h1.6v1.6h-1.6zM536 81.9h1.6v1.6h-1.6zM540.8 81.9h1.6v1.6h-1.6zM523.2 83.5h1.6v1.6h-1.6zM528 83.5h1.6v1.6h-1.6zM616 83.5h1.6v1.6h-1.6zM532.8 85.1h1.6v1.6h-1.6zM536 85.1h1.6v1.6h-1.6zM544 85.1h4.8v1.6h-4.8zM542.4 86.7h3.2v1.6h-3.2zM542.4 88.3h1.6v1.6h-1.6zM614.4 88.3h1.6v1.6h-1.6zM534.4 89.9h1.6v1.6h-1.6zM542.4 89.9h1.6v1.6h-1.6zM548.8 89.9h1.6v1.6h-1.6zM614.4 89.9h1.6v1.6h-1.6zM540.8 91.5h1.6v1.6h-1.6zM544 91.5h1.6v1.6h-1.6zM534.4 93.1h1.6v1.6h-1.6zM540.8 93.1h3.2v1.6h-3.2zM550.4 93.1h1.6v1.6h-1.6zM612.8 93.1h1.6v1.6h-1.6zM542.4 94.7h1.6v1.6h-1.6zM550.4 94.7h1.6v1.6h-1.6zM612.8 94.7h1.6v1.6h-1.6zM617.6 94.7h1.6v1.6h-1.6zM550.4 96.3h1.6v1.6h-1.6zM612.8 96.3h1.6v1.6h-1.6zM619.2 96.3h1.6v1.6h-1.6zM528 97.9h1.6v1.6h-1.6zM550.4 97.9h1.6v1.6h-1.6zM617.6 97.9h3.2v1.6h-3.2zM550.4 99.5h1.6v1.6h-1.6zM616 99.5h1.6v1.6h-1.6zM526.4 101.1h1.6v1.6h-1.6zM612.8 101.1h1.6v1.6h-1.6zM622.4 101.1h3.2v1.6h-3.2zM550.4 102.7h1.6v1.6h-1.6zM553.6 102.7h3.2v1.6h-3.2zM614.4 102.7h1.6v1.6h-1.6zM619.2 102.7h1.6v1.6h-1.6zM553.6 104.3h3.2v1.6h-3.2zM612.8 104.3h1.6v1.6h-1.6zM627.2 104.3h1.6v1.6h-1.6zM624 105.9h3.2v1.6h-3.2zM558.4 107.5h3.2v1.6h-3.2zM611.2 107.5h1.6v1.6h-1.6zM614.4 107.5h1.6v1.6h-1.6zM619.2 107.5h1.6v1.6h-1.6zM560 109.1h3.2v1.6h-3.2zM604.8 109.1h1.6v1.6h-1.6zM611.2 109.1h1.6v1.6h-1.6zM563.2 110.7h1.6v1.6h-1.6zM598.4 110.7h1.6v1.6h-1.6zM611.2 110.7h1.6v1.6h-1.6zM625.6 110.7h1.6v1.6h-1.6zM563.2 112.3h1.6v1.6h-1.6zM595.2 112.3h1.6v1.6h-1.6zM529.6 113.9h1.6v1.6h-1.6zM563.2 113.9h3.2v1.6h-3.2zM592 113.9h3.2v1.6h-3.2zM528 115.5h1.6v1.6h-1.6zM566.4 115.5h1.6v1.6h-1.6zM584 115.5h4.8v1.6h-4.8zM593.6 115.5h1.6v1.6h-1.6zM526.4 117.1h1.6v1.6h-1.6zM564.8 117.1h1.6v1.6h-1.6zM580.8 117.1h4.8v1.6h-4.8zM588.8 117.1h3.2v1.6h-3.2zM529.6 118.7h1.6v1.6h-1.6zM576 118.7h1.6v1.6h-1.6zM592 118.7h3.2v1.6h-3.2zM576 120.3h1.6v1.6h-1.6zM584 120.3h3.2v1.6h-3.2zM561.6 121.9h1.6v1.6h-1.6zM572.8 121.9h3.2v1.6h-3.2zM588.8 121.9h1.6v1.6h-1.6zM560 123.5h1.6v1.6h-1.6zM593.6 123.5h1.6v1.6h-1.6zM584 125.1h3.2v1.6h-3.2zM590.4 125.1h1.6v1.6h-1.6zM611.2 125.1h1.6v1.6h-1.6zM560 126.7h1.6v1.6h-1.6zM571.2 126.7h1.6v1.6h-1.6zM590.4 126.7h1.6v1.6h-1.6zM560 128.3h1.6v1.6h-1.6zM588.8 128.3h1.6v1.6h-1.6zM592 128.3h1.6v1.6h-1.6zM596.8 128.3h1.6v1.6h-1.6zM568 129.9h1.6v1.6h-1.6zM590.4 129.9h3.2v1.6h-3.2zM595.2 129.9h1.6v1.6h-1.6zM612.8 129.9h1.6v1.6h-1.6zM569.6 131.5h1.6v1.6h-1.6zM612.8 131.5h3.2v1.6h-3.2zM617.6 131.5h1.6v1.6h-1.6zM564.8 133.1h1.6v1.6h-1.6zM568 133.1h1.6v1.6h-1.6zM612.8 133.1h1.6v1.6h-1.6zM617.6 133.1h1.6v1.6h-1.6zM596.8 134.7h1.6v1.6h-1.6zM600 134.7h1.6v1.6h-1.6zM616 134.7h1.6v1.6h-1.6zM595.2 136.3h3.2v1.6h-3.2z"/>
<path fill="#e6b214" d="M545.6 35.5h1.6v1.6h-1.6zM545.6 38.7h1.6v1.6h-1.6zM542.4 40.3h1.6v1.6h-1.6zM545.6 41.9h1.6v1.6h-1.6zM550.4 41.9h1.6v1.6h-1.6zM542.4 43.5h4.8v1.6h-4.8zM550.4 43.5h1.6v1.6h-1.6zM553.6 43.5h1.6v1.6h-1.6zM540.8 45.1h1.6v1.6h-1.6zM572.8 45.1h1.6v1.6h-1.6zM547.2 46.7h3.2v1.6h-3.2zM568 46.7h1.6v1.6h-1.6zM572.8 46.7h1.6v1.6h-1.6zM603.2 46.7h1.6v1.6h-1.6zM544 48.3h1.6v1.6h-1.6zM572.8 48.3h1.6v1.6h-1.6zM576 48.3h3.2v1.6h-3.2zM590.4 48.3h1.6v1.6h-1.6zM595.2 48.3h3.2v1.6h-3.2zM600 48.3h1.6v1.6h-1.6zM545.6 49.9h1.6v1.6h-1.6zM588.8 49.9h4.8v1.6h-4.8zM595.2 49.9h1.6v1.6h-1.6zM601.6 49.9h3.2v1.6h-3.2zM606.4 49.9h1.6v1.6h-1.6zM598.4 51.5h6.4v1.6h-6.4zM606.4 51.5h1.6v1.6h-1.6zM563.2 53.1h1.6v1.6h-1.6zM603.2 53.1h3.2v1.6h-3.2zM603.2 54.7h1.6v1.6h-1.6zM606.4 54.7h1.6v1.6h-1.6zM604.8 56.3h3.2v1.6h-3.2zM606.4 57.9h1.6v1.6h-1.6zM531.2 59.5h1.6v1.6h-1.6zM558.4 59.5h1.6v1.6h-1.6zM606.4 59.5h1.6v1.6h-1.6zM632 59.5h3.2v1.6h-3.2zM556.8 61.1h1.6v1.6h-1.6zM606.4 61.1h1.6v1.6h-1.6zM633.6 61.1h4.8v1.6h-4.8zM555.2 62.7h1.6v1.6h-1.6zM608 62.7h1.6v1.6h-1.6zM619.2 62.7h1.6v1.6h-1.6zM609.6 64.3h1.6v1.6h-1.6zM622.4 64.3h3.2v1.6h-3.2zM630.4 64.3h1.6v1.6h-1.6zM553.6 65.9h1.6v1.6h-1.6zM612.8 65.9h4.8v1.6h-4.8zM625.6 65.9h1.6v1.6h-1.6zM550.4 67.5h3.2v1.6h-3.2zM627.2 67.5h1.6v1.6h-1.6zM550.4 69.1h1.6v1.6h-1.6zM622.4 69.1h1.6v1.6h-1.6zM540.8 70.7h3.2v1.6h-3.2zM619.2 70.7h3.2v1.6h-3.2zM537.6 72.3h1.6v1.6h-1.6zM540.8 72.3h1.6v1.6h-1.6zM619.2 72.3h3.2v1.6h-3.2zM539.2 73.9h1.6v1.6h-1.6zM620.8 73.9h1.6v1.6h-1.6zM531.2 75.5h1.6v1.6h-1.6zM616 75.5h3.2v1.6h-3.2zM528 77.1h1.6v1.6h-1.6zM531.2 77.1h1.6v1.6h-1.6zM616 77.1h1.6v1.6h-1.6zM529.6 78.7h1.6v1.6h-1.6zM534.4 78.7h3.2v1.6h-3.2zM540.8 78.7h1.6v1.6h-1.6zM616 78.7h1.6v1.6h-1.6zM537.6 81.9h1.6v1.6h-1.6zM542.4 81.9h3.2v1.6h-3.2zM616 81.9h1.6v1.6h-1.6zM540.8 83.5h1.6v1.6h-1.6zM544 83.5h4.8v1.6h-4.8zM614.4 83.5h1.6v1.6h-1.6zM540.8 85.1h1.6v1.6h-1.6zM548.8 85.1h1.6v1.6h-1.6zM534.4 86.7h1.6v1.6h-1.6zM547.2 86.7h3.2v1.6h-3.2zM614.4 86.7h1.6v1.6h-1.6zM540.8 88.3h1.6v1.6h-1.6zM548.8 88.3h1.6v1.6h-1.6zM550.4 89.9h1.6v1.6h-1.6zM537.6 91.5h3.2v1.6h-3.2zM548.8 91.5h3.2v1.6h-3.2zM612.8 91.5h1.6v1.6h-1.6zM622.4 93.1h1.6v1.6h-1.6zM552 94.7h1.6v1.6h-1.6zM619.2 94.7h1.6v1.6h-1.6zM552 96.3h1.6v1.6h-1.6zM611.2 96.3h1.6v1.6h-1.6zM617.6 96.3h1.6v1.6h-1.6zM627.2 96.3h1.6v1.6h-1.6zM523.2 97.9h1.6v1.6h-1.6zM611.2 97.9h1.6v1.6h-1.6zM616 97.9h1.6v1.6h-1.6zM620.8 97.9h3.2v1.6h-3.2zM523.2 99.5h1.6v1.6h-1.6zM552 99.5h3.2v1.6h-3.2zM611.2 99.5h1.6v1.6h-1.6zM619.2 99.5h3.2v1.6h-3.2zM524.8 101.1h1.6v1.6h-1.6zM555.2 101.1h1.6v1.6h-1.6zM614.4 101.1h1.6v1.6h-1.6zM619.2 101.1h1.6v1.6h-1.6zM556.8 104.3h1.6v1.6h-1.6zM624 104.3h1.6v1.6h-1.6zM556.8 105.9h3.2v1.6h-3.2zM614.4 105.9h3.2v1.6h-3.2zM620.8 105.9h3.2v1.6h-3.2zM556.8 107.5h1.6v1.6h-1.6zM622.4 107.5h1.6v1.6h-1.6zM625.6 107.5h1.6v1.6h-1.6zM558.4 109.1h1.6v1.6h-1.6zM563.2 109.1h1.6v1.6h-1.6zM598.4 109.1h4.8v1.6h-4.8zM606.4 109.1h1.6v1.6h-1.6zM612.8 109.1h1.6v1.6h-1.6zM564.8 110.7h3.2v1.6h-3.2zM596.8 110.7h1.6v1.6h-1.6zM566.4 112.3h1.6v1.6h-1.6zM592 112.3h1.6v1.6h-1.6zM566.4 113.9h1.6v1.6h-1.6zM587.2 113.9h4.8v1.6h-4.8zM580.8 115.5h3.2v1.6h-3.2zM588.8 115.5h1.6v1.6h-1.6zM592 115.5h1.6v1.6h-1.6zM529.6 117.1h1.6v1.6h-1.6zM572.8 117.1h1.6v1.6h-1.6zM576 117.1h4.8v1.6h-4.8zM592 117.1h1.6v1.6h-1.6zM524.8 118.7h1.6v1.6h-1.6zM563.2 118.7h3.2v1.6h-3.2zM571.2 118.7h1.6v1.6h-1.6zM534.4 121.9h1.6v1.6h-1.6zM558.4 121.9h1.6v1.6h-1.6zM568 121.9h3.2v1.6h-3.2zM587.2 121.9h1.6v1.6h-1.6zM590.4 121.9h1.6v1.6h-1.6zM593.6 121.9h1.6v1.6h-1.6zM571.2 123.5h1.6v1.6h-1.6zM641.6 123.5h1.6v1.6h-1.6zM568 125.1h1.6v1.6h-1.6zM571.2 125.1h1.6v1.6h-1.6zM587.2 125.1h3.2v1.6h-3.2zM588.8 126.7h1.6v1.6h-1.6zM611.2 126.7h1.6v1.6h-1.6zM568 128.3h1.6v1.6h-1.6zM590.4 128.3h1.6v1.6h-1.6zM617.6 128.3h1.6v1.6h-1.6zM566.4 131.5h3.2v1.6h-3.2zM611.2 131.5h1.6v1.6h-1.6zM566.4 133.1h1.6v1.6h-1.6zM614.4 133.1h1.6v1.6h-1.6zM598.4 136.3h3.2v1.6h-3.2z"/>
<path fill="#e6a60f" d="M545.6 40.3h1.6v1.6h-1.6zM542.4 41.9h3.2v1.6h-3.2zM548.8 41.9h1.6v1.6h-1.6zM540.8 43.5h1.6v1.6h-1.6zM547.2 43.5h1.6v1.6h-1.6zM566.4 45.1h1.6v1.6h-1.6zM544 46.7h3.2v1.6h-3.2zM601.6 46.7h1.6v1.6h-1.6zM604.8 46.7h1.6v1.6h-1.6zM566.4 48.3h1.6v1.6h-1.6zM603.2 48.3h1.6v1.6h-1.6zM564.8 49.9h1.6v1.6h-1.6zM577.6 49.9h11.2v1.6h-11.2zM596.8 49.9h1.6v1.6h-1.6zM590.4 51.5h1.6v1.6h-1.6zM593.6 51.5h3.2v1.6h-3.2zM598.4 53.1h1.6v1.6h-1.6zM561.6 54.7h3.2v1.6h-3.2zM601.6 54.7h1.6v1.6h-1.6zM561.6 56.3h1.6v1.6h-1.6zM601.6 56.3h3.2v1.6h-3.2zM560 57.9h1.6v1.6h-1.6zM603.2 57.9h3.2v1.6h-3.2zM556.8 62.7h1.6v1.6h-1.6zM630.4 62.7h1.6v1.6h-1.6zM555.2 64.3h1.6v1.6h-1.6zM608 64.3h1.6v1.6h-1.6zM534.4 65.9h1.6v1.6h-1.6zM540.8 65.9h1.6v1.6h-1.6zM609.6 65.9h3.2v1.6h-3.2zM617.6 65.9h1.6v1.6h-1.6zM620.8 65.9h3.2v1.6h-3.2zM553.6 67.5h1.6v1.6h-1.6zM611.2 67.5h6.4v1.6h-6.4zM620.8 67.5h1.6v1.6h-1.6zM624 67.5h1.6v1.6h-1.6zM612.8 69.1h3.2v1.6h-3.2zM617.6 69.1h1.6v1.6h-1.6zM624 69.1h3.2v1.6h-3.2zM548.8 70.7h1.6v1.6h-1.6zM616 70.7h3.2v1.6h-3.2zM542.4 72.3h6.4v1.6h-6.4zM612.8 72.3h4.8v1.6h-4.8zM540.8 73.9h1.6v1.6h-1.6zM616 73.9h1.6v1.6h-1.6zM544 75.5h1.6v1.6h-1.6zM540.8 77.1h1.6v1.6h-1.6zM545.6 77.1h1.6v1.6h-1.6zM619.2 77.1h1.6v1.6h-1.6zM528 78.7h1.6v1.6h-1.6zM531.2 78.7h1.6v1.6h-1.6zM536 80.3h1.6v1.6h-1.6zM544 80.3h3.2v1.6h-3.2zM616 80.3h1.6v1.6h-1.6zM529.6 81.9h3.2v1.6h-3.2zM531.2 83.5h3.2v1.6h-3.2zM542.4 83.5h1.6v1.6h-1.6zM548.8 83.5h1.6v1.6h-1.6zM542.4 85.1h1.6v1.6h-1.6zM550.4 85.1h1.6v1.6h-1.6zM614.4 85.1h1.6v1.6h-1.6zM540.8 86.7h1.6v1.6h-1.6zM550.4 86.7h1.6v1.6h-1.6zM532.8 88.3h1.6v1.6h-1.6zM537.6 88.3h1.6v1.6h-1.6zM550.4 88.3h1.6v1.6h-1.6zM612.8 88.3h1.6v1.6h-1.6zM536 89.9h6.4v1.6h-6.4zM612.8 89.9h1.6v1.6h-1.6zM552 91.5h1.6v1.6h-1.6zM552 93.1h1.6v1.6h-1.6zM611.2 93.1h1.6v1.6h-1.6zM611.2 94.7h1.6v1.6h-1.6zM553.6 96.3h1.6v1.6h-1.6zM609.6 96.3h1.6v1.6h-1.6zM616 96.3h1.6v1.6h-1.6zM552 97.9h3.2v1.6h-3.2zM609.6 97.9h1.6v1.6h-1.6zM609.6 99.5h1.6v1.6h-1.6zM611.2 101.1h1.6v1.6h-1.6zM556.8 102.7h1.6v1.6h-1.6zM611.2 102.7h1.6v1.6h-1.6zM620.8 102.7h4.8v1.6h-4.8zM558.4 104.3h1.6v1.6h-1.6zM620.8 104.3h1.6v1.6h-1.6zM560 105.9h1.6v1.6h-1.6zM608 105.9h1.6v1.6h-1.6zM561.6 107.5h1.6v1.6h-1.6zM600 107.5h4.8v1.6h-4.8zM606.4 107.5h3.2v1.6h-3.2zM624 107.5h1.6v1.6h-1.6zM556.8 109.1h1.6v1.6h-1.6zM564.8 109.1h1.6v1.6h-1.6zM603.2 109.1h1.6v1.6h-1.6zM609.6 109.1h1.6v1.6h-1.6zM595.2 110.7h1.6v1.6h-1.6zM571.2 112.3h1.6v1.6h-1.6zM588.8 112.3h3.2v1.6h-3.2zM593.6 112.3h1.6v1.6h-1.6zM582.4 113.9h4.8v1.6h-4.8zM572.8 115.5h3.2v1.6h-3.2zM587.2 117.1h1.6v1.6h-1.6zM561.6 118.7h1.6v1.6h-1.6zM568 118.7h3.2v1.6h-3.2zM572.8 118.7h3.2v1.6h-3.2zM577.6 118.7h1.6v1.6h-1.6zM585.6 118.7h1.6v1.6h-1.6zM588.8 118.7h1.6v1.6h-1.6zM558.4 120.3h1.6v1.6h-1.6zM571.2 120.3h4.8v1.6h-4.8zM588.8 120.3h3.2v1.6h-3.2zM566.4 121.9h1.6v1.6h-1.6zM592 121.9h1.6v1.6h-1.6zM569.6 123.5h1.6v1.6h-1.6zM590.4 123.5h1.6v1.6h-1.6zM566.4 125.1h1.6v1.6h-1.6zM569.6 125.1h1.6v1.6h-1.6zM595.2 125.1h1.6v1.6h-1.6zM561.6 126.7h1.6v1.6h-1.6zM611.2 128.3h1.6v1.6h-1.6zM563.2 129.9h1.6v1.6h-1.6zM566.4 129.9h1.6v1.6h-1.6zM571.2 129.9h1.6v1.6h-1.6zM616 129.9h1.6v1.6h-1.6zM564.8 131.5h1.6v1.6h-1.6zM598.4 133.1h1.6v1.6h-1.6z"/>
<path fill="#e6990a" d="M601.6 24.3h1.6v1.6h-1.6zM545.6 37.1h1.6v1.6h-1.6zM547.2 41.9h1.6v1.6h-1.6zM547.2 48.3h1.6v1.6h-1.6zM601.6 48.3h1.6v1.6h-1.6zM604.8 48.3h1.6v1.6h-1.6zM576 49.9h1.6v1.6h-1.6zM584 51.5h6.4v1.6h-6.4zM592 51.5h1.6v1.6h-1.6zM596.8 51.5h1.6v1.6h-1.6zM604.8 51.5h1.6v1.6h-1.6zM592 53.1h3.2v1.6h-3.2zM596.8 53.1h1.6v1.6h-1.6zM600 53.1h3.2v1.6h-3.2zM596.8 54.7h4.8v1.6h-4.8zM563.2 56.3h1.6v1.6h-1.6zM600 56.3h1.6v1.6h-1.6zM561.6 57.9h1.6v1.6h-1.6zM601.6 57.9h1.6v1.6h-1.6zM560 59.5h1.6v1.6h-1.6zM603.2 59.5h3.2v1.6h-3.2zM558.4 61.1h1.6v1.6h-1.6zM604.8 61.1h1.6v1.6h-1.6zM606.4 62.7h1.6v1.6h-1.6zM635.2 62.7h1.6v1.6h-1.6zM556.8 64.3h1.6v1.6h-1.6zM627.2 64.3h1.6v1.6h-1.6zM555.2 65.9h1.6v1.6h-1.6zM608 65.9h1.6v1.6h-1.6zM619.2 65.9h1.6v1.6h-1.6zM624 65.9h1.6v1.6h-1.6zM609.6 67.5h1.6v1.6h-1.6zM617.6 67.5h3.2v1.6h-3.2zM622.4 67.5h1.6v1.6h-1.6zM625.6 67.5h1.6v1.6h-1.6zM552 69.1h3.2v1.6h-3.2zM609.6 69.1h3.2v1.6h-3.2zM550.4 70.7h1.6v1.6h-1.6zM611.2 70.7h4.8v1.6h-4.8zM550.4 72.3h3.2v1.6h-3.2zM542.4 73.9h1.6v1.6h-1.6zM548.8 73.9h3.2v1.6h-3.2zM614.4 73.9h1.6v1.6h-1.6zM545.6 75.5h1.6v1.6h-1.6zM550.4 75.5h1.6v1.6h-1.6zM614.4 75.5h1.6v1.6h-1.6zM544 77.1h1.6v1.6h-1.6zM542.4 78.7h1.6v1.6h-1.6zM545.6 78.7h3.2v1.6h-3.2zM540.8 80.3h1.6v1.6h-1.6zM539.2 81.9h1.6v1.6h-1.6zM548.8 81.9h1.6v1.6h-1.6zM614.4 81.9h1.6v1.6h-1.6zM539.2 83.5h1.6v1.6h-1.6zM550.4 83.5h1.6v1.6h-1.6zM612.8 85.1h1.6v1.6h-1.6zM539.2 86.7h1.6v1.6h-1.6zM612.8 86.7h1.6v1.6h-1.6zM539.2 88.3h1.6v1.6h-1.6zM552 88.3h1.6v1.6h-1.6zM552 89.9h1.6v1.6h-1.6zM611.2 89.9h1.6v1.6h-1.6zM611.2 91.5h1.6v1.6h-1.6zM553.6 93.1h1.6v1.6h-1.6zM553.6 94.7h1.6v1.6h-1.6zM609.6 94.7h1.6v1.6h-1.6zM555.2 97.9h1.6v1.6h-1.6zM555.2 99.5h1.6v1.6h-1.6zM556.8 101.1h1.6v1.6h-1.6zM608 101.1h3.2v1.6h-3.2zM620.8 101.1h1.6v1.6h-1.6zM558.4 102.7h1.6v1.6h-1.6zM606.4 102.7h3.2v1.6h-3.2zM560 104.3h1.6v1.6h-1.6zM611.2 104.3h1.6v1.6h-1.6zM622.4 104.3h1.6v1.6h-1.6zM561.6 105.9h1.6v1.6h-1.6zM601.6 105.9h3.2v1.6h-3.2zM609.6 105.9h1.6v1.6h-1.6zM563.2 107.5h1.6v1.6h-1.6zM598.4 107.5h1.6v1.6h-1.6zM604.8 107.5h1.6v1.6h-1.6zM566.4 109.1h1.6v1.6h-1.6zM595.2 109.1h3.2v1.6h-3.2zM568 110.7h1.6v1.6h-1.6zM590.4 110.7h4.8v1.6h-4.8zM568 112.3h3.2v1.6h-3.2zM584 112.3h4.8v1.6h-4.8zM569.6 113.9h4.8v1.6h-4.8zM577.6 113.9h1.6v1.6h-1.6zM580.8 113.9h1.6v1.6h-1.6zM569.6 115.5h1.6v1.6h-1.6zM576 115.5h3.2v1.6h-3.2zM568 117.1h1.6v1.6h-1.6zM566.4 118.7h1.6v1.6h-1.6zM587.2 118.7h1.6v1.6h-1.6zM560 120.3h3.2v1.6h-3.2zM571.2 121.9h1.6v1.6h-1.6zM561.6 123.5h1.6v1.6h-1.6zM566.4 123.5h1.6v1.6h-1.6zM592 123.5h1.6v1.6h-1.6zM561.6 125.1h1.6v1.6h-1.6zM592 125.1h1.6v1.6h-1.6zM612.8 126.7h1.6v1.6h-1.6zM561.6 128.3h1.6v1.6h-1.6zM569.6 128.3h3.2v1.6h-3.2zM587.2 128.3h1.6v1.6h-1.6zM564.8 129.9h1.6v1.6h-1.6zM614.4 129.9h1.6v1.6h-1.6z"/>
<path fill="#e68c05" d="M548.8 43.5h1.6v1.6h-1.6zM548.8 45.1h1.6v1.6h-1.6zM571.2 46.7h1.6v1.6h-1.6zM545.6 48.3h1.6v1.6h-1.6zM569.6 48.3h1.6v1.6h-1.6zM566.4 49.9h1.6v1.6h-1.6zM572.8 49.9h3.2v1.6h-3.2zM604.8 49.9h1.6v1.6h-1.6zM564.8 51.5h3.2v1.6h-3.2zM572.8 51.5h1.6v1.6h-1.6zM576 51.5h8v1.6h-8zM564.8 53.1h1.6v1.6h-1.6zM590.4 53.1h1.6v1.6h-1.6zM595.2 53.1h1.6v1.6h-1.6zM564.8 54.7h3.2v1.6h-3.2zM595.2 54.7h1.6v1.6h-1.6zM598.4 56.3h1.6v1.6h-1.6zM600 57.9h1.6v1.6h-1.6zM561.6 59.5h1.6v1.6h-1.6zM601.6 59.5h1.6v1.6h-1.6zM560 61.1h1.6v1.6h-1.6zM603.2 61.1h1.6v1.6h-1.6zM630.4 61.1h3.2v1.6h-3.2zM558.4 62.7h1.6v1.6h-1.6zM604.8 62.7h1.6v1.6h-1.6zM606.4 64.3h1.6v1.6h-1.6zM556.8 65.9h1.6v1.6h-1.6zM555.2 67.5h1.6v1.6h-1.6zM616 69.1h1.6v1.6h-1.6zM552 70.7h3.2v1.6h-3.2zM548.8 72.3h1.6v1.6h-1.6zM611.2 72.3h1.6v1.6h-1.6zM544 73.9h3.2v1.6h-3.2zM552 73.9h1.6v1.6h-1.6zM612.8 73.9h1.6v1.6h-1.6zM540.8 75.5h3.2v1.6h-3.2zM612.8 75.5h1.6v1.6h-1.6zM542.4 77.1h1.6v1.6h-1.6zM547.2 77.1h4.8v1.6h-4.8zM612.8 77.1h3.2v1.6h-3.2zM544 78.7h1.6v1.6h-1.6zM548.8 78.7h3.2v1.6h-3.2zM612.8 78.7h3.2v1.6h-3.2zM547.2 80.3h4.8v1.6h-4.8zM612.8 80.3h3.2v1.6h-3.2zM545.6 81.9h1.6v1.6h-1.6zM550.4 81.9h1.6v1.6h-1.6zM612.8 81.9h1.6v1.6h-1.6zM537.6 83.5h1.6v1.6h-1.6zM612.8 83.5h1.6v1.6h-1.6zM537.6 85.1h1.6v1.6h-1.6zM552 85.1h1.6v1.6h-1.6zM611.2 85.1h1.6v1.6h-1.6zM536 86.7h1.6v1.6h-1.6zM552 86.7h1.6v1.6h-1.6zM611.2 86.7h1.6v1.6h-1.6zM611.2 88.3h1.6v1.6h-1.6zM553.6 91.5h1.6v1.6h-1.6zM609.6 91.5h1.6v1.6h-1.6zM609.6 93.1h1.6v1.6h-1.6zM555.2 94.7h1.6v1.6h-1.6zM555.2 96.3h1.6v1.6h-1.6zM608 96.3h1.6v1.6h-1.6zM608 97.9h1.6v1.6h-1.6zM556.8 99.5h1.6v1.6h-1.6zM606.4 99.5h3.2v1.6h-3.2zM558.4 101.1h1.6v1.6h-1.6zM606.4 101.1h1.6v1.6h-1.6zM560 102.7h1.6v1.6h-1.6zM561.6 104.3h1.6v1.6h-1.6zM601.6 104.3h3.2v1.6h-3.2zM606.4 104.3h1.6v1.6h-1.6zM609.6 104.3h1.6v1.6h-1.6zM563.2 105.9h3.2v1.6h-3.2zM600 105.9h1.6v1.6h-1.6zM606.4 105.9h1.6v1.6h-1.6zM564.8 107.5h1.6v1.6h-1.6zM596.8 107.5h1.6v1.6h-1.6zM593.6 109.1h1.6v1.6h-1.6zM608 109.1h1.6v1.6h-1.6zM569.6 110.7h1.6v1.6h-1.6zM587.2 110.7h3.2v1.6h-3.2zM572.8 112.3h1.6v1.6h-1.6zM579.2 112.3h4.8v1.6h-4.8zM568 113.9h1.6v1.6h-1.6zM574.4 113.9h3.2v1.6h-3.2zM579.2 113.9h1.6v1.6h-1.6zM571.2 115.5h1.6v1.6h-1.6zM579.2 115.5h1.6v1.6h-1.6zM569.6 117.1h3.2v1.6h-3.2zM563.2 120.3h3.2v1.6h-3.2zM563.2 121.9h1.6v1.6h-1.6zM564.8 123.5h1.6v1.6h-1.6zM568 123.5h1.6v1.6h-1.6zM564.8 125.1h1.6v1.6h-1.6zM569.6 126.7h1.6v1.6h-1.6zM592 126.7h1.6v1.6h-1.6zM563.2 128.3h1.6v1.6h-1.6zM566.4 128.3h1.6v1.6h-1.6zM612.8 128.3h1.6v1.6h-1.6zM616 128.3h1.6v1.6h-1.6z"/>
<path fill="#e68000" d="M568 48.3h1.6v1.6h-1.6zM571.2 48.3h1.6v1.6h-1.6zM569.6 49.9h1.6v1.6h-1.6zM574.4 51.5h1.6v1.6h-1.6zM566.4 53.1h4.8v1.6h-4.8zM572.8 53.1h1.6v1.6h-1.6zM576 53.1h6.4v1.6h-6.4zM584 53.1h6.4v1.6h-6.4zM568 54.7h1.6v1.6h-1.6zM592 54.7h3.2v1.6h-3.2zM564.8 56.3h3.2v1.6h-3.2zM595.2 56.3h3.2v1.6h-3.2zM563.2 57.9h3.2v1.6h-3.2zM598.4 57.9h1.6v1.6h-1.6zM561.6 61.1h1.6v1.6h-1.6zM601.6 61.1h1.6v1.6h-1.6zM603.2 62.7h1.6v1.6h-1.6zM558.4 64.3h1.6v1.6h-1.6zM604.8 64.3h1.6v1.6h-1.6zM606.4 65.9h1.6v1.6h-1.6zM608 67.5h1.6v1.6h-1.6zM555.2 69.1h1.6v1.6h-1.6zM609.6 70.7h1.6v1.6h-1.6zM553.6 72.3h1.6v1.6h-1.6zM609.6 72.3h1.6v1.6h-1.6zM547.2 73.9h1.6v1.6h-1.6zM553.6 73.9h1.6v1.6h-1.6zM611.2 73.9h1.6v1.6h-1.6zM547.2 75.5h1.6v1.6h-1.6zM552 75.5h1.6v1.6h-1.6zM611.2 75.5h1.6v1.6h-1.6zM552 78.7h1.6v1.6h-1.6zM552 80.3h1.6v1.6h-1.6zM547.2 81.9h1.6v1.6h-1.6zM552 81.9h1.6v1.6h-1.6zM552 83.5h1.6v1.6h-1.6zM553.6 88.3h1.6v1.6h-1.6zM609.6 88.3h1.6v1.6h-1.6zM553.6 89.9h1.6v1.6h-1.6zM609.6 89.9h1.6v1.6h-1.6zM555.2 93.1h1.6v1.6h-1.6zM608 93.1h1.6v1.6h-1.6zM608 94.7h1.6v1.6h-1.6zM556.8 96.3h1.6v1.6h-1.6zM606.4 96.3h1.6v1.6h-1.6zM556.8 97.9h1.6v1.6h-1.6zM606.4 97.9h1.6v1.6h-1.6zM558.4 99.5h1.6v1.6h-1.6zM604.8 99.5h1.6v1.6h-1.6zM560 101.1h1.6v1.6h-1.6zM604.8 101.1h1.6v1.6h-1.6zM561.6 102.7h1.6v1.6h-1.6zM603.2 102.7h3.2v1.6h-3.2zM563.2 104.3h1.6v1.6h-1.6zM604.8 104.3h1.6v1.6h-1.6zM608 104.3h1.6v1.6h-1.6zM598.4 105.9h1.6v1.6h-1.6zM604.8 105.9h1.6v1.6h-1.6zM566.4 107.5h1.6v1.6h-1.6zM593.6 107.5h3.2v1.6h-3.2zM609.6 107.5h1.6v1.6h-1.6zM568 109.1h3.2v1.6h-3.2zM590.4 109.1h3.2v1.6h-3.2zM571.2 110.7h1.6v1.6h-1.6zM574.4 110.7h1.6v1.6h-1.6zM577.6 110.7h3.2v1.6h-3.2zM584 110.7h3.2v1.6h-3.2zM577.6 112.3h1.6v1.6h-1.6zM568 115.5h1.6v1.6h-1.6zM564.8 121.9h1.6v1.6h-1.6zM563.2 126.7h1.6v1.6h-1.6zM587.2 126.7h1.6v1.6h-1.6z"/>
<path fill="#eb7308" d="M568 49.9h1.6v1.6h-1.6zM571.2 49.9h1.6v1.6h-1.6zM568 51.5h1.6v1.6h-1.6zM571.2 53.1h1.6v1.6h-1.6zM574.4 53.1h1.6v1.6h-1.6zM582.4 53.1h1.6v1.6h-1.6zM569.6 54.7h3.2v1.6h-3.2zM588.8 54.7h3.2v1.6h-3.2zM568 56.3h1.6v1.6h-1.6zM593.6 56.3h1.6v1.6h-1.6zM596.8 57.9h1.6v1.6h-1.6zM563.2 59.5h1.6v1.6h-1.6zM600 59.5h1.6v1.6h-1.6zM560 62.7h1.6v1.6h-1.6zM558.4 65.9h1.6v1.6h-1.6zM604.8 65.9h1.6v1.6h-1.6zM556.8 67.5h1.6v1.6h-1.6zM606.4 67.5h1.6v1.6h-1.6zM556.8 69.1h1.6v1.6h-1.6zM608 69.1h1.6v1.6h-1.6zM555.2 70.7h1.6v1.6h-1.6zM608 70.7h1.6v1.6h-1.6zM555.2 72.3h1.6v1.6h-1.6zM609.6 73.9h1.6v1.6h-1.6zM548.8 75.5h1.6v1.6h-1.6zM553.6 75.5h1.6v1.6h-1.6zM609.6 75.5h1.6v1.6h-1.6zM552 77.1h3.2v1.6h-3.2zM611.2 77.1h1.6v1.6h-1.6zM611.2 78.7h1.6v1.6h-1.6zM553.6 80.3h1.6v1.6h-1.6zM611.2 80.3h1.6v1.6h-1.6zM553.6 81.9h1.6v1.6h-1.6zM611.2 81.9h1.6v1.6h-1.6zM553.6 83.5h1.6v1.6h-1.6zM611.2 83.5h1.6v1.6h-1.6zM553.6 85.1h1.6v1.6h-1.6zM537.6 86.7h1.6v1.6h-1.6zM553.6 86.7h1.6v1.6h-1.6zM609.6 86.7h1.6v1.6h-1.6zM555.2 89.9h1.6v1.6h-1.6zM555.2 91.5h1.6v1.6h-1.6zM608 91.5h1.6v1.6h-1.6zM556.8 94.7h1.6v1.6h-1.6zM606.4 94.7h1.6v1.6h-1.6zM558.4 97.9h1.6v1.6h-1.6zM604.8 97.9h1.6v1.6h-1.6zM560 99.5h1.6v1.6h-1.6zM561.6 101.1h1.6v1.6h-1.6zM603.2 101.1h1.6v1.6h-1.6zM563.2 102.7h1.6v1.6h-1.6zM601.6 102.7h1.6v1.6h-1.6zM609.6 102.7h1.6v1.6h-1.6zM564.8 104.3h1.6v1.6h-1.6zM598.4 104.3h3.2v1.6h-3.2zM566.4 105.9h1.6v1.6h-1.6zM595.2 105.9h3.2v1.6h-3.2zM568 107.5h1.6v1.6h-1.6zM592 107.5h1.6v1.6h-1.6zM571.2 109.1h3.2v1.6h-3.2zM587.2 109.1h3.2v1.6h-3.2zM572.8 110.7h1.6v1.6h-1.6zM576 110.7h1.6v1.6h-1.6zM580.8 110.7h3.2v1.6h-3.2zM574.4 112.3h3.2v1.6h-3.2zM568 120.3h1.6v1.6h-1.6zM566.4 126.7h3.2v1.6h-3.2zM564.8 128.3h1.6v1.6h-1.6z"/>
<path fill="#f0660f" d="M569.6 51.5h3.2v1.6h-3.2zM572.8 54.7h16v1.6h-16zM569.6 56.3h1.6v1.6h-1.6zM590.4 56.3h3.2v1.6h-3.2zM566.4 57.9h1.6v1.6h-1.6zM595.2 57.9h1.6v1.6h-1.6zM564.8 59.5h1.6v1.6h-1.6zM598.4 59.5h1.6v1.6h-1.6zM563.2 61.1h1.6v1.6h-1.6zM600 61.1h1.6v1.6h-1.6zM561.6 62.7h1.6v1.6h-1.6zM601.6 62.7h1.6v1.6h-1.6zM560 64.3h1.6v1.6h-1.6zM603.2 64.3h1.6v1.6h-1.6zM558.4 67.5h1.6v1.6h-1.6zM604.8 67.5h1.6v1.6h-1.6zM606.4 69.1h1.6v1.6h-1.6zM556.8 70.7h1.6v1.6h-1.6zM608 72.3h1.6v1.6h-1.6zM555.2 73.9h1.6v1.6h-1.6zM608 73.9h1.6v1.6h-1.6zM555.2 75.5h1.6v1.6h-1.6zM609.6 77.1h1.6v1.6h-1.6zM553.6 78.7h1.6v1.6h-1.6zM609.6 78.7h1.6v1.6h-1.6zM609.6 80.3h1.6v1.6h-1.6zM609.6 83.5h1.6v1.6h-1.6zM609.6 85.1h1.6v1.6h-1.6zM555.2 86.7h1.6v1.6h-1.6zM536 88.3h1.6v1.6h-1.6zM555.2 88.3h1.6v1.6h-1.6zM608 88.3h1.6v1.6h-1.6zM608 89.9h1.6v1.6h-1.6zM556.8 91.5h1.6v1.6h-1.6zM556.8 93.1h1.6v1.6h-1.6zM606.4 93.1h1.6v1.6h-1.6zM558.4 96.3h1.6v1.6h-1.6zM604.8 96.3h1.6v1.6h-1.6zM560 97.9h1.6v1.6h-1.6zM603.2 99.5h1.6v1.6h-1.6zM601.6 101.1h1.6v1.6h-1.6zM564.8 102.7h1.6v1.6h-1.6zM598.4 102.7h3.2v1.6h-3.2zM566.4 104.3h1.6v1.6h-1.6zM596.8 104.3h1.6v1.6h-1.6zM568 105.9h1.6v1.6h-1.6zM593.6 105.9h1.6v1.6h-1.6zM569.6 107.5h4.8v1.6h-4.8zM590.4 107.5h1.6v1.6h-1.6zM574.4 109.1h1.6v1.6h-1.6zM577.6 109.1h9.6v1.6h-9.6zM569.6 120.3h1.6v1.6h-1.6zM564.8 126.7h1.6v1.6h-1.6z"/>
<path fill="#f55917" d="M571.2 56.3h8v1.6h-8zM584 56.3h6.4v1.6h-6.4zM568 57.9h3.2v1.6h-3.2zM592 57.9h3.2v1.6h-3.2zM566.4 59.5h1.6v1.6h-1.6zM595.2 59.5h3.2v1.6h-3.2zM564.8 61.1h1.6v1.6h-1.6zM596.8 61.1h3.2v1.6h-3.2zM563.2 62.7h1.6v1.6h-1.6zM600 62.7h1.6v1.6h-1.6zM561.6 64.3h1.6v1.6h-1.6zM601.6 64.3h1.6v1.6h-1.6zM560 65.9h1.6v1.6h-1.6zM603.2 65.9h1.6v1.6h-1.6zM560 67.5h1.6v1.6h-1.6zM603.2 67.5h1.6v1.6h-1.6zM558.4 69.1h1.6v1.6h-1.6zM604.8 69.1h1.6v1.6h-1.6zM558.4 70.7h1.6v1.6h-1.6zM606.4 70.7h1.6v1.6h-1.6zM556.8 72.3h1.6v1.6h-1.6zM606.4 72.3h1.6v1.6h-1.6zM556.8 73.9h1.6v1.6h-1.6zM556.8 75.5h1.6v1.6h-1.6zM608 75.5h1.6v1.6h-1.6zM555.2 77.1h1.6v1.6h-1.6zM555.2 78.7h1.6v1.6h-1.6zM555.2 80.3h1.6v1.6h-1.6zM608 80.3h1.6v1.6h-1.6zM555.2 81.9h1.6v1.6h-1.6zM608 81.9h3.2v1.6h-3.2zM555.2 83.5h1.6v1.6h-1.6zM608 83.5h1.6v1.6h-1.6zM555.2 85.1h1.6v1.6h-1.6zM608 85.1h1.6v1.6h-1.6zM608 86.7h1.6v1.6h-1.6zM556.8 88.3h1.6v1.6h-1.6zM606.4 88.3h1.6v1.6h-1.6zM556.8 89.9h1.6v1.6h-1.6zM606.4 89.9h1.6v1.6h-1.6zM606.4 91.5h1.6v1.6h-1.6zM558.4 93.1h1.6v1.6h-1.6zM604.8 93.1h1.6v1.6h-1.6zM558.4 94.7h1.6v1.6h-1.6zM604.8 94.7h1.6v1.6h-1.6zM560 96.3h1.6v1.6h-1.6zM603.2 96.3h1.6v1.6h-1.6zM561.6 97.9h1.6v1.6h-1.6zM601.6 97.9h3.2v1.6h-3.2zM561.6 99.5h3.2v1.6h-3.2zM601.6 99.5h1.6v1.6h-1.6zM563.2 101.1h3.2v1.6h-3.2zM598.4 101.1h3.2v1.6h-3.2zM566.4 102.7h1.6v1.6h-1.6zM596.8 102.7h1.6v1.6h-1.6zM568 104.3h1.6v1.6h-1.6zM593.6 104.3h3.2v1.6h-3.2zM569.6 105.9h3.2v1.6h-3.2zM590.4 105.9h3.2v1.6h-3.2zM574.4 107.5h1.6v1.6h-1.6zM577.6 107.5h1.6v1.6h-1.6zM580.8 107.5h1.6v1.6h-1.6zM584 107.5h6.4v1.6h-6.4zM576 109.1h1.6v1.6h-1.6zM566.4 120.3h1.6v1.6h-1.6zM563.2 125.1h1.6v1.6h-1.6z"/>
<path fill="#fa4d1f" d="M579.2 56.3h4.8v1.6h-4.8zM571.2 57.9h6.4v1.6h-6.4zM587.2 57.9h4.8v1.6h-4.8zM568 59.5h4.8v1.6h-4.8zM592 59.5h3.2v1.6h-3.2zM566.4 61.1h3.2v1.6h-3.2zM595.2 61.1h1.6v1.6h-1.6zM564.8 62.7h3.2v1.6h-3.2zM596.8 62.7h3.2v1.6h-3.2zM563.2 64.3h1.6v1.6h-1.6zM600 64.3h1.6v1.6h-1.6zM561.6 65.9h3.2v1.6h-3.2zM600 65.9h3.2v1.6h-3.2zM561.6 67.5h1.6v1.6h-1.6zM601.6 67.5h1.6v1.6h-1.6zM560 69.1h1.6v1.6h-1.6zM603.2 69.1h1.6v1.6h-1.6zM560 70.7h1.6v1.6h-1.6zM604.8 70.7h1.6v1.6h-1.6zM558.4 72.3h1.6v1.6h-1.6zM604.8 72.3h1.6v1.6h-1.6zM558.4 73.9h1.6v1.6h-1.6zM606.4 73.9h1.6v1.6h-1.6zM606.4 75.5h1.6v1.6h-1.6zM556.8 77.1h1.6v1.6h-1.6zM606.4 77.1h3.2v1.6h-3.2zM556.8 78.7h1.6v1.6h-1.6zM606.4 78.7h3.2v1.6h-3.2zM556.8 80.3h1.6v1.6h-1.6zM556.8 81.9h1.6v1.6h-1.6zM606.4 81.9h1.6v1.6h-1.6zM556.8 83.5h1.6v1.6h-1.6zM606.4 83.5h1.6v1.6h-1.6zM556.8 85.1h1.6v1.6h-1.6zM606.4 85.1h1.6v1.6h-1.6zM556.8 86.7h1.6v1.6h-1.6zM606.4 86.7h1.6v1.6h-1.6zM558.4 88.3h1.6v1.6h-1.6zM558.4 89.9h1.6v1.6h-1.6zM604.8 89.9h1.6v1.6h-1.6zM558.4 91.5h1.6v1.6h-1.6zM604.8 91.5h1.6v1.6h-1.6zM560 93.1h1.6v1.6h-1.6zM603.2 93.1h1.6v1.6h-1.6zM560 94.7h1.6v1.6h-1.6zM603.2 94.7h1.6v1.6h-1.6zM561.6 96.3h1.6v1.6h-1.6zM601.6 96.3h1.6v1.6h-1.6zM563.2 97.9h1.6v1.6h-1.6zM600 97.9h1.6v1.6h-1.6zM564.8 99.5h1.6v1.6h-1.6zM598.4 99.5h3.2v1.6h-3.2zM566.4 101.1h1.6v1.6h-1.6zM596.8 101.1h1.6v1.6h-1.6zM568 102.7h1.6v1.6h-1.6zM593.6 102.7h3.2v1.6h-3.2zM569.6 104.3h3.2v1.6h-3.2zM590.4 104.3h3.2v1.6h-3.2zM572.8 105.9h6.4v1.6h-6.4zM584 105.9h6.4v1.6h-6.4zM576 107.5h1.6v1.6h-1.6zM579.2 107.5h1.6v1.6h-1.6zM582.4 107.5h1.6v1.6h-1.6zM563.2 123.5h1.6v1.6h-1.6z"/>
<path fill="#ff4026" d="M577.6 57.9h9.6v1.6h-9.6zM572.8 59.5h3.2v1.6h-3.2zM587.2 59.5h4.8v1.6h-4.8zM569.6 61.1h3.2v1.6h-3.2zM592 61.1h3.2v1.6h-3.2zM568 62.7h1.6v1.6h-1.6zM595.2 62.7h1.6v1.6h-1.6zM564.8 64.3h3.2v1.6h-3.2zM596.8 64.3h3.2v1.6h-3.2zM564.8 65.9h1.6v1.6h-1.6zM598.4 65.9h1.6v1.6h-1.6zM563.2 67.5h1.6v1.6h-1.6zM600 67.5h1.6v1.6h-1.6zM561.6 69.1h1.6v1.6h-1.6zM601.6 69.1h1.6v1.6h-1.6zM561.6 70.7h1.6v1.6h-1.6zM603.2 70.7h1.6v1.6h-1.6zM560 72.3h1.6v1.6h-1.6zM603.2 72.3h1.6v1.6h-1.6zM560 73.9h1.6v1.6h-1.6zM604.8 73.9h1.6v1.6h-1.6zM558.4 75.5h1.6v1.6h-1.6zM604.8 75.5h1.6v1.6h-1.6zM558.4 77.1h1.6v1.6h-1.6zM604.8 77.1h1.6v1.6h-1.6zM558.4 78.7h1.6v1.6h-1.6zM558.4 80.3h1.6v1.6h-1.6zM606.4 80.3h1.6v1.6h-1.6zM558.4 81.9h1.6v1.6h-1.6zM604.8 81.9h1.6v1.6h-1.6zM558.4 83.5h1.6v1.6h-1.6zM604.8 83.5h1.6v1.6h-1.6zM558.4 85.1h1.6v1.6h-1.6zM604.8 85.1h1.6v1.6h-1.6zM558.4 86.7h1.6v1.6h-1.6zM604.8 86.7h1.6v1.6h-1.6zM604.8 88.3h1.6v1.6h-1.6zM560 89.9h1.6v1.6h-1.6zM603.2 89.9h1.6v1.6h-1.6zM560 91.5h1.6v1.6h-1.6zM603.2 91.5h1.6v1.6h-1.6zM561.6 93.1h1.6v1.6h-1.6zM601.6 93.1h1.6v1.6h-1.6zM561.6 94.7h1.6v1.6h-1.6zM601.6 94.7h1.6v1.6h-1.6zM563.2 96.3h1.6v1.6h-1.6zM600 96.3h1.6v1.6h-1.6zM564.8 97.9h1.6v1.6h-1.6zM598.4 97.9h1.6v1.6h-1.6zM566.4 99.5h1.6v1.6h-1.6zM596.8 99.5h1.6v1.6h-1.6zM568 101.1h1.6v1.6h-1.6zM593.6 101.1h3.2v1.6h-3.2zM569.6 102.7h3.2v1.6h-3.2zM590.4 102.7h3.2v1.6h-3.2zM572.8 104.3h6.4v1.6h-6.4zM585.6 104.3h4.8v1.6h-4.8zM579.2 105.9h4.8v1.6h-4.8z"/>
<path fill="#eb3d38" d="M576 59.5h11.2v1.6h-11.2zM572.8 61.1h8v1.6h-8zM584 61.1h8v1.6h-8zM569.6 62.7h4.8v1.6h-4.8zM590.4 62.7h4.8v1.6h-4.8zM568 64.3h3.2v1.6h-3.2zM593.6 64.3h3.2v1.6h-3.2zM566.4 65.9h3.2v1.6h-3.2zM595.2 65.9h3.2v1.6h-3.2zM564.8 67.5h3.2v1.6h-3.2zM596.8 67.5h3.2v1.6h-3.2zM563.2 69.1h3.2v1.6h-3.2zM598.4 69.1h3.2v1.6h-3.2zM563.2 70.7h1.6v1.6h-1.6zM600 70.7h3.2v1.6h-3.2zM561.6 72.3h3.2v1.6h-3.2zM601.6 72.3h1.6v1.6h-1.6zM561.6 73.9h1.6v1.6h-1.6zM601.6 73.9h3.2v1.6h-3.2zM560 75.5h3.2v1.6h-3.2zM603.2 75.5h1.6v1.6h-1.6zM560 77.1h1.6v1.6h-1.6zM603.2 77.1h1.6v1.6h-1.6zM560 78.7h1.6v1.6h-1.6zM603.2 78.7h3.2v1.6h-3.2zM560 80.3h1.6v1.6h-1.6zM603.2 80.3h3.2v1.6h-3.2zM560 81.9h1.6v1.6h-1.6zM603.2 81.9h1.6v1.6h-1.6zM560 83.5h1.6v1.6h-1.6zM603.2 83.5h1.6v1.6h-1.6zM560 85.1h1.6v1.6h-1.6zM603.2 85.1h1.6v1.6h-1.6zM560 86.7h1.6v1.6h-1.6zM601.6 86.7h3.2v1.6h-3.2zM560 88.3h3.2v1.6h-3.2zM601.6 88.3h3.2v1.6h-3.2zM561.6 89.9h1.6v1.6h-1.6zM601.6 89.9h1.6v1.6h-1.6zM561.6 91.5h3.2v1.6h-3.2zM600 91.5h3.2v1.6h-3.2zM563.2 93.1h1.6v1.6h-1.6zM600 93.1h1.6v1.6h-1.6zM563.2 94.7h3.2v1.6h-3.2zM598.4 94.7h3.2v1.6h-3.2zM564.8 96.3h3.2v1.6h-3.2zM596.8 96.3h3.2v1.6h-3.2zM566.4 97.9h3.2v1.6h-3.2zM595.2 97.9h3.2v1.6h-3.2zM568 99.5h3.2v1.6h-3.2zM592 99.5h4.8v1.6h-4.8zM569.6 101.1h6.4v1.6h-6.4zM588.8 101.1h4.8v1.6h-4.8zM572.8 102.7h17.6v1.6h-17.6zM579.2 104.3h6.4v1.6h-6.4z"/>
<path fill="#d63b4a" d="M580.8 61.1h3.2v1.6h-3.2zM574.4 62.7h16v1.6h-16zM571.2 64.3h4.8v1.6h-4.8zM588.8 64.3h4.8v1.6h-4.8zM569.6 65.9h3.2v1.6h-3.2zM592 65.9h3.2v1.6h-3.2zM568 67.5h1.6v1.6h-1.6zM595.2 67.5h1.6v1.6h-1.6zM566.4 69.1h1.6v1.6h-1.6zM596.8 69.1h1.6v1.6h-1.6zM564.8 70.7h1.6v1.6h-1.6zM598.4 70.7h1.6v1.6h-1.6zM564.8 72.3h1.6v1.6h-1.6zM598.4 72.3h3.2v1.6h-3.2zM563.2 73.9h1.6v1.6h-1.6zM600 73.9h1.6v1.6h-1.6zM563.2 75.5h1.6v1.6h-1.6zM600 75.5h3.2v1.6h-3.2zM561.6 77.1h3.2v1.6h-3.2zM600 77.1h3.2v1.6h-3.2zM561.6 78.7h1.6v1.6h-1.6zM601.6 78.7h1.6v1.6h-1.6zM561.6 80.3h1.6v1.6h-1.6zM601.6 80.3h1.6v1.6h-1.6zM561.6 81.9h1.6v1.6h-1.6zM601.6 81.9h1.6v1.6h-1.6zM561.6 83.5h1.6v1.6h-1.6zM601.6 83.5h1.6v1.6h-1.6zM561.6 85.1h3.2v1.6h-3.2zM601.6 85.1h1.6v1.6h-1.6zM561.6 86.7h3.2v1.6h-3.2zM600 86.7h1.6v1.6h-1.6zM563.2 88.3h1.6v1.6h-1.6zM600 88.3h1.6v1.6h-1.6zM563.2 89.9h3.2v1.6h-3.2zM600 89.9h1.6v1.6h-1.6zM564.8 91.5h1.6v1.6h-1.6zM598.4 91.5h1.6v1.6h-1.6zM564.8 93.1h3.2v1.6h-3.2zM596.8 93.1h3.2v1.6h-3.2zM566.4 94.7h3.2v1.6h-3.2zM595.2 94.7h3.2v1.6h-3.2zM568 96.3h3.2v1.6h-3.2zM593.6 96.3h3.2v1.6h-3.2zM569.6 97.9h3.2v1.6h-3.2zM592 97.9h3.2v1.6h-3.2zM571.2 99.5h6.4v1.6h-6.4zM587.2 99.5h4.8v1.6h-4.8zM576 101.1h12.8v1.6h-12.8z"/>
<path fill="#c2385c" d="M576 64.3h3.2v1.6h-3.2zM585.6 64.3h3.2v1.6h-3.2zM572.8 65.9h1.6v1.6h-1.6zM590.4 65.9h1.6v1.6h-1.6zM569.6 67.5h1.6v1.6h-1.6zM593.6 67.5h1.6v1.6h-1.6zM568 69.1h1.6v1.6h-1.6zM595.2 69.1h1.6v1.6h-1.6zM566.4 70.7h1.6v1.6h-1.6zM596.8 70.7h1.6v1.6h-1.6zM566.4 72.3h1.6v1.6h-1.6zM596.8 72.3h1.6v1.6h-1.6zM564.8 73.9h1.6v1.6h-1.6zM598.4 73.9h1.6v1.6h-1.6zM564.8 75.5h1.6v1.6h-1.6zM598.4 75.5h1.6v1.6h-1.6zM563.2 78.7h1.6v1.6h-1.6zM600 78.7h1.6v1.6h-1.6zM563.2 80.3h1.6v1.6h-1.6zM600 80.3h1.6v1.6h-1.6zM563.2 81.9h1.6v1.6h-1.6zM600 81.9h1.6v1.6h-1.6zM563.2 83.5h1.6v1.6h-1.6zM600 83.5h1.6v1.6h-1.6zM600 85.1h1.6v1.6h-1.6zM564.8 88.3h1.6v1.6h-1.6zM598.4 88.3h1.6v1.6h-1.6zM598.4 89.9h1.6v1.6h-1.6zM566.4 91.5h1.6v1.6h-1.6zM596.8 91.5h1.6v1.6h-1.6zM568 93.1h1.6v1.6h-1.6zM595.2 93.1h1.6v1.6h-1.6zM569.6 94.7h1.6v1.6h-1.6zM593.6 94.7h1.6v1.6h-1.6zM571.2 96.3h1.6v1.6h-1.6zM592 96.3h1.6v1.6h-1.6zM572.8 97.9h3.2v1.6h-3.2zM588.8 97.9h3.2v1.6h-3.2zM577.6 99.5h9.6v1.6h-9.6z"/>
<path fill="#ad366e" d="M579.2 64.3h6.4v1.6h-6.4zM574.4 65.9h3.2v1.6h-3.2zM587.2 65.9h3.2v1.6h-3.2zM571.2 67.5h3.2v1.6h-3.2zM590.4 67.5h3.2v1.6h-3.2zM569.6 69.1h1.6v1.6h-1.6zM593.6 69.1h1.6v1.6h-1.6zM568 70.7h1.6v1.6h-1.6zM595.2 70.7h1.6v1.6h-1.6zM566.4 73.9h1.6v1.6h-1.6zM596.8 73.9h1.6v1.6h-1.6zM564.8 77.1h1.6v1.6h-1.6zM598.4 77.1h1.6v1.6h-1.6zM564.8 78.7h1.6v1.6h-1.6zM598.4 78.7h1.6v1.6h-1.6zM564.8 80.3h1.6v1.6h-1.6zM598.4 80.3h1.6v1.6h-1.6zM564.8 81.9h1.6v1.6h-1.6zM598.4 81.9h1.6v1.6h-1.6zM564.8 83.5h1.6v1.6h-1.6zM598.4 83.5h1.6v1.6h-1.6zM564.8 85.1h1.6v1.6h-1.6zM598.4 85.1h1.6v1.6h-1.6zM564.8 86.7h1.6v1.6h-1.6zM598.4 86.7h1.6v1.6h-1.6zM566.4 88.3h1.6v1.6h-1.6zM566.4 89.9h1.6v1.6h-1.6zM596.8 89.9h1.6v1.6h-1.6zM568 91.5h1.6v1.6h-1.6zM595.2 91.5h1.6v1.6h-1.6zM569.6 93.1h1.6v1.6h-1.6zM571.2 94.7h1.6v1.6h-1.6zM592 94.7h1.6v1.6h-1.6zM572.8 96.3h1.6v1.6h-1.6zM590.4 96.3h1.6v1.6h-1.6zM576 97.9h3.2v1.6h-3.2zM585.6 97.9h3.2v1.6h-3.2z"/>
<path fill="#993380" d="M577.6 65.9h9.6v1.6h-9.6zM574.4 67.5h1.6v1.6h-1.6zM588.8 67.5h1.6v1.6h-1.6zM571.2 69.1h1.6v1.6h-1.6zM592 69.1h1.6v1.6h-1.6zM569.6 70.7h1.6v1.6h-1.6zM593.6 70.7h1.6v1.6h-1.6zM568 72.3h1.6v1.6h-1.6zM595.2 72.3h1.6v1.6h-1.6zM568 73.9h1.6v1.6h-1.6zM566.4 75.5h1.6v1.6h-1.6zM596.8 75.5h1.6v1.6h-1.6zM566.4 77.1h1.6v1.6h-1.6zM596.8 77.1h1.6v1.6h-1.6zM566.4 85.1h1.6v1.6h-1.6zM566.4 86.7h1.6v1.6h-1.6zM596.8 86.7h1.6v1.6h-1.6zM596.8 88.3h1.6v1.6h-1.6zM568 89.9h1.6v1.6h-1.6zM595.2 89.9h1.6v1.6h-1.6zM569.6 91.5h1.6v1.6h-1.6zM593.6 93.1h1.6v1.6h-1.6zM572.8 94.7h1.6v1.6h-1.6zM590.4 94.7h1.6v1.6h-1.6zM574.4 96.3h3.2v1.6h-3.2zM587.2 96.3h3.2v1.6h-3.2zM579.2 97.9h6.4v1.6h-6.4z"/>
<path fill="#8a308c" d="M576 67.5h1.6v1.6h-1.6zM587.2 67.5h1.6v1.6h-1.6zM572.8 69.1h1.6v1.6h-1.6zM590.4 69.1h1.6v1.6h-1.6zM571.2 70.7h1.6v1.6h-1.6zM592 70.7h1.6v1.6h-1.6zM569.6 72.3h1.6v1.6h-1.6zM593.6 72.3h1.6v1.6h-1.6zM595.2 73.9h1.6v1.6h-1.6zM568 75.5h1.6v1.6h-1.6zM566.4 78.7h1.6v1.6h-1.6zM596.8 78.7h1.6v1.6h-1.6zM566.4 80.3h1.6v1.6h-1.6zM596.8 80.3h1.6v1.6h-1.6zM566.4 81.9h1.6v1.6h-1.6zM596.8 81.9h1.6v1.6h-1.6zM566.4 83.5h1.6v1.6h-1.6zM596.8 83.5h1.6v1.6h-1.6zM596.8 85.1h1.6v1.6h-1.6zM568 88.3h1.6v1.6h-1.6zM595.2 88.3h1.6v1.6h-1.6zM593.6 91.5h1.6v1.6h-1.6zM571.2 93.1h1.6v1.6h-1.6zM592 93.1h1.6v1.6h-1.6zM574.4 94.7h1.6v1.6h-1.6zM588.8 94.7h1.6v1.6h-1.6zM577.6 96.3h3.2v1.6h-3.2zM584 96.3h3.2v1.6h-3.2z"/>
<path fill="#7a2e99" d="M577.6 67.5h9.6v1.6h-9.6zM574.4 69.1h1.6v1.6h-1.6zM588.8 69.1h1.6v1.6h-1.6zM572.8 70.7h1.6v1.6h-1.6zM571.2 72.3h1.6v1.6h-1.6zM569.6 73.9h1.6v1.6h-1.6zM593.6 73.9h1.6v1.6h-1.6zM595.2 75.5h1.6v1.6h-1.6zM568 77.1h1.6v1.6h-1.6zM595.2 77.1h1.6v1.6h-1.6zM568 78.7h1.6v1.6h-1.6zM568 85.1h1.6v1.6h-1.6zM568 86.7h1.6v1.6h-1.6zM595.2 86.7h1.6v1.6h-1.6zM569.6 89.9h1.6v1.6h-1.6zM593.6 89.9h1.6v1.6h-1.6zM571.2 91.5h1.6v1.6h-1.6zM592 91.5h1.6v1.6h-1.6zM572.8 93.1h1.6v1.6h-1.6zM590.4 93.1h1.6v1.6h-1.6zM576 94.7h1.6v1.6h-1.6zM587.2 94.7h1.6v1.6h-1.6zM580.8 96.3h3.2v1.6h-3.2z"/>
<path fill="#6b2ba6" d="M576 69.1h3.2v1.6h-3.2zM587.2 69.1h1.6v1.6h-1.6zM590.4 70.7h1.6v1.6h-1.6zM592 72.3h1.6v1.6h-1.6zM569.6 75.5h1.6v1.6h-1.6zM593.6 75.5h1.6v1.6h-1.6zM595.2 78.7h1.6v1.6h-1.6zM568 80.3h1.6v1.6h-1.6zM595.2 80.3h1.6v1.6h-1.6zM568 81.9h1.6v1.6h-1.6zM595.2 81.9h1.6v1.6h-1.6zM568 83.5h1.6v1.6h-1.6zM595.2 83.5h1.6v1.6h-1.6zM595.2 85.1h1.6v1.6h-1.6zM569.6 88.3h1.6v1.6h-1.6zM593.6 88.3h1.6v1.6h-1.6zM571.2 89.9h1.6v1.6h-1.6zM592 89.9h1.6v1.6h-1.6zM572.8 91.5h1.6v1.6h-1.6zM590.4 91.5h1.6v1.6h-1.6zM574.4 93.1h1.6v1.6h-1.6zM588.8 93.1h1.6v1.6h-1.6zM577.6 94.7h3.2v1.6h-3.2zM584 94.7h3.2v1.6h-3.2z"/>
<path fill="#5c29b2" d="M579.2 69.1h8v1.6h-8zM574.4 70.7h3.2v1.6h-3.2zM587.2 70.7h3.2v1.6h-3.2zM572.8 72.3h1.6v1.6h-1.6zM590.4 72.3h1.6v1.6h-1.6zM571.2 73.9h1.6v1.6h-1.6zM592 73.9h1.6v1.6h-1.6zM571.2 75.5h1.6v1.6h-1.6zM569.6 77.1h1.6v1.6h-1.6zM593.6 77.1h1.6v1.6h-1.6zM569.6 78.7h1.6v1.6h-1.6zM593.6 78.7h1.6v1.6h-1.6zM569.6 80.3h1.6v1.6h-1.6zM569.6 83.5h1.6v1.6h-1.6zM569.6 85.1h1.6v1.6h-1.6zM593.6 85.1h1.6v1.6h-1.6zM569.6 86.7h1.6v1.6h-1.6zM593.6 86.7h1.6v1.6h-1.6zM571.2 88.3h1.6v1.6h-1.6zM592 88.3h1.6v1.6h-1.6zM572.8 89.9h1.6v1.6h-1.6zM574.4 91.5h1.6v1.6h-1.6zM588.8 91.5h1.6v1.6h-1.6zM576 93.1h3.2v1.6h-3.2zM585.6 93.1h3.2v1.6h-3.2zM580.8 94.7h3.2v1.6h-3.2z"/>
<path fill="#4c26bf" d="M577.6 70.7h3.2v1.6h-3.2zM584 70.7h3.2v1.6h-3.2zM574.4 72.3h1.6v1.6h-1.6zM588.8 72.3h1.6v1.6h-1.6zM572.8 73.9h1.6v1.6h-1.6zM590.4 73.9h1.6v1.6h-1.6zM592 75.5h1.6v1.6h-1.6zM571.2 77.1h1.6v1.6h-1.6zM592 77.1h1.6v1.6h-1.6zM593.6 80.3h1.6v1.6h-1.6zM569.6 81.9h1.6v1.6h-1.6zM593.6 81.9h1.6v1.6h-1.6zM593.6 83.5h1.6v1.6h-1.6zM571.2 85.1h1.6v1.6h-1.6zM571.2 86.7h1.6v1.6h-1.6zM592 86.7h1.6v1.6h-1.6zM572.8 88.3h1.6v1.6h-1.6zM590.4 88.3h1.6v1.6h-1.6zM574.4 89.9h1.6v1.6h-1.6zM590.4 89.9h1.6v1.6h-1.6zM576 91.5h1.6v1.6h-1.6zM587.2 91.5h1.6v1.6h-1.6zM579.2 93.1h6.4v1.6h-6.4z"/>
<path fill="#4526b2" d="M580.8 70.7h3.2v1.6h-3.2zM576 72.3h3.2v1.6h-3.2zM585.6 72.3h3.2v1.6h-3.2zM574.4 73.9h1.6v1.6h-1.6zM588.8 73.9h1.6v1.6h-1.6zM572.8 75.5h1.6v1.6h-1.6zM590.4 75.5h1.6v1.6h-1.6zM572.8 77.1h1.6v1.6h-1.6zM571.2 78.7h1.6v1.6h-1.6zM592 78.7h1.6v1.6h-1.6zM571.2 80.3h1.6v1.6h-1.6zM592 80.3h1.6v1.6h-1.6zM571.2 81.9h1.6v1.6h-1.6zM592 81.9h1.6v1.6h-1.6zM571.2 83.5h1.6v1.6h-1.6zM592 83.5h1.6v1.6h-1.6zM592 85.1h1.6v1.6h-1.6zM572.8 86.7h1.6v1.6h-1.6zM590.4 86.7h1.6v1.6h-1.6zM574.4 88.3h1.6v1.6h-1.6zM576 89.9h1.6v1.6h-1.6zM587.2 89.9h3.2v1.6h-3.2zM577.6 91.5h9.6v1.6h-9.6z"/>
<path fill="#3d26a6" d="M579.2 72.3h6.4v1.6h-6.4zM576 73.9h1.6v1.6h-1.6zM587.2 73.9h1.6v1.6h-1.6zM574.4 75.5h1.6v1.6h-1.6zM588.8 75.5h1.6v1.6h-1.6zM590.4 77.1h1.6v1.6h-1.6zM572.8 78.7h1.6v1.6h-1.6zM590.4 78.7h1.6v1.6h-1.6zM572.8 80.3h1.6v1.6h-1.6zM572.8 83.5h1.6v1.6h-1.6zM572.8 85.1h1.6v1.6h-1.6zM590.4 85.1h1.6v1.6h-1.6zM588.8 88.3h1.6v1.6h-1.6zM577.6 89.9h1.6v1.6h-1.6zM585.6 89.9h1.6v1.6h-1.6z"/>
<path fill="#362699" d="M577.6 73.9h3.2v1.6h-3.2zM584 73.9h3.2v1.6h-3.2zM576 75.5h1.6v1.6h-1.6zM587.2 75.5h1.6v1.6h-1.6zM574.4 77.1h1.6v1.6h-1.6zM588.8 77.1h1.6v1.6h-1.6zM590.4 80.3h1.6v1.6h-1.6zM572.8 81.9h1.6v1.6h-1.6zM590.4 81.9h1.6v1.6h-1.6zM590.4 83.5h1.6v1.6h-1.6zM574.4 85.1h1.6v1.6h-1.6zM574.4 86.7h1.6v1.6h-1.6zM588.8 86.7h1.6v1.6h-1.6zM576 88.3h1.6v1.6h-1.6zM587.2 88.3h1.6v1.6h-1.6zM579.2 89.9h6.4v1.6h-6.4z"/>
<path fill="#2e268c" d="M580.8 73.9h3.2v1.6h-3.2zM577.6 75.5h1.6v1.6h-1.6zM585.6 75.5h1.6v1.6h-1.6zM576 77.1h1.6v1.6h-1.6zM587.2 77.1h1.6v1.6h-1.6zM574.4 78.7h1.6v1.6h-1.6zM588.8 78.7h1.6v1.6h-1.6zM574.4 80.3h1.6v1.6h-1.6zM588.8 80.3h1.6v1.6h-1.6zM574.4 81.9h1.6v1.6h-1.6zM588.8 81.9h1.6v1.6h-1.6zM574.4 83.5h1.6v1.6h-1.6zM588.8 83.5h1.6v1.6h-1.6zM588.8 85.1h1.6v1.6h-1.6zM576 86.7h1.6v1.6h-1.6zM587.2 86.7h1.6v1.6h-1.6zM577.6 88.3h3.2v1.6h-3.2zM584 88.3h3.2v1.6h-3.2z"/>
<path fill="#262680" d="M579.2 75.5h1.6v1.6h-1.6zM584 75.5h1.6v1.6h-1.6zM576 78.7h1.6v1.6h-1.6zM587.2 78.7h1.6v1.6h-1.6zM576 85.1h1.6v1.6h-1.6zM587.2 85.1h1.6v1.6h-1.6zM577.6 86.7h1.6v1.6h-1.6zM585.6 86.7h1.6v1.6h-1.6zM580.8 88.3h3.2v1.6h-3.2z"/>
<path fill="#1f1f66" d="M580.8 75.5h3.2v1.6h-3.2zM577.6 77.1h1.6v1.6h-1.6zM585.6 77.1h1.6v1.6h-1.6zM576 80.3h1.6v1.6h-1.6zM587.2 80.3h1.6v1.6h-1.6zM576 81.9h1.6v1.6h-1.6zM576 83.5h1.6v1.6h-1.6zM587.2 83.5h1.6v1.6h-1.6zM579.2 86.7h1.6v1.6h-1.6zM584 86.7h1.6v1.6h-1.6z"/>
<path fill="#17174c" d="M579.2 77.1h1.6v1.6h-1.6zM584 77.1h1.6v1.6h-1.6zM577.6 78.7h1.6v1.6h-1.6zM587.2 81.9h1.6v1.6h-1.6zM577.6 85.1h1.6v1.6h-1.6zM585.6 85.1h1.6v1.6h-1.6zM580.8 86.7h3.2v1.6h-3.2z"/>
<path fill="#0f0f33" d="M580.8 77.1h3.2v1.6h-3.2zM585.6 78.7h1.6v1.6h-1.6zM577.6 80.3h1.6v1.6h-1.6zM585.6 80.3h1.6v1.6h-1.6zM577.6 81.9h1.6v1.6h-1.6zM577.6 83.5h1.6v1.6h-1.6zM585.6 83.5h1.6v1.6h-1.6zM579.2 85.1h1.6v1.6h-1.6zM584 85.1h1.6v1.6h-1.6z"/>
<path fill="#08081a" d="M579.2 78.7h6.4v1.6h-6.4zM585.6 81.9h1.6v1.6h-1.6zM579.2 83.5h1.6v1.6h-1.6zM584 83.5h1.6v1.6h-1.6zM580.8 85.1h3.2v1.6h-3.2z"/>
<path fill="#000000" d="M579.2 80.3h6.4v1.6h-6.4zM579.2 81.9h6.4v1.6h-6.4zM580.8 83.5h3.2v1.6h-3.2z"/>
</g>
<circle cx="582.5" cy="82.4" r="7.0" fill="none" stroke="#fff" stroke-width="1.1" stroke-dasharray="2.6 1.8"/>
<circle cx="582.5" cy="82.4" r="12.5" fill="none" stroke="#fff" stroke-width="1.1" stroke-dasharray="2.6 1.8"/>
<circle cx="582.5" cy="82.4" r="23.2" fill="none" stroke="#fff" stroke-width="1.1" stroke-dasharray="2.6 1.8"/>
<path d="M517.8 118.8L518.6 125.2L519.4 121.9L520.2 129.2L520.8 132.3L521.3 133L521.9 136.4L522.5 132.1L523.1 129L523.7 125.8L524.3 119.5L524.8 118.6L525.4 115.4L526.3 112.6L527.3 115.8L528.2 110.2L529 112.2L529.8 113.2L530.6 115.4L531.4 119.6L532.2 123.6L533 129.2L533.7 130.5L534.3 134.7L535 138.5L535.8 133.9L536.7 127.3L537.5 122.3L538.1 121.3L538.6 117.4L539.2 115.4L540.1 114.3L541.1 114.9L542 111.9L542.8 113.1L543.6 112.4L544.4 113.6L545 112.3L545.6 112L546.2 110.2L547.3 108.7L548.5 103L549.6 99.8L550.8 96.1L551.9 93.6L553.1 89.4L554.2 86.6L555.4 84.7L556.5 82.5L557.7 80.5L558.8 78.1L560 75.6L561 72.2L562.1 69L563.1 65.4L563.7 63.9L564.4 64.1L565 63.1L565.8 62.7L566.7 62.3L567.5 62.5L568 61.7L568.5 61L569 60L569.5 57.2L569.9 54.4L570.4 52L571.5 46.6L572.7 41.2L573.8 35.8L575 33.3L576.1 30.2L577.3 27.1L578.2 25.6L579.1 24.3L580 22.5L580.8 22L581.7 21.4L582.5 21.2L583.7 22.2L584.8 23L586 23.7L587.1 26.5L588.3 29.2L589.4 32.3L590.6 37L591.7 40.9L592.9 46.2L593.7 50.3L594.5 54.2L595.3 58L596.2 61.1L597.2 64.9L598.1 68.4L598.9 70L599.7 72.3L600.5 74L601.4 76.1L602.4 79L603.3 82L604.4 84.5L605.6 86.9L606.7 88.4L607.6 88.3L608.4 90.5L609.3 92L610.4 92.6L611.6 92.3L612.7 93.1L613.3 95.2L613.9 94.1L614.5 96L615.1 98.4L615.6 99.4L616.2 102.4L617.1 107L617.9 108.7L618.8 111.9L619.5 115.9L620.1 118.5L620.8 125.4L621.2 128.8L621.6 128.3L622 128L622.8 124.4L623.5 120.1L624.3 113.9L624.8 113.5L625.3 111.6L625.8 111.6L626.4 112.4L626.9 114.2L627.5 117L628.1 122.5L628.6 122.2L629.2 128L629.8 130.7L630.4 134.8L631 139L634.3 139L637.7 139L641 139L641.9 133.8L642.9 130.1L643.8 130L644.4 128.8L644.9 129.5L645.5 126.4L645.8 129.1L646.2 129.8L646.5 131" fill="none" stroke="#111" stroke-width="1.1" stroke-linejoin="round"/>
<rect x="518.4" y="139.1" width="128.5" height="6.2" fill="#fff"/>
<defs><linearGradient id="cb" x1="0" y1="0" x2="1" y2="0"><stop offset="0.000" stop-color="#ffffff"/><stop offset="0.025" stop-color="#fafae5"/><stop offset="0.050" stop-color="#f5f5cc"/><stop offset="0.075" stop-color="#f0f0b3"/><stop offset="0.100" stop-color="#ebeb99"/><stop offset="0.125" stop-color="#e6e680"/><stop offset="0.150" stop-color="#e6de6b"/><stop offset="0.175" stop-color="#e6d657"/><stop offset="0.200" stop-color="#e6cf42"/><stop offset="0.225" stop-color="#e6c72e"/><stop offset="0.250" stop-color="#e6bf1a"/><stop offset="0.275" stop-color="#e6b214"/><stop offset="0.300" stop-color="#e6a60f"/><stop offset="0.325" stop-color="#e6990a"/><stop offset="0.350" stop-color="#e68c05"/><stop offset="0.375" stop-color="#e68000"/><stop offset="0.400" stop-color="#eb7308"/><stop offset="0.425" stop-color="#f0660f"/><stop offset="0.450" stop-color="#f55917"/><stop offset="0.475" stop-color="#fa4d1f"/><stop offset="0.500" stop-color="#ff4026"/><stop offset="0.525" stop-color="#eb3d38"/><stop offset="0.550" stop-color="#d63b4a"/><stop offset="0.575" stop-color="#c2385c"/><stop offset="0.600" stop-color="#ad366e"/><stop offset="0.625" stop-color="#993380"/><stop offset="0.650" stop-color="#8a308c"/><stop offset="0.675" stop-color="#7a2e99"/><stop offset="0.700" stop-color="#6b2ba6"/><stop offset="0.725" stop-color="#5c29b2"/><stop offset="0.750" stop-color="#4c26bf"/><stop offset="0.775" stop-color="#4526b2"/><stop offset="0.800" stop-color="#3d26a6"/><stop offset="0.825" stop-color="#362699"/><stop offset="0.850" stop-color="#2e268c"/><stop offset="0.875" stop-color="#262680"/><stop offset="0.900" stop-color="#1f1f66"/><stop offset="0.925" stop-color="#17174c"/><stop offset="0.950" stop-color="#0f0f33"/><stop offset="0.975" stop-color="#08081a"/><stop offset="1.000" stop-color="#000000"/></linearGradient></defs>
<rect x="524.1" y="139.0" width="122.4" height="5.8" fill="#fff" stroke="#222" stroke-width="0.6"/>
<rect x="524.1" y="139.0" width="117.0" height="5.8" fill="url(#cb)" stroke="#222" stroke-width="0.6"/>
<rect x="518.4" y="19.4" width="129.1" height="126" fill="none" stroke="#8a8a8a" stroke-width="0.9"/>
<line x1="518.4" y1="17.5" x2="518.4" y2="19.5" stroke="#333" stroke-width="0.8"/>
<text x="518.4" y="15.8" font-size="8.8" text-anchor="middle" fill="#222">-12</text>
<line x1="550.5" y1="17.5" x2="550.5" y2="19.5" stroke="#333" stroke-width="0.8"/>
<text x="550.5" y="15.8" font-size="8.8" text-anchor="middle" fill="#222">-6</text>
<line x1="582.5" y1="17.5" x2="582.5" y2="19.5" stroke="#333" stroke-width="0.8"/>
<text x="582.5" y="15.8" font-size="8.8" text-anchor="middle" fill="#222">0</text>
<line x1="614.6" y1="17.5" x2="614.6" y2="19.5" stroke="#333" stroke-width="0.8"/>
<text x="614.6" y="15.8" font-size="8.8" text-anchor="middle" fill="#222">6</text>
<line x1="646.7" y1="17.5" x2="646.7" y2="19.5" stroke="#333" stroke-width="0.8"/>
<text x="646.7" y="15.8" font-size="8.8" text-anchor="middle" fill="#222">12</text>
<text x="583" y="7.8" font-size="8.8" text-anchor="middle" fill="#222" textLength="28.4" lengthAdjust="spacingAndGlyphs">x [µm]</text>
<line x1="516.4" y1="19.5" x2="518.4" y2="19.5" stroke="#333" stroke-width="0.8"/>
<text x="515.8" y="23.7" font-size="8.8" text-anchor="end" fill="#222">12</text>
<line x1="516.4" y1="51.1" x2="518.4" y2="51.1" stroke="#333" stroke-width="0.8"/>
<text x="515.8" y="55.3" font-size="8.8" text-anchor="end" fill="#222">6</text>
<line x1="516.4" y1="82.7" x2="518.4" y2="82.7" stroke="#333" stroke-width="0.8"/>
<text x="515.8" y="86.9" font-size="8.8" text-anchor="end" fill="#222">0</text>
<line x1="516.4" y1="114.2" x2="518.4" y2="114.2" stroke="#333" stroke-width="0.8"/>
<text x="515.8" y="118.4" font-size="8.8" text-anchor="end" fill="#222">-6</text>
<line x1="516.4" y1="145.8" x2="518.4" y2="145.8" stroke="#333" stroke-width="0.8"/>
<text x="515.8" y="150" font-size="8.8" text-anchor="end" fill="#222">-12</text>
<text transform="translate(504.9 85) rotate(-90)" font-size="8.8" text-anchor="middle" fill="#222" textLength="27.6" lengthAdjust="spacingAndGlyphs">y [µm]</text>
<line x1="647.5" y1="20.4" x2="649.6" y2="20.4" stroke="#333" stroke-width="0.8"/>
<text x="650.2" y="24.6" font-size="8.8" fill="#222">10<tspan dy="-3.6" font-size="6.3">0</tspan></text>
<line x1="647.5" y1="60.5" x2="649.6" y2="60.5" stroke="#333" stroke-width="0.8"/>
<text x="650.2" y="64.7" font-size="8.8" fill="#222">10<tspan dy="-3.6" font-size="6.3">−1</tspan></text>
<line x1="647.5" y1="100.6" x2="649.6" y2="100.6" stroke="#333" stroke-width="0.8"/>
<text x="650.2" y="104.8" font-size="8.8" fill="#222">10<tspan dy="-3.6" font-size="6.3">−2</tspan></text>
<line x1="647.5" y1="140.7" x2="649.6" y2="140.7" stroke="#333" stroke-width="0.8"/>
<text x="650.2" y="144.9" font-size="8.8" fill="#222">10<tspan dy="-3.6" font-size="6.3">−3</tspan></text>
<text transform="translate(675.9 81.1) rotate(-90)" font-size="8.8" text-anchor="middle" fill="#222" textLength="96" lengthAdjust="spacingAndGlyphs">norm. intensity [arb.u.]</text>
<line x1="532.7" y1="145.1" x2="532.7" y2="146.8" stroke="#333" stroke-width="0.8"/>
<text x="524.1" y="153.6" font-size="8.8" fill="#222">10<tspan dy="-3.8" font-size="6.3">19</tspan></text>
<line x1="571.9" y1="145.1" x2="571.9" y2="146.8" stroke="#333" stroke-width="0.8"/>
<text x="563.3" y="153.6" font-size="8.8" fill="#222">10<tspan dy="-3.8" font-size="6.3">20</tspan></text>
<line x1="611.7" y1="145.1" x2="611.7" y2="146.8" stroke="#333" stroke-width="0.8"/>
<text x="603.1" y="153.6" font-size="8.8" fill="#222">10<tspan dy="-3.8" font-size="6.3">21</tspan></text>
<text x="534.8" y="164.4" font-size="8.8" fill="#222" textLength="97.5" lengthAdjust="spacingAndGlyphs">abs. intensity [W/cm<tspan dy="-3.6" font-size="6.3">2</tspan><tspan dy="3.6">]</tspan></text>
<text x="666.3" y="13.9" font-size="18.72" fill="#111" textLength="18.45" lengthAdjust="spacingAndGlyphs">b)</text>
<clipPath id="cc"><rect x="58.6" y="175.3" width="283.9" height="181.4"/></clipPath>
<line x1="58.6" y1="179.1" x2="342.5" y2="179.1" stroke="#d0d0d0" stroke-width="0.8" stroke-dasharray="2.2 1.6"/>
<line x1="58.6" y1="215.9" x2="342.5" y2="215.9" stroke="#d0d0d0" stroke-width="0.8" stroke-dasharray="2.2 1.6"/>
<line x1="58.6" y1="252.8" x2="342.5" y2="252.8" stroke="#d0d0d0" stroke-width="0.8" stroke-dasharray="2.2 1.6"/>
<line x1="58.6" y1="289.6" x2="342.5" y2="289.6" stroke="#d0d0d0" stroke-width="0.8" stroke-dasharray="2.2 1.6"/>
<line x1="58.6" y1="326.5" x2="342.5" y2="326.5" stroke="#d0d0d0" stroke-width="0.8" stroke-dasharray="2.2 1.6"/>
<g clip-path="url(#cc)">
<path d="M58.6 343.8L58.7 337.6L58.8 341.3L58.9 348.5L59 346.6L59.1 345L59.2 348.3L59.3 341.8L59.4 340.1L59.5 360.3L59.6 336.4L59.7 348.1L59.8 342L59.9 340.5L60 349.2L60.1 347L60.2 344.2L60.3 347L60.4 344.2L60.5 342.8L60.6 348.8L60.7 359.5L60.8 342.6L60.9 348.5L61 351.2L61.1 347L61.2 347.9L61.3 345.4L61.4 360.6L61.5 341.1L61.6 343L61.7 343.1L61.8 345.1L61.9 339.7L62 337.4L62.2 346.7L62.3 333.8L62.4 339.5L62.5 346.2L62.6 350.7L62.7 335.7L62.8 337.9L62.9 340.5L63 349.6L63.1 342.4L63.2 346.8L63.3 358.1L63.4 342.8L63.5 339.3L63.6 346.4L63.7 343.2L63.8 338.9L63.9 346.1L64 344L64.1 337.2L64.2 351.8L64.3 340.8L64.4 341.1L64.5 352.8L64.6 342.2L64.7 349.4L64.8 340.3L64.9 353.3L65 348.8L65.1 337.7L65.2 344.4L65.3 342.7L65.4 343.7L65.5 341.4L65.6 342.4L65.7 342.5L65.8 343.8L65.9 345.5L66 341L66.1 339.3L66.2 340.2L66.3 360.8L66.4 343.6L66.5 342L66.6 345.3L66.7 351.1L66.8 336.6L66.9 352.1L67 344.3L67.1 339.8L67.2 362L67.3 342.5L67.4 349.6L67.5 339.5L67.6 342.5L67.7 339.1L67.8 350.1L67.9 346L68 337.6L68.1 335.2L68.2 345.6L68.3 343L68.4 340.1L68.5 340.7L68.6 339.1L68.7 345L68.8 341.7L68.9 340.4L69 344.3L69.1 342.4L69.3 357.1L69.4 340.2L69.5 341.5L69.6 342.2L69.7 354.1L69.8 339.5L69.9 341.2L70 338.4L70.1 347.3L70.2 346.3L70.3 351.9L70.4 342.6L70.5 340.8L70.6 341L70.7 342.4L70.8 337L70.9 346.9L71 343.2L71.1 342.2L71.2 340.8L71.3 340.5L71.4 347L71.5 342.6L71.6 348.8L71.7 337.7L71.8 350.1L71.9 355.7L72 340.1L72.1 345.4L72.2 339.9L72.3 343.2L72.4 344L72.5 336L72.6 342.4L72.7 344.7L72.8 348.2L72.9 347.8L73 344.9L73.1 347.4L73.2 348.1L73.3 342.5L73.4 344.1L73.5 341L73.6 355.2L73.7 343L73.8 340.4L73.9 344L74 341.1L74.1 345.3L74.2 348.4L74.3 339.3L74.4 338.3L74.5 338.3L74.6 339.7L74.7 347.4L74.8 340.7L74.9 338.2L75 339.3L75.1 339.5L75.2 338.1L75.3 346.7L75.4 361.3L75.5 349.8L75.6 344.1L75.7 348.9L75.8 345L75.9 339.2L76 344.7L76.1 343.9L76.2 342.8L76.4 340.7L76.5 348.9L76.6 342.7L76.7 343.1L76.8 341.5L76.9 342.6L77 338L77.1 351.7L77.2 340.8L77.3 347.4L77.4 344.5L77.5 344.5L77.6 343.5L77.7 341.9L77.8 342.3L77.9 351L78 346.8L78.1 338.9L78.2 341.8L78.3 346.8L78.4 341.9L78.5 358.4L78.6 333.7L78.7 356.2L78.8 344.5L78.9 345.3L79 353.4L79.1 343.1L79.2 339.6L79.3 342.1L79.4 338.7L79.5 337.3L79.6 345.5L79.7 341.2L79.8 344.2L79.9 344.8L80 345.9L80.1 341.2L80.2 343.8L80.3 342.3L80.4 338.3L80.5 336.2L80.6 341.6L80.7 348.2L80.8 337.7L80.9 345.6L81 343.3L81.1 343.7L81.2 347.1L81.3 335.9L81.4 349.2L81.5 346.7L81.6 355.5L81.7 357.2L81.8 350.9L81.9 345.6L82 340.8L82.1 343.6L82.2 342.3L82.3 346.6L82.4 354.5L82.5 343.6L82.6 342L82.7 349L82.8 343.6L82.9 340.4L83 347.4L83.1 359.9L83.2 344.7L83.3 343.8L83.5 342.2L83.6 344.8L83.7 337.3L83.8 345.8L83.9 340.5L84 338.7L84.1 343.4L84.2 342.5L84.3 344.8L84.4 339L84.5 340.1L84.6 344.6L84.7 347.5L84.8 340.2L84.9 336.8L85 343.3L85.1 346.2L85.2 339.9L85.3 351.3L85.4 344.1L85.5 344.2L85.6 349.6L85.7 339.7L85.8 341.9L85.9 352.6L86 342.8L86.1 346.6L86.2 349.3L86.3 342L86.4 341.3L86.5 336.9L86.6 343.2L86.7 343.6L86.8 345.1L86.9 343.1L87 341.3L87.1 342.2L87.2 340.8L87.3 342.1L87.4 351.6L87.5 346.2L87.6 339.6L87.7 341.9L87.8 342.1L87.9 342.5L88 345.5L88.1 337.4L88.2 342.9L88.3 342.3L88.4 362L88.5 340.9L88.6 343.9L88.7 361.6L88.8 337.2L88.9 344.9L89 342L89.1 350.4L89.2 341.5L89.3 337.6L89.4 354.1L89.5 339.1L89.6 343.6L89.7 338.8L89.8 355.3L89.9 348.8L90 339.7L90.1 347.9L90.2 342.6L90.3 343.8L90.4 342L90.6 342.2L90.7 348.2L90.8 350L90.9 344.2L91 338.8L91.1 342L91.2 336.9L91.3 346.8L91.4 344L91.5 333.4L91.6 337.1L91.7 340.7L91.8 338L91.9 344L92 337.7L92.1 347.9L92.2 340.7L92.3 339.1L92.4 339.8L92.5 340.2L92.6 344.1L92.7 338.7L92.8 334.1L92.9 339.5L93 341.7L93.1 338.2L93.2 339.5L93.3 342.3L93.4 347.5L93.5 344.4L93.6 345L93.7 348.3L93.8 339.3L93.9 340.9L94 342.8L94.1 341.4L94.2 340L94.3 339.8L94.4 347.8L94.5 342.5L94.6 339L94.7 336.9L94.8 341L94.9 341.9L95 349.3L95.1 350.8L95.2 334.3L95.3 344.7L95.4 342.2L95.5 341.3L95.6 343.2L95.7 362L95.8 341.7L95.9 347L96 343L96.1 345.6L96.2 345.5L96.3 342.2L96.4 342.9L96.5 343.6L96.6 343.2L96.7 347.2L96.8 344.8L96.9 339.2L97 346.4L97.1 338.5L97.2 343.5L97.3 344L97.4 348.5L97.5 341.6L97.7 342.3L97.8 340.9L97.9 349.6L98 344.1L98.1 342.7L98.2 338.7L98.3 350.3L98.4 341.7L98.5 350.8L98.6 347.5L98.7 345.5L98.8 342.3L98.9 335.2L99 339.9L99.1 338.5L99.2 342.5L99.3 344.9L99.4 338.1L99.5 342.1L99.6 345.5L99.7 342.6L99.8 346L99.9 343L100 346.6L100.1 343.7L100.2 340L100.3 341.9L100.4 338.6L100.5 342.5L100.6 340.2L100.7 339.2L100.8 342.4L100.9 342L101 346.3L101.1 350.7L101.2 341.5L101.3 357L101.4 339.2L101.5 354.4L101.6 351.9L101.7 342.9L101.8 343.8L101.9 362L102 334.2L102.1 339.1L102.2 354.9L102.3 338.5L102.4 349.8L102.5 346L102.6 342.6L102.7 352.2L102.8 340.3L102.9 340.2L103 346.8L103.1 342L103.2 362L103.3 342.2L103.4 341.8L103.5 358.8L103.6 351.8L103.7 344.9L103.8 338.2L103.9 333.1L104 346.2L104.1 347.6L104.2 339.9L104.3 343.1L104.4 345.2L104.5 340.2L104.6 339.7L104.8 340L104.9 341L105 336.2L105.1 349.5L105.2 340.8L105.3 347.8L105.4 335.1L105.5 343.1L105.6 336.2L105.7 342.4L105.8 341.8L105.9 342.6L106 336L106.1 344.6L106.2 341.1L106.3 342.3L106.4 362L106.5 335.2L106.6 335.9L106.7 341.4L106.8 342.1L106.9 342.3L107 362L107.1 346.9L107.2 341.4L107.3 350.7L107.4 343L107.5 341.9L107.6 347.6L107.7 342.3L107.8 352.1L107.9 342L108 349.4L108.1 343.1L108.2 351.6L108.3 336.2L108.4 343.2L108.5 344.6L108.6 335.1L108.7 338.7L108.8 342.7L108.9 349.8L109 337.4L109.1 336.4L109.2 343.4L109.3 342.3L109.4 346.2L109.5 355.3L109.6 346L109.7 342.4L109.8 341.5L109.9 346.2L110 339.4L110.1 340L110.2 341.6L110.3 340.1L110.4 342.2L110.5 344.1L110.6 338.3L110.7 347L110.8 339.7L110.9 349.1L111 342.4L111.1 347L111.2 339.3L111.3 353L111.4 343L111.5 347.3L111.6 338.7L111.7 339.8L111.9 358.6L112 340.3L112.1 344.1L112.2 346.6L112.3 341.4L112.4 341.9L112.5 342.5L112.6 338.9L112.7 345.6L112.8 348.8L112.9 347.8L113 337.1L113.1 343.9L113.2 338.6L113.3 335.2L113.4 350.3L113.5 343.9L113.6 338.1L113.7 351L113.8 344.4L113.9 340.2L114 336.4L114.1 337.7L114.2 338L114.3 343.9L114.4 340.4L114.5 344.8L114.6 340.5L114.7 340.9L114.8 341.1L114.9 343.9L115 344.9L115.1 348.6L115.2 345.8L115.3 337.9L115.4 340.8L115.5 362L115.6 347.5L115.7 340.7L115.8 352L115.9 357.2L116 354L116.1 346.6L116.2 341L116.3 346.3L116.4 341.9L116.5 341.9L116.6 340.6L116.7 339.9L116.8 341.4L116.9 348.7L117 344.4L117.1 349.2L117.2 341.7L117.3 352.4L117.4 338.4L117.5 341L117.6 346.8L117.7 345L117.8 335.4L117.9 346L118 340.1L118.1 355.9L118.2 343.6L118.3 362L118.4 338.4L118.5 354.6L118.6 342.7L118.7 338.8L118.8 338.8L119 345.3L119.1 340.9L119.2 339.1L119.3 343L119.4 340L119.5 336.5L119.6 350.1L119.7 335L119.8 343.6L119.9 350.2L120 334.7L120.1 341L120.2 344.6L120.3 337.5L120.4 339.6L120.5 346L120.6 338L120.7 344.1L120.8 342.1L120.9 334.8L121 339.4L121.1 345.9L121.2 356.7L121.3 362L121.4 336.6L121.5 348.6L121.6 345.9L121.7 344.9L121.8 342.1L121.9 349.6L122 340.5L122.1 343.6L122.2 342.9L122.3 348.1L122.4 342.2L122.5 355.7L122.6 342.6L122.7 340.8L122.8 342.5L122.9 342.3L123 337.9L123.1 341.1L123.2 344.9L123.3 340.6L123.4 345.8L123.5 343.4L123.6 339.6L123.7 342.6L123.8 334.7L123.9 344.8L124 340.4L124.1 340.6L124.2 350.9L124.3 359.5L124.4 348.6L124.5 343.2L124.6 337.8L124.7 343.9L124.8 342.2L124.9 344.5L125 344.2L125.1 345.7L125.2 341.3L125.3 340.7L125.4 346L125.5 338.9L125.6 353L125.7 338L125.8 335L125.9 346.9L126.1 345L126.2 343L126.3 347.4L126.4 340.6L126.5 354.6L126.6 343.5L126.7 338.7L126.8 342.4L126.9 342.8L127 340.7L127.1 359.2L127.2 342.3L127.3 345L127.4 341.5L127.5 351.2L127.6 340.2L127.7 345.7L127.8 345.2L127.9 337.5L128 340L128.1 343.8L128.2 343.6L128.3 340.9L128.4 344.4L128.5 346.4L128.6 339.5L128.7 343.9L128.8 346.7L128.9 338.5L129 343.1L129.1 340.9L129.2 342.2L129.3 341.3L129.4 336L129.5 335.5L129.6 338.2L129.7 346L129.8 337.1L129.9 341.3L130 344L130.1 340.1L130.2 348.9L130.3 344.1L130.4 342.1L130.5 338.5L130.6 343.6L130.7 343.3L130.8 343.9L130.9 336.8L131 346.4L131.1 346.8L131.2 342.7L131.3 341L131.4 337.1L131.5 337L131.6 342.4L131.7 348.8L131.8 343.3L131.9 336.8L132 341.7L132.1 342.9L132.2 342.2L132.3 338.4L132.4 348.4L132.5 337.4L132.6 343L132.7 348L132.8 341.6L132.9 334.3L133 337.4L133.2 353.9L133.3 340.6L133.4 347L133.5 343.4L133.6 340.8L133.7 353.1L133.8 341.9L133.9 344.3L134 343.7L134.1 342.4L134.2 348.9L134.3 341.3L134.4 339.9L134.5 344L134.6 345.1L134.7 343.8L134.8 339.9L134.9 340.2L135 338.8L135.1 347.2L135.2 343.7L135.3 341.8L135.4 351.8L135.5 335.5L135.6 349L135.7 342.8L135.8 343.3L135.9 343.2L136 343.1L136.1 345L136.2 361.9L136.3 342.7L136.4 339.8L136.5 346.9L136.6 343.6L136.7 352L136.8 346.3L136.9 339L137 339.1L137.1 332.3L137.2 344.8L137.3 349.4L137.4 351.2L137.5 347.3L137.6 347.3L137.7 356.2L137.8 341.2L137.9 344.8L138 353.4L138.1 340.1L138.2 342.5L138.3 355.8L138.4 338.3L138.5 339.6L138.6 344.8L138.7 353.2L138.8 349.3L138.9 335.6L139 344.5L139.1 340.2L139.2 337.4L139.3 339L139.4 350.3L139.5 342.7L139.6 354.6L139.7 334.4L139.8 336.6L139.9 337L140 339.4L140.1 336.1L140.3 345.3L140.4 341.1L140.5 350.9L140.6 349.8L140.7 345.1L140.8 343.7L140.9 335.1L141 338.5L141.1 335.8L141.2 348.5L141.3 340L141.4 343.3L141.5 339.8L141.6 347L141.7 343.8L141.8 344.7L141.9 332.4L142 338.5L142.1 344.4L142.2 340.8L142.3 338.2L142.4 338.9L142.5 345.4L142.6 339L142.7 344.9L142.8 345.6L142.9 343.4L143 348.2L143.1 339.7L143.2 337.2L143.3 340.6L143.4 342.3L143.5 338.9L143.6 346.4L143.7 342.5L143.8 337.2L143.9 343L144 340.9L144.1 339.4L144.2 337.1L144.3 345.1L144.4 341.4L144.5 342.2L144.6 349.8L144.7 341.2L144.8 348.4L144.9 354.5L145 339.9L145.1 349.4L145.2 344.9L145.3 337.2L145.4 344.5L145.5 339.9L145.6 353L145.7 343.9L145.8 339.4L145.9 338.4L146 342L146.1 337.6L146.2 338.3L146.3 340.5L146.4 336.5L146.5 339.9L146.6 340.4L146.7 345.5L146.8 343.4L146.9 340.6L147 336.4L147.1 348.3L147.2 337.2L147.4 340.1L147.5 335.5L147.6 337.2L147.7 341.4L147.8 338.7L147.9 357.4L148 343.7L148.1 349.9L148.2 339.4L148.3 344.8L148.4 348.6L148.5 339.8L148.6 338.1L148.7 340.4L148.8 337.5L148.9 339.1L149 342.4L149.1 349L149.2 345.5L149.3 340.4L149.4 342.3L149.5 340.1L149.6 351L149.7 336.5L149.8 338.5L149.9 344.5L150 343.9L150.1 335.2L150.2 339.7L150.3 345.9L150.4 340.2L150.5 350.7L150.6 337.3L150.7 343.7L150.8 336.5L150.9 341.1L151 343.1L151.1 335.7L151.2 349.3L151.3 339.9L151.4 361.2L151.5 337.5L151.6 348.8L151.7 342.5L151.8 342.4L151.9 345.8L152 350.3L152.1 343.5L152.2 338.4L152.3 356.5L152.4 347L152.5 342.9L152.6 342L152.7 351.2L152.8 341.8L152.9 336L153 335L153.1 337L153.2 350.4L153.3 337.2L153.4 341L153.5 349.9L153.6 339.4L153.7 341.7L153.8 343.8L153.9 333.7L154 338.5L154.1 339.6L154.2 341.8L154.3 338.1L154.5 349.3L154.6 342.3L154.7 336.1L154.8 342.7L154.9 341.1L155 339.5L155.1 337.6L155.2 336.2L155.3 337.1L155.4 341.5L155.5 341.2L155.6 337.5L155.7 339.4L155.8 340.9L155.9 338.8L156 345.6L156.1 344.1L156.2 342.3L156.3 337L156.4 358L156.5 343.2L156.6 343.2L156.7 349.1L156.8 353.1L156.9 337.6L157 340.1L157.1 338.8L157.2 339.9L157.3 342.5L157.4 339.6L157.5 352L157.6 343L157.7 345.8L157.8 337.9L157.9 341.3L158 343.8L158.1 350L158.2 348.5L158.3 339.2L158.4 339.1L158.5 339L158.6 347.5L158.7 342.2L158.8 344.2L158.9 340.7L159 337.8L159.1 341.4L159.2 342.9L159.3 346.4L159.4 342.1L159.5 338.6L159.6 337.7L159.7 341.6L159.8 337.2L159.9 340.4L160 339L160.1 341.8L160.2 338.4L160.3 344.6L160.4 337.5L160.5 343.6L160.6 345.7L160.7 340L160.8 351.3L160.9 342L161 339.9L161.1 341.8L161.2 342L161.3 358.9L161.4 349.9L161.6 337.7L161.7 343.3L161.8 341.6L161.9 339.1L162 343.9L162.1 342L162.2 341.3L162.3 333.8L162.4 346.2L162.5 352.5L162.6 339.9L162.7 342.7L162.8 344.1L162.9 339.6L163 343.5L163.1 349.2L163.2 338.6L163.3 340.8L163.4 339.2L163.5 342.2L163.6 352.9L163.7 351.3L163.8 343L163.9 335.6L164 337.9L164.1 348.7L164.2 337L164.3 342.4L164.4 341.1L164.5 344.5L164.6 338.8L164.7 337.6L164.8 339.2L164.9 338.7L165 342.9L165.1 339.5L165.2 340.9L165.3 344.1L165.4 341.9L165.5 345L165.6 338.8L165.7 338.6L165.8 340.9L165.9 341.1L166 339L166.1 342.6L166.2 358L166.3 339.8L166.4 362L166.5 343L166.6 340.5L166.7 338.8L166.8 333.9L166.9 340.7L167 338L167.1 341.3L167.2 343.2L167.3 348.5L167.4 342.4L167.5 341.7L167.6 345.6L167.7 343.7L167.8 336.1L167.9 344.4L168 346.6L168.1 341.2L168.2 340.4L168.3 334.7L168.4 334.7L168.5 343.9L168.7 339.2L168.8 340.3L168.9 340.7L169 348.5L169.1 343.7L169.2 339.4L169.3 345.4L169.4 344L169.5 339.5L169.6 334.6L169.7 334.2L169.8 341.6L169.9 345L170 343.5L170.1 335.6L170.2 338.6L170.3 339.3L170.4 338.9L170.5 341.1L170.6 346.3L170.7 339.1L170.8 346.4L170.9 340.1L171 343.5L171.1 339.3L171.2 334.4L171.3 339.8L171.4 344.3L171.5 339.8L171.6 338.8L171.7 338.7L171.8 340.1L171.9 345.4L172 346L172.1 338.7L172.2 342L172.3 337.4L172.4 342.4L172.5 350.1L172.6 343.6L172.7 340.3L172.8 337.5L172.9 339.3L173 338.7L173.1 342.1L173.2 338.9L173.3 338.1L173.4 340.7L173.5 334.8L173.6 336.6L173.7 332.7L173.8 336.8L173.9 353.1L174 337L174.1 339.9L174.2 338.8L174.3 343.8L174.4 341.4L174.5 344.4L174.6 341L174.7 342.2L174.8 344.4L174.9 347.5L175 338.8L175.1 345.8L175.2 338L175.3 358.5L175.4 341.5L175.5 341.7L175.6 344.6L175.8 337.9L175.9 338.8L176 338.1L176.1 348L176.2 336L176.3 354.8L176.4 343.5L176.5 339.5L176.6 344.8L176.7 341.3L176.8 340.7L176.9 345.5L177 342.3L177.1 345.4L177.2 344.5L177.3 338.1L177.4 343L177.5 337.7L177.6 344.4L177.7 340.8L177.8 343L177.9 335.8L178 339.8L178.1 338.3L178.2 340.7L178.3 337.9L178.4 341.6L178.5 337L178.6 343.7L178.7 352.3L178.8 344.1L178.9 342.2L179 340.3L179.1 337.2L179.2 342.3L179.3 339.6L179.4 341.5L179.5 343.4L179.6 335.8L179.7 357L179.8 337.4L179.9 353.1L180 339.3L180.1 347.6L180.2 345.3L180.3 348.6L180.4 347.5L180.5 341.4L180.6 346.7L180.7 336.6L180.8 344.3L180.9 347.2L181 344.2L181.1 345.3L181.2 341.5L181.3 343.1L181.4 337L181.5 359.1L181.6 338.8L181.7 351.2L181.8 340.3L181.9 342.3L182 342L182.1 341L182.2 340.1L182.3 340.3L182.4 340.9L182.5 339.4L182.6 338.1L182.7 341.1L182.9 347.8L183 342.3L183.1 347.1L183.2 344.2L183.3 348.5L183.4 337.6L183.5 344.1L183.6 343.7L183.7 340.6L183.8 337.1L183.9 334.7L184 340.3L184.1 342L184.2 341L184.3 335.8L184.4 348.3L184.5 343.4L184.6 335.3L184.7 341.9L184.8 347.1L184.9 341.2L185 338.7L185.1 346.9L185.2 340.6L185.3 339.1L185.4 340.3L185.5 342.2L185.6 351.4L185.7 346.6L185.8 337.9L185.9 338.3L186 341.1L186.1 342.2L186.2 337.3L186.3 336.6L186.4 335L186.5 341L186.6 339.7L186.7 339.7L186.8 347L186.9 345.1L187 338.9L187.1 346.6L187.2 344.4L187.3 343.7L187.4 341.3L187.5 342.7L187.6 341L187.7 339.1L187.8 336.9L187.9 338.5L188 345.9L188.1 339.3L188.2 345.2L188.3 342.8L188.4 355.4L188.5 344L188.6 347.7L188.7 337.1L188.8 345.9L188.9 337.9L189 339.7L189.1 339.5L189.2 345.8L189.3 336.8L189.4 343.2L189.5 343.9L189.6 346.6L189.7 342.3L189.8 349.2L190 340L190.1 340.5L190.2 340.9L190.3 342.3L190.4 346.8L190.5 344.5L190.6 342.3L190.7 333.3L190.8 345.1L190.9 351.7L191 336.3L191.1 336.4L191.2 340.7L191.3 332.8L191.4 338.7L191.5 343.5L191.6 346.9L191.7 341.8L191.8 338.3L191.9 341L192 342.7L192.1 339.5L192.2 340.1L192.3 345.1L192.4 346.7L192.5 341.4L192.6 340.9L192.7 349.6L192.8 337.1L192.9 340.3L193 340L193.1 345.7L193.2 353.4L193.3 342.6L193.4 339.7L193.5 343.7L193.6 338.8L193.7 344.2L193.8 342.3L193.9 342.6L194 345.7L194.1 337.3L194.2 355.3L194.3 336.1L194.4 341.8L194.5 339L194.6 357.5L194.7 340L194.8 336.2L194.9 337.3L195 341L195.1 346L195.2 338.6L195.3 343.5L195.4 337.9L195.5 335.2L195.6 343.4L195.7 340.2L195.8 341.5L195.9 353.3L196 345.1L196.1 344.2L196.2 335.2L196.3 343.1L196.4 331.6L196.5 339L196.6 356.7L196.7 329.9L196.8 345.8L196.9 341L197.1 336.3L197.2 345.6L197.3 346.8L197.4 334.2L197.5 338.6L197.6 349.2L197.7 346.8L197.8 340.7L197.9 334.8L198 342.6L198.1 339.8L198.2 333.8L198.3 336.8L198.4 336.2L198.5 336.2L198.6 362L198.7 337.9L198.8 336.6L198.9 341.3L199 347L199.1 362L199.2 345.6L199.3 333.7L199.4 349.6L199.5 343.8L199.6 337.6L199.7 338.5L199.8 340.5L199.9 344.8L200 334.6L200.1 339.3L200.2 336.5L200.3 346.6L200.4 338.4L200.5 340.2L200.6 337.6L200.7 342.3L200.8 343.7L200.9 345.1L201 343.1L201.1 345.4L201.2 338.4L201.3 345.6L201.4 339.3L201.5 336L201.6 341.7L201.7 343.2L201.8 355.9L201.9 339.1L202 340.3L202.1 352L202.2 352.4L202.3 337.1L202.4 348.1L202.5 339.3L202.6 342.1L202.7 337.2L202.8 340.3L202.9 337.5L203 338.9L203.1 342.6L203.2 358.4L203.3 335.9L203.4 335.4L203.5 339.1L203.6 342.5L203.7 338.8L203.8 336.5L203.9 344L204 336.9L204.2 343.1L204.3 330.9L204.4 338.1L204.5 345.7L204.6 334.5L204.7 344L204.8 337.5L204.9 346.5L205 325.8L205.1 338.1L205.2 340.1L205.3 343.2L205.4 333.6L205.5 335L205.6 337L205.7 338.8L205.8 337.8L205.9 335.5L206 337.3L206.1 339.8L206.2 343L206.3 350.7L206.4 346.5L206.5 341.4L206.6 339.2L206.7 334.6L206.8 343L206.9 350.8L207 338L207.1 337.1L207.2 338.4L207.3 340.6L207.4 351.9L207.5 337.6L207.6 345.4L207.7 337.5L207.8 355.4L207.9 339.7L208 342.6L208.1 337L208.2 334.4L208.3 333.2L208.4 345.1L208.5 342.9L208.6 342.1L208.7 339.5L208.8 339.2L208.9 338.8L209 335.9L209.1 335.1L209.2 332.3L209.3 339.3L209.4 340.5L209.5 344.2L209.6 352.1L209.7 353.6L209.8 340L209.9 345.1L210 342.4L210.1 336.7L210.2 339.9L210.3 337.4L210.4 340L210.5 339.4L210.6 342.6L210.7 337.3L210.8 338.5L210.9 340.5L211 341.4L211.1 337.3L211.3 341.7L211.4 337L211.5 338.2L211.6 338.2L211.7 337L211.8 345L211.9 339.9L212 347.6L212.1 344.2L212.2 345.5L212.3 341.5L212.4 339L212.5 344.4L212.6 334.1L212.7 342L212.8 338.2L212.9 342L213 341L213.1 334L213.2 336.3L213.3 337.9L213.4 336.7L213.5 339.5L213.6 349.9L213.7 343.6L213.8 341.5L213.9 337L214 342L214.1 342.1L214.2 340L214.3 339.4L214.4 355.5L214.5 353L214.6 340.1L214.7 352.1L214.8 346.7L214.9 346.1L215 345.6L215.1 337.6L215.2 347.5L215.3 344.5L215.4 347.1L215.5 350.5L215.6 340.3L215.7 336.9L215.8 344.9L215.9 338.7L216 342L216.1 338.5L216.2 334.7L216.3 338.2L216.4 338.7L216.5 336.1L216.6 340L216.7 348.6L216.8 334.3L216.9 341L217 339.6L217.1 333.5L217.2 337.8L217.3 346.9L217.4 338.5L217.5 352L217.6 340.7L217.7 360.4L217.8 341L217.9 342.4L218 340.2L218.1 341.2L218.2 336.4L218.4 335.2L218.5 346.3L218.6 345L218.7 339.3L218.8 339.9L218.9 336.4L219 348.8L219.1 340L219.2 352.7L219.3 340.5L219.4 348.1L219.5 336.2L219.6 357.4L219.7 337.4L219.8 336.5L219.9 349.7L220 344.5L220.1 334.5L220.2 335.1L220.3 353.7L220.4 345.7L220.5 351.7L220.6 345.9L220.7 345.9L220.8 339.7L220.9 337.4L221 338.6L221.1 339.8L221.2 334.8L221.3 335.8L221.4 348.1L221.5 333.6L221.6 346.3L221.7 340.1L221.8 334.6L221.9 335.1L222 337.3L222.1 339.2L222.2 338L222.3 340.3L222.4 337.7L222.5 342L222.6 339.5L222.7 338.7L222.8 339.2L222.9 346.3L223 342.2L223.1 345L223.2 347.6L223.3 333L223.4 340.8L223.5 342.1L223.6 342.9L223.7 339.1L223.8 343.2L223.9 336.5L224 336.1L224.1 338L224.2 344.3L224.3 337.3L224.4 347.5L224.5 343.3L224.6 336.7L224.7 344.1L224.8 362L224.9 335.5L225 336.4L225.1 343.5L225.2 334.9L225.3 340.8L225.5 333.7L225.6 340.9L225.7 341.2L225.8 350.3L225.9 340L226 338.8L226.1 339.3L226.2 338.8L226.3 343.4L226.4 339.1L226.5 341.7L226.6 352.2L226.7 334.9L226.8 346.9L226.9 338.1L227 341.3L227.1 342.6L227.2 337.7L227.3 346.9L227.4 355.4L227.5 338L227.6 339.7L227.7 339.5L227.8 340.2L227.9 343.9L228 350.6L228.1 336.7L228.2 339.1L228.3 343.1L228.4 350.9L228.5 343.4L228.6 343L228.7 345.5L228.8 342.6L228.9 347.6L229 344.1L229.1 338.2L229.2 339.2L229.3 342.2L229.4 338.8L229.5 341.3L229.6 343.5L229.7 346.4L229.8 332.1L229.9 345.2L230 358.7L230.1 343.6L230.2 334.2L230.3 349L230.4 337.1L230.5 343.5L230.6 362L230.7 337.2L230.8 326.7L230.9 346.4L231 354.5L231.1 334.7L231.2 333.9L231.3 336L231.4 337.3L231.5 340.3L231.6 338.3L231.7 334.9L231.8 336.2L231.9 339.1L232 337.4L232.1 340.1L232.2 337.9L232.3 350.3L232.4 343.4L232.6 342.6L232.7 347L232.8 342.1L232.9 340.2L233 340.6L233.1 341.3L233.2 337.9L233.3 337.6L233.4 337.7L233.5 339.7L233.6 346.1L233.7 339.8L233.8 341.6L233.9 342.8L234 340.8L234.1 344.7L234.2 337.9L234.3 335.3L234.4 347.9L234.5 335.3L234.6 335.5L234.7 340L234.8 338.6L234.9 338.3L235 338.5L235.1 335.7L235.2 349.6L235.3 338.4L235.4 341.6L235.5 347.9L235.6 342.3L235.7 340.2L235.8 338.5L235.9 362L236 340.5L236.1 337.3L236.2 332.5L236.3 352.2L236.4 339.4L236.5 348.3L236.6 338.6L236.7 340.2L236.8 339.1L236.9 343L237 349.7L237.1 362L237.2 339.4L237.3 339.6L237.4 340.2L237.5 334.5L237.6 343.5L237.7 322.8L237.8 349.9L237.9 338.2L238 336.2L238.1 341.6L238.2 340.2L238.3 335.8L238.4 334.1L238.5 341.8L238.6 340.2L238.7 336L238.8 358.5L238.9 338.4L239 340.5L239.1 343.6L239.2 340.5L239.3 336.6L239.4 344L239.5 338.6L239.7 338.6L239.8 344L239.9 352.3L240 334L240.1 334.7L240.2 335L240.3 348L240.4 339.9L240.5 337.1L240.6 334.7L240.7 341.4L240.8 337.5L240.9 339.6L241 333.1L241.1 345.1L241.2 339.4L241.3 335.5L241.4 344.4L241.5 352.7L241.6 339.6L241.7 336.2L241.8 334.6L241.9 340.2L242 340.4L242.1 340.9L242.2 341.8L242.3 341.3L242.4 346.5L242.5 361L242.6 342.4L242.7 337.9L242.8 334.3L242.9 339.7L243 349.8L243.1 339.2L243.2 333.3L243.3 343.7L243.4 343L243.5 352.9L243.6 335.4L243.7 340.6L243.8 334.4L243.9 336L244 340.4L244.1 336.1L244.2 344L244.3 341.9L244.4 337.9L244.5 349L244.6 342.6L244.7 342.1L244.8 338.2L244.9 338.8L245 353.6L245.1 344.5L245.2 334.9L245.3 349.1L245.4 343.2L245.5 339L245.6 350.3L245.7 343.2L245.8 339.2L245.9 347.9L246 337.8L246.1 338.4L246.2 351.4L246.3 338.9L246.4 339.9L246.5 342.1L246.6 337.9L246.8 337.5L246.9 337.6L247 334.7L247.1 337.1L247.2 345.8L247.3 338.1L247.4 337.9L247.5 332.8L247.6 341.2L247.7 340L247.8 338.5L247.9 335.5L248 338.9L248.1 335.4L248.2 339.2L248.3 334.8L248.4 343L248.5 335.5L248.6 339.3L248.7 339.7L248.8 336L248.9 339.5L249 338.9L249.1 335.8L249.2 350.3L249.3 341.8L249.4 341L249.5 341.3L249.6 343.4L249.7 338.7L249.8 334.4L249.9 337.4L250 337.2L250.1 333.4L250.2 338.2L250.3 353.5L250.4 342L250.5 337.2L250.6 332.7L250.7 346.3L250.8 337.9L250.9 340.7L251 340.5L251.1 337.4L251.2 336.9L251.3 335.1L251.4 339.1L251.5 337L251.6 340.6L251.7 337.9L251.8 341.8L251.9 338.9L252 338.9L252.1 338.7L252.2 349.9L252.3 361.5L252.4 339.4L252.5 338.9L252.6 334.9L252.7 333L252.8 334.7L252.9 346.9L253 345.1L253.1 339.3L253.2 337.7L253.3 338.6L253.4 354.2L253.5 347.1L253.6 349.4L253.7 335.9L253.9 337.8L254 331.9L254.1 331.2L254.2 353.2L254.3 338.9L254.4 342.2L254.5 334L254.6 360.3L254.7 334.3L254.8 340.7L254.9 341.1L255 335.3L255.1 341.7L255.2 335.3L255.3 340.9L255.4 333.4L255.5 335.1L255.6 341.8L255.7 344.4L255.8 340.6L255.9 340.8L256 333.7L256.1 335.7L256.2 343.2L256.3 337.5L256.4 338.8L256.5 341.2L256.6 331.8L256.7 295.1L256.8 336.8L256.9 332.9L257 340.7L257.1 339.4L257.2 362L257.3 335.3L257.4 330.8L257.5 339.9L257.6 340.5L257.7 337L257.8 337.9L257.9 346.3L258 338.7L258.1 338.1L258.2 342.3L258.3 335L258.4 340.4L258.5 362L258.6 339L258.7 340.6L258.8 359.5L258.9 334.7L259 338.4L259.1 335.3L259.2 342.8L259.3 342.6L259.4 341.1L259.5 341.9L259.6 338.2L259.7 338.4L259.8 340.7L259.9 340.6L260 336.3L260.1 342.3L260.2 336.2L260.3 337L260.4 338.5L260.5 335.7L260.6 344.2L260.7 338.3L260.8 341.2L261 344.4L261.1 337.3L261.2 336.5L261.3 337.3L261.4 338.3L261.5 343L261.6 336.2L261.7 351.9L261.8 334L261.9 337.3L262 334.7L262.1 347.9L262.2 348.6L262.3 335.5L262.4 338L262.5 353L262.6 350L262.7 335.6L262.8 340L262.9 335.2L263 336.1L263.1 341.4L263.2 335.6L263.3 336.3L263.4 342.8L263.5 340L263.6 338.9L263.7 345L263.8 339.4L263.9 337.3L264 340.7L264.1 341.2L264.2 337.9L264.3 338.2L264.4 333.8L264.5 345.4L264.6 339.9L264.7 332L264.8 342.8L264.9 339.7L265 340.6L265.1 342.2L265.2 336.1L265.3 331.9L265.4 339.9L265.5 341.3L265.6 337.5L265.7 339.6L265.8 339.5L265.9 343.5L266 336.7L266.1 340.2L266.2 334.1L266.3 341.2L266.4 343.3L266.5 341.1L266.6 335.4L266.7 347.8L266.8 340.3L266.9 339.9L267 342.4L267.1 337.6L267.2 338.7L267.3 332.4L267.4 345.4L267.5 362L267.6 337.7L267.7 345.3L267.8 339.9L267.9 338.9L268.1 343.1L268.2 334.9L268.3 347.4L268.4 340.1L268.5 340.4L268.6 334.2L268.7 338.7L268.8 351.5L268.9 337L269 343.3L269.1 332L269.2 336.2L269.3 344.2L269.4 341.1L269.5 339L269.6 336.5L269.7 343.9L269.8 346.6L269.9 337.1L270 343.7L270.1 356.1L270.2 333L270.3 341.2L270.4 335.5L270.5 346.9L270.6 342.5L270.7 338.3L270.8 352.3L270.9 338.3L271 340.4L271.1 342.5L271.2 352.1L271.3 330.2L271.4 337.4L271.5 335.1L271.6 341.2L271.7 344.5L271.8 339.6L271.9 339.9L272 343.9L272.1 338.3L272.2 344.4L272.3 334L272.4 345.5L272.5 334.5L272.6 340.1L272.7 362L272.8 336.4L272.9 335.9L273 339.1L273.1 340.1L273.2 339.6L273.3 334.1L273.4 335.1L273.5 336.8L273.6 339.2L273.7 338.8L273.8 335.6L273.9 340.6L274 338.5L274.1 332.1L274.2 332.9L274.3 334.5L274.4 337L274.5 341.5L274.6 335.9L274.7 293.3L274.8 340.9L274.9 341L275 336.7L275.2 347.6L275.3 340.2L275.4 337.4L275.5 341.1L275.6 342.5L275.7 344.4L275.8 336.3L275.9 334.9L276 335.2L276.1 336L276.2 349.7L276.3 337.5L276.4 295.1L276.5 341.8L276.6 353.3L276.7 333.9L276.8 334.5L276.9 337.3L277 337.7L277.1 332.7L277.2 340.3L277.3 347.6L277.4 334.9L277.5 337.5L277.6 343.6L277.7 335.3L277.8 344.5L277.9 340.1L278 334.2L278.1 341.4L278.2 334.1L278.3 337.2L278.4 342.8L278.5 344L278.6 335.4L278.7 335.4L278.8 340.8L278.9 337.5L279 334.6L279.1 339L279.2 295.8L279.3 344.5L279.4 338.3L279.5 347L279.6 340.5L279.7 336.7L279.8 356.3L279.9 336L280 362L280.1 337.7L280.2 333.3L280.3 330.9L280.4 343.6L280.5 341.8L280.6 347.1L280.7 337.2L280.8 338.5L280.9 334.3L281 333.6L281.1 335.1L281.2 337L281.3 335.5L281.4 355.2L281.5 334.1L281.6 339.4L281.7 329.8L281.8 343.3L281.9 338.4L282 342.4L282.1 336.3L282.3 334.3L282.4 334.4L282.5 343.8L282.6 334.6L282.7 337L282.8 333L282.9 336.3L283 338.9L283.1 334.4L283.2 334.3L283.3 339.3L283.4 341.1L283.5 333.8L283.6 344.5L283.7 339.9L283.8 337.1L283.9 341.2L284 335.8L284.1 362L284.2 336.3L284.3 332.4L284.4 329.4L284.5 331.7L284.6 340.9L284.7 333L284.8 333L284.9 336.4L285 330.6L285.1 335.2L285.2 335.2L285.3 300.7L285.4 348.6L285.5 331.5L285.6 340.8L285.7 333.1L285.8 338.7L285.9 331.7L286 329.1L286.1 328.2L286.2 320.5L286.3 330.2L286.4 330.6L286.5 329.9L286.6 312.9L286.7 325.3L286.8 318.5L286.9 331.1L287 309.2L287.1 317.1L287.2 316.4L287.3 314.9L287.4 311.5L287.5 296.1L287.6 300.8L287.7 299.1L287.8 311L287.9 315.7L288 318.6L288.1 305.4L288.2 297L288.3 295.1L288.4 309.5L288.5 288.6L288.6 299.1L288.7 282.7L288.8 294.9L288.9 291.4L289 298L289.1 296.9L289.2 289.5L289.4 283.8L289.5 281.8L289.6 294.4L289.7 298.7L289.8 282.6L289.9 274L290 289.8L290.1 288.5L290.2 288L290.3 280.1L290.4 273.7L290.5 290.6L290.6 277.4L290.7 268.8L290.8 274.8L290.9 286.9L291 292.7L291.1 278.4L291.2 266.2L291.3 270.2L291.4 265.2L291.5 279.9L291.6 275.4L291.7 282.9L291.8 269.8L291.9 276.2L292 281.1L292.1 276.9L292.2 267.5L292.3 264.1L292.4 264.5L292.5 259.6L292.6 263.9L292.7 279L292.8 260.1L292.9 277.5L293 279.4L293.1 262.2L293.2 273.8L293.3 267.9L293.4 272.1L293.5 268.7L293.6 282.3L293.7 257.6L293.8 254L293.9 267L294 252.7L294.1 255.7L294.2 252.1L294.3 250.5L294.4 271.9L294.5 251.8L294.6 259.3L294.7 249.6L294.8 257.1L294.9 239L295 234.8L295.1 179.1L295.2 217.9L295.3 242.7L295.4 246.2L295.5 243.6L295.6 262.8L295.7 268.1L295.8 245.8L295.9 254L296 262.4L296.1 265.5L296.2 273.3L296.3 262.6L296.5 276.4L296.6 259.6L296.7 258.7L296.8 267.9L296.9 252.8L297 255.6L297.1 261.2L297.2 270.1L297.3 269.5L297.4 272.4L297.5 281.7L297.6 264L297.7 257.6L297.8 278.5L297.9 261.5L298 267.2L298.1 264.1L298.2 258.7L298.3 257.1L298.4 272L298.5 259.1L298.6 270L298.7 283.8L298.8 254.5L298.9 266.4L299 269.9L299.1 255L299.2 263.1L299.3 272.7L299.4 265.7L299.5 264.8L299.6 269.9L299.7 285.6L299.8 267L299.9 277.3L300 278.5L300.1 268.6L300.2 257.1L300.3 280.5L300.4 266.8L300.5 283.6L300.6 285L300.7 273.7L300.8 262L300.9 268.2L301 268.4L301.1 259.9L301.2 266.9L301.3 277L301.4 280.6L301.5 274.9L301.6 269L301.7 275.5L301.8 274.9L301.9 278.1L302 280.6L302.1 284.4L302.2 280.9L302.3 261.5L302.4 264L302.5 261.9L302.6 273.3L302.7 275.7L302.8 267.2L302.9 278.5L303 264.6L303.1 274.2L303.2 268.2L303.3 283L303.4 263.8L303.6 274.3L303.7 270.2L303.8 283.5L303.9 283.2L304 270.6L304.1 292.5L304.2 266L304.3 283.2L304.4 269L304.5 284.2L304.6 278.7L304.7 277.7L304.8 270.2L304.9 286.8L305 274L305.1 276.6L305.2 272.3L305.3 287.5L305.4 279.9L305.5 286.9L305.6 283.8L305.7 270.6L305.8 269.7L305.9 289.5L306 282.6L306.1 282L306.2 290.3L306.3 285.3L306.4 291.8L306.5 276.9L306.6 291.1L306.7 270L306.8 299.9L306.9 277.6L307 277.5L307.1 289.4L307.2 299.3L307.3 282.1L307.4 295.3L307.5 274.1L307.6 283.4L307.7 284.7L307.8 283.8L307.9 278L308 285.4L308.1 280.3L308.2 282.2L308.3 290.6L308.4 275.8L308.5 273.8L308.6 276.2L308.7 285.5L308.8 280.5L308.9 296.8L309 294.8L309.1 295.5L309.2 293L309.3 280.1L309.4 295.6L309.5 294.1L309.6 302.3L309.7 295L309.8 304.2L309.9 280.9L310 290.7L310.1 280.9L310.2 277.2L310.3 285.6L310.4 287L310.5 289L310.7 294.4L310.8 307.6L310.9 289.2L311 297.5L311.1 300.4L311.2 296.8L311.3 291.9L311.4 285.5L311.5 301.1L311.6 303.8L311.7 282.6L311.8 287.6L311.9 285.5L312 295.5L312.1 306L312.2 281.3L312.3 255.2L312.4 299.3L312.5 290.2L312.6 284.2L312.7 281.9L312.8 283.5L312.9 289.6L313 296.9L313.1 299.3L313.2 295.8L313.3 301.5L313.4 289.8L313.5 294.5L313.6 298.1L313.7 305.4L313.8 295.3L313.9 299.6L314 293.1L314.1 305.5L314.2 290.9L314.3 298.3L314.4 285.2L314.5 304.5L314.6 285.5L314.7 285.7L314.8 298.2L314.9 286.1L315 287.7L315.1 270L315.2 303.5L315.3 289.2L315.4 295.8L315.5 290.7L315.6 294.9L315.7 287.4L315.8 301.4L315.9 309L316 305.6L316.1 299.9L316.2 308.1L316.3 300.3L316.4 302.1L316.5 303.3L316.6 301L316.7 304.3L316.8 291.9L316.9 300.2L317 294.2L317.1 314.6L317.2 301.4L317.3 306.1L317.4 319.8L317.5 290.5L317.6 314.4L317.8 236.8L317.9 295.8L318 292.2L318.1 307L318.2 321L318.3 297.5L318.4 304.4L318.5 297.6L318.6 305.2L318.7 292.4L318.8 299.4L318.9 307.5L319 292.9L319.1 310L319.2 322.7L319.3 303.8L319.4 300.7L319.5 300L319.6 310.3L319.7 305.7L319.8 313.4L319.9 309.7L320 300L320.1 311L320.2 299.8L320.3 308.8L320.4 306L320.5 309.9L320.6 296.6L320.7 306.2L320.8 314.7L320.9 306.5L321 297L321.1 305.6L321.2 317.9L321.3 315.3L321.4 318L321.5 297.2L321.6 307.3L321.7 301.1L321.8 301.8L321.9 312.5L322 299.6L322.1 310.9L322.2 307.1L322.3 328L322.4 311.4L322.5 314.5L322.6 318L322.7 294.5L322.8 323L322.9 314.1L323 329.2L323.1 314.1L323.2 318.6L323.3 300.3L323.4 310.9L323.5 307.4L323.6 330.2L323.7 317.1L323.8 323.9L323.9 301.3L324 304.6L324.1 312.5L324.2 312.2L324.3 312.9L324.4 314.4L324.5 308.1L324.6 308.7L324.7 315.7L324.9 321.1L325 302.1L325.1 318.5L325.2 321.3L325.3 302.4L325.4 313.9L325.5 316.3L325.6 327.4L325.7 324.6L325.8 302.9L325.9 318.2L326 304.7L326.1 325.2L326.2 307.8L326.3 314L326.4 319.2L326.5 331.7L326.6 303.8L326.7 314.3L326.8 315.8L326.9 307.6L327 325L327.1 304.3L327.2 308.4L327.3 310.8L327.4 310.5L327.5 322.2L327.6 317.7L327.7 312.2L327.8 321L327.9 305.2L328 309L328.1 305.4L328.2 330.5L328.3 255.2L328.4 321.4L328.5 324.1L328.6 319.8L328.7 306L328.8 313.1L328.9 313.8L329 308.1L329.1 307.8L329.2 307.2L329.3 309.2L329.4 315.2L329.5 313.4L329.6 330.7L329.7 319.7L329.8 336.6L329.9 319.5L330 317.8L330.1 325.8L330.2 323.8L330.3 309.4L330.4 322.4L330.5 319.2L330.6 308L330.7 316.6L330.8 311.3L330.9 315.7L331 314.7L331.1 309.7L331.2 322.2L331.3 313.5L331.4 324.9L331.5 324.4L331.6 315.1L331.7 326.5L331.8 338.7L332 323.3L332.1 309.5L332.2 330.6L332.3 316.2L332.4 325.1L332.5 335.7L332.6 324.9L332.7 339.6L332.8 311.4L332.9 326L333 319.1L333.1 322.7L333.2 336.4L333.3 326.6L333.4 312.4L333.5 315.9L333.6 326.8L333.7 330.2L333.8 324.4L333.9 335.7L334 321.7L334.1 339L334.2 331.1L334.3 316.7L334.4 236.2L334.5 330.6L334.6 323.4L334.7 327.3L334.8 322.7L334.9 315.2L335 326.1L335.1 340.8L335.2 321.6L335.3 332.9L335.4 315.2L335.5 316.9L335.6 326.1L335.7 321.9L335.8 339.4L335.9 342.1L336 329.5L336.1 323.4L336.2 314.3L336.3 332.8L336.4 335.3L336.5 334.7L336.6 333.9L336.7 325.6L336.8 340.3L336.9 320.6L337 339.5L337.1 315.4L337.2 329L337.3 327.1L337.4 343.1L337.5 325.5L337.6 345.4L337.7 320.8L337.8 334.4L337.9 326.4L338 324.1L338.1 320.4L338.2 316.8L338.3 318.9L338.4 322.5L338.5 334.9L338.6 339.8L338.7 322.8L338.8 326.7L338.9 334.6L339.1 330.5L339.2 321.6L339.3 322L339.4 335.8L339.5 342.4L339.6 347.7L339.7 334.9L339.8 333.7L339.9 343L340 321.4L340.1 318.9L340.2 338.2L340.3 324.7L340.4 332.6L340.5 326.4L340.6 330.2L340.7 332.6L340.8 323.4L340.9 325.7L341 335.9L341.1 327.9L341.2 337.9L341.3 332.9L341.4 327.2L341.5 328.5L341.6 347L341.7 327.7L341.8 344L341.9 331.2L342 327L342.1 347.1L342.2 343.3L342.3 326.3L342.4 331L342.5 351.2" fill="none" stroke="#000" stroke-width="0.85" stroke-linejoin="round"/>
</g>
<path d="M58.6 175.3V356.7H342.5" fill="none" stroke="#333" stroke-width="1"/>
<path d="M58.6 175.3H342.5V356.7" fill="none" stroke="#666" stroke-width="1"/>
<line x1="55.4" y1="179.1" x2="58.6" y2="179.1" stroke="#333" stroke-width="0.8"/>
<text x="32.4" y="184.1" font-size="12.17" fill="#1a1a1a" textLength="14.89" lengthAdjust="spacingAndGlyphs">10</text>
<text x="47.7" y="180.5" font-size="8.52" fill="#1a1a1a" textLength="5.21" lengthAdjust="spacingAndGlyphs">0</text>
<line x1="55.4" y1="215.9" x2="58.6" y2="215.9" stroke="#333" stroke-width="0.8"/>
<text x="25.5" y="220.9" font-size="12.17" fill="#1a1a1a" textLength="14.89" lengthAdjust="spacingAndGlyphs">10</text>
<text x="40.8" y="217.3" font-size="8.52" fill="#1a1a1a" textLength="12.07" lengthAdjust="spacingAndGlyphs">−3</text>
<line x1="55.4" y1="252.8" x2="58.6" y2="252.8" stroke="#333" stroke-width="0.8"/>
<text x="25.5" y="257.8" font-size="12.17" fill="#1a1a1a" textLength="14.89" lengthAdjust="spacingAndGlyphs">10</text>
<text x="40.8" y="254.2" font-size="8.52" fill="#1a1a1a" textLength="12.07" lengthAdjust="spacingAndGlyphs">−6</text>
<line x1="55.4" y1="289.6" x2="58.6" y2="289.6" stroke="#333" stroke-width="0.8"/>
<text x="25.5" y="294.6" font-size="12.17" fill="#1a1a1a" textLength="14.89" lengthAdjust="spacingAndGlyphs">10</text>
<text x="40.8" y="291" font-size="8.52" fill="#1a1a1a" textLength="12.07" lengthAdjust="spacingAndGlyphs">−9</text>
<line x1="55.4" y1="326.5" x2="58.6" y2="326.5" stroke="#333" stroke-width="0.8"/>
<text x="20.3" y="331.5" font-size="12.17" fill="#1a1a1a" textLength="14.89" lengthAdjust="spacingAndGlyphs">10</text>
<text x="35.6" y="327.9" font-size="8.52" fill="#1a1a1a" textLength="17.28" lengthAdjust="spacingAndGlyphs">−12</text>
<line x1="58.6" y1="356.7" x2="58.6" y2="359.9" stroke="#333" stroke-width="0.8"/>
<text x="38.8" y="371.3" font-size="12.17" fill="#1a1a1a" textLength="39.58" lengthAdjust="spacingAndGlyphs">−2500</text>
<line x1="105.9" y1="356.7" x2="105.9" y2="359.9" stroke="#333" stroke-width="0.8"/>
<text x="86.1" y="371.3" font-size="12.17" fill="#1a1a1a" textLength="39.58" lengthAdjust="spacingAndGlyphs">−2000</text>
<line x1="153.2" y1="356.7" x2="153.2" y2="359.9" stroke="#333" stroke-width="0.8"/>
<text x="133.4" y="371.3" font-size="12.17" fill="#1a1a1a" textLength="39.58" lengthAdjust="spacingAndGlyphs">−1500</text>
<line x1="200.5" y1="356.7" x2="200.5" y2="359.9" stroke="#333" stroke-width="0.8"/>
<text x="180.8" y="371.3" font-size="12.17" fill="#1a1a1a" textLength="39.58" lengthAdjust="spacingAndGlyphs">−1000</text>
<line x1="247.9" y1="356.7" x2="247.9" y2="359.9" stroke="#333" stroke-width="0.8"/>
<text x="231.8" y="371.3" font-size="12.17" fill="#1a1a1a" textLength="32.14" lengthAdjust="spacingAndGlyphs">−500</text>
<line x1="295.2" y1="356.7" x2="295.2" y2="359.9" stroke="#333" stroke-width="0.8"/>
<text x="291.5" y="371.3" font-size="12.17" fill="#1a1a1a" textLength="7.44" lengthAdjust="spacingAndGlyphs">0</text>
<line x1="342.5" y1="356.7" x2="342.5" y2="359.9" stroke="#333" stroke-width="0.8"/>
<text x="331.3" y="371.3" font-size="12.17" fill="#1a1a1a" textLength="22.33" lengthAdjust="spacingAndGlyphs">500</text>
<text x="174.2" y="385.5" font-size="12.17" fill="#1a1a1a" textLength="52.80" lengthAdjust="spacingAndGlyphs">time [ps]</text>
<text transform="translate(15.1 265.4) rotate(-90)" x="-68" y="0" font-size="12.17" fill="#1a1a1a" textLength="136.05" lengthAdjust="spacingAndGlyphs">norm. intensity [arb.u.]</text>
<text x="320.2" y="192.6" font-size="18.72" fill="#111" textLength="16.92" lengthAdjust="spacingAndGlyphs">c)</text>
<rect x="105.2" y="184.4" width="128.6" height="114" fill="#fff"/>
<clipPath id="ci"><rect x="105.2" y="184.4" width="128.6" height="114"/></clipPath>
<line x1="105.2" y1="185.3" x2="233.8" y2="185.3" stroke="#d0d0d0" stroke-width="0.8" stroke-dasharray="2.2 1.6"/>
<line x1="105.2" y1="211" x2="233.8" y2="211" stroke="#d0d0d0" stroke-width="0.8" stroke-dasharray="2.2 1.6"/>
<line x1="105.2" y1="236.7" x2="233.8" y2="236.7" stroke="#d0d0d0" stroke-width="0.8" stroke-dasharray="2.2 1.6"/>
<line x1="105.2" y1="262.4" x2="233.8" y2="262.4" stroke="#d0d0d0" stroke-width="0.8" stroke-dasharray="2.2 1.6"/>
<line x1="105.2" y1="288.1" x2="233.8" y2="288.1" stroke="#d0d0d0" stroke-width="0.8" stroke-dasharray="2.2 1.6"/>
<line x1="120.8" y1="184.4" x2="120.8" y2="298.4" stroke="#d0d0d0" stroke-width="0.8" stroke-dasharray="2.2 1.6"/>
<line x1="171.9" y1="184.4" x2="171.9" y2="298.4" stroke="#d0d0d0" stroke-width="0.8" stroke-dasharray="2.2 1.6"/>
<line x1="222.9" y1="184.4" x2="222.9" y2="298.4" stroke="#d0d0d0" stroke-width="0.8" stroke-dasharray="2.2 1.6"/>
<g clip-path="url(#ci)">
<path d="M104.5 288.7L104.6 291.6L104.7 303.2L104.8 286.9L104.9 296.1L105 291.3L105.1 292.2L105.2 289.4L105.3 289L105.4 293.6L105.5 291.5L105.6 288.3L105.7 289.3L105.8 295.6L105.9 290.7L106 293.8L106.1 291.3L106.2 292.4L106.3 289L106.4 288.7L106.5 290.2L106.6 288.3L106.7 290.9L106.8 289L106.9 289.6L107 295.2L107.1 300.5L107.2 294L107.3 303.9L107.4 289.7L107.5 299L107.6 302L107.7 292.6L107.8 301.3L107.9 297.1L108 297.3L108.1 289.3L108.2 293.1L108.3 292.4L108.4 293.9L108.5 292.7L108.6 295L108.7 292.4L108.8 299.5L108.9 294.5L109 291.3L109.1 291.3L109.2 287.9L109.3 292.4L109.4 291.6L109.5 297L109.6 295.8L109.7 289.4L109.8 294.3L109.9 288.1L110 298.7L110.1 291.4L110.2 298.7L110.3 293.3L110.4 291.2L110.5 293L110.6 294.5L110.7 288.9L110.8 288.1L110.9 291.4L111 294.1L111.1 291.6L111.2 296L111.3 304.3L111.4 291.6L111.5 293.2L111.6 289.8L111.7 289.4L111.8 289.8L111.9 291.9L112 291.4L112.1 286.9L112.2 299.9L112.3 293.2L112.3 292.7L112.4 291.2L112.5 294.3L112.6 264.1L112.7 290.4L112.8 290.3L112.9 291.9L113 290.9L113.1 287.6L113.2 289.1L113.3 296L113.4 292.3L113.5 287.8L113.6 294.8L113.7 287.7L113.8 293.2L113.9 294.7L114 295.9L114.1 287.6L114.2 294.1L114.3 295.5L114.4 292.4L114.5 297.7L114.6 301.3L114.7 294.6L114.8 288.8L114.9 285.2L115 290.3L115.1 291.8L115.2 287.4L115.3 291.1L115.4 291.1L115.5 292.2L115.6 290.5L115.7 294.8L115.8 288.3L115.9 290L116 291.4L116.1 299.1L116.2 289.2L116.3 293.3L116.4 288.9L116.5 293.7L116.6 297.8L116.7 295.4L116.8 299.6L116.9 293.1L117 289.8L117.1 291.4L117.2 290.4L117.3 298.1L117.4 294.8L117.5 301.4L117.6 293.3L117.7 292.5L117.8 293.1L117.9 296.4L118 285.5L118.1 291.5L118.2 292.1L118.3 290.4L118.4 291.5L118.5 297L118.6 288L118.7 291.5L118.8 294.6L118.9 291.4L119 291.1L119.1 286.8L119.2 290.7L119.3 294.5L119.4 296.5L119.5 286L119.6 287.5L119.7 290.3L119.8 290.1L119.9 288.6L120 299.6L120.1 292.5L120.2 294.3L120.3 289.7L120.4 292.6L120.5 291.9L120.6 295.9L120.7 288.3L120.8 292.5L120.9 296.2L121 291.7L121.1 290.5L121.2 288.7L121.3 285.3L121.4 294.9L121.5 293.5L121.6 290.9L121.7 294L121.8 288.7L121.9 289.3L122 305L122.1 289.7L122.2 295.3L122.3 288.2L122.4 294.8L122.5 302.8L122.6 287.7L122.7 291.6L122.8 292.9L122.9 293.7L123 295.6L123.1 293.2L123.2 294.7L123.3 293.6L123.4 293.1L123.5 287.4L123.6 290.9L123.7 291.2L123.8 293.4L123.9 288.3L124 287.7L124.1 289.3L124.2 292.2L124.3 293.2L124.4 289.6L124.5 304.2L124.6 287.6L124.7 298.7L124.8 294.4L124.9 292L125 292L125.1 287.2L125.2 287L125.3 305L125.4 289.3L125.5 290.9L125.6 287.9L125.7 288L125.8 292.4L125.9 293L126 292.1L126.1 298.7L126.2 288.3L126.3 305L126.4 289.2L126.5 295L126.6 290.5L126.7 289.1L126.8 296.5L126.9 286.3L127 290.4L127.1 298L127.2 294.2L127.3 291.1L127.4 284.9L127.5 287.9L127.6 291L127.7 286.2L127.8 290.4L127.9 289.9L128 287.4L128.1 290.9L128.2 294.7L128.3 287L128.4 289.8L128.5 289.3L128.6 289.7L128.7 304.9L128.8 300.1L128.9 285.9L129 289.7L129.1 299L129.2 294.5L129.3 288.5L129.4 300.5L129.5 290L129.6 293.7L129.7 288.6L129.8 299.6L129.9 301.1L130 292.3L130.1 301.8L130.2 295.2L130.3 291.1L130.4 291.4L130.5 303.9L130.6 291.8L130.7 293.6L130.8 297.4L130.9 299.7L131 287.2L131.1 290.9L131.2 288.9L131.3 296.5L131.4 289.6L131.5 288.6L131.6 298.5L131.7 288.7L131.8 287.7L131.9 296.7L132 305L132.1 296.5L132.2 290.3L132.3 291.6L132.4 292.5L132.5 295.4L132.6 298.5L132.7 288.6L132.8 290.8L132.9 291L133 291L133.1 290.1L133.2 296.2L133.3 296.3L133.4 294.3L133.5 292.1L133.6 290.8L133.7 289.1L133.8 290.4L133.9 286.1L134 295.5L134.1 288.4L134.2 295.8L134.3 292.9L134.4 294.3L134.5 292.7L134.6 289.4L134.7 285.8L134.8 292L134.9 298L135 292.3L135.1 291.9L135.2 295L135.3 291.4L135.4 292.2L135.5 295.5L135.6 297.2L135.7 289.1L135.8 293L135.9 290.9L136 291.7L136.1 301.9L136.2 295L136.3 291.1L136.4 294.4L136.5 304.5L136.6 296.6L136.7 289.2L136.8 291L136.9 289.3L137 290.3L137.1 295.6L137.2 292.2L137.3 289.7L137.4 287.4L137.5 296.7L137.6 291.3L137.7 293.7L137.8 291L137.9 299L138 286.7L138.1 296.5L138.2 295.1L138.3 290.6L138.4 265.9L138.5 290.9L138.6 287.3L138.7 287.3L138.8 285.7L138.9 292.9L139 289.8L139.1 293.9L139.2 288.5L139.3 290.4L139.4 294.6L139.5 296L139.6 295L139.7 289.3L139.8 297.4L139.9 297.6L140 302L140.1 290L140.2 296.6L140.3 286.6L140.4 292.4L140.5 293.9L140.6 294.3L140.7 287.6L140.8 289.1L140.9 295.8L141 292.7L141.1 299.3L141.2 287.1L141.3 295L141.4 295.7L141.5 288.6L141.6 291.7L141.7 286.1L141.8 285.5L141.9 294.5L142 289.7L142.1 305L142.2 287.4L142.3 291.4L142.4 290L142.5 285.9L142.6 292.5L142.7 284L142.8 290.3L142.9 287.9L143 290.4L143.1 289.4L143.2 289L143.3 305L143.4 299.3L143.5 294.1L143.6 287L143.7 293.2L143.8 297L143.9 298.9L144 291.6L144.1 291.3L144.2 288.3L144.3 291.4L144.4 287.2L144.5 295.2L144.6 289.3L144.7 286L144.8 283L144.9 289.7L145 290.6L145.1 301L145.2 292.9L145.3 296.7L145.4 291.4L145.5 299.9L145.6 290.1L145.7 284.5L145.8 294L145.9 290.3L146 292.7L146.1 293.4L146.2 291.5L146.3 296.1L146.4 290.2L146.5 292L146.6 289.2L146.7 292.7L146.8 292.1L146.9 291.6L147 291.6L147.1 289.9L147.2 288.1L147.3 294.7L147.4 298.7L147.5 294.3L147.6 296.8L147.7 287.2L147.8 291.6L147.9 291L148 290.6L148.1 292.6L148.2 293.1L148.3 288.9L148.4 286.2L148.5 287.4L148.6 291.5L148.7 293.8L148.8 294.3L148.9 292.9L149 292.2L149.1 290.6L149.2 303L149.3 299.5L149.4 304.4L149.5 293.8L149.6 290L149.7 292.5L149.8 297.4L149.9 292.2L150 289.3L150.1 289.7L150.2 293L150.3 289.7L150.4 301.5L150.5 293.6L150.6 297.9L150.7 285.4L150.8 289.1L150.9 295.7L151 292.2L151.1 293.8L151.2 299L151.3 289.8L151.4 285.7L151.5 290.7L151.6 289.3L151.7 293.2L151.8 292.7L151.9 291.5L152 290.1L152.1 293.7L152.2 286L152.3 291.6L152.4 305L152.5 290.2L152.6 294L152.7 297.2L152.8 285.3L152.9 288.1L153 291.9L153.1 291.8L153.2 291.1L153.3 287.9L153.4 287.5L153.5 294L153.6 296.2L153.7 287.9L153.8 291.4L153.9 290.9L154 295.9L154.1 291.7L154.2 286.3L154.3 298.7L154.4 288.6L154.5 290.9L154.6 286.7L154.7 290.5L154.8 293.1L154.9 287.8L155 296.8L155.1 295.3L155.2 289.4L155.3 288.9L155.4 289.8L155.5 290.3L155.6 294.1L155.7 289.1L155.8 291.1L155.9 286L156 288L156.1 286.6L156.2 288.1L156.3 296.3L156.4 287.9L156.5 282.8L156.6 290.1L156.7 290.9L156.8 290.6L156.9 290.9L157 287.9L157.1 293.2L157.2 305L157.3 296.7L157.4 294.1L157.5 286.1L157.6 289.9L157.7 291.4L157.8 291L157.9 292.4L158 290.6L158.1 285.6L158.2 291.8L158.3 290.2L158.4 290.8L158.5 287.8L158.6 285.5L158.7 290.2L158.8 291.4L158.9 284.8L159 295.9L159.1 290.7L159.2 299.2L159.3 292.5L159.4 288.4L159.5 292.4L159.6 289L159.7 292.2L159.8 298.9L159.9 289.2L160 290.1L160.1 288.7L160.2 289.9L160.3 293.5L160.4 289L160.5 294.8L160.6 286.3L160.7 288.6L160.8 287.8L160.9 292L161 290.6L161.1 292.1L161.2 288.8L161.3 294.3L161.4 292.8L161.5 294.1L161.6 286.4L161.7 288.1L161.8 292.4L161.9 287.6L162 287.7L162.1 298.7L162.2 288.5L162.3 285.4L162.4 291L162.5 287.6L162.6 290.7L162.7 287.9L162.8 293.8L162.9 297.4L163 293L163.1 292L163.2 287L163.3 286.9L163.4 289.1L163.5 284.8L163.6 291.8L163.7 290.9L163.8 297.2L163.9 283.8L164 288.3L164.1 289.7L164.2 298.2L164.3 300.5L164.4 288L164.5 296.4L164.6 285.3L164.7 291L164.8 295.3L164.9 301.3L165 286.6L165.1 286.4L165.2 284.3L165.3 296.5L165.4 289.9L165.5 292.3L165.6 291.5L165.7 293.6L165.8 294.5L165.9 292.7L166 287.5L166.1 290.4L166.2 287.6L166.3 290.8L166.4 295.1L166.5 288.7L166.6 287.3L166.7 291.2L166.8 287.3L166.9 288.1L167 286.2L167.1 293.1L167.2 290.8L167.3 297.4L167.4 293.4L167.5 290.1L167.6 288.7L167.7 288.5L167.8 290.6L167.9 287.7L167.9 285.1L168 300.3L168.1 290.5L168.2 285.8L168.3 287.4L168.4 287.5L168.5 287.2L168.6 284.2L168.7 288.7L168.8 285.8L168.9 288.1L169 297L169.1 283.5L169.2 289.5L169.3 290.7L169.4 293.1L169.5 286.4L169.6 288.4L169.7 288.2L169.8 288L169.9 287.5L170 286.6L170.1 288.4L170.2 288.7L170.3 295.9L170.4 291L170.5 290.3L170.6 289.1L170.7 286.3L170.8 305L170.9 290.9L171 293.1L171.1 285.6L171.2 293.6L171.3 292.8L171.4 302.3L171.5 289.2L171.6 291.1L171.7 287.5L171.8 290.9L171.9 286.3L172 289.5L172.1 287.3L172.2 294.1L172.3 290.4L172.4 287L172.5 288.4L172.6 294.3L172.7 285.5L172.8 288.5L172.9 295.5L173 286.6L173.1 289.3L173.2 286.3L173.3 293.4L173.4 286.1L173.5 289.7L173.6 289.3L173.7 295.1L173.8 286.9L173.9 284L174 286.9L174.1 290.1L174.2 290.2L174.3 287.8L174.4 284.9L174.5 301.1L174.6 293.8L174.7 290.8L174.8 294.3L174.9 289.1L175 282.1L175.1 283.5L175.2 290.6L175.3 293.6L175.4 285.5L175.5 285.6L175.6 289.9L175.7 292.5L175.8 282L175.9 281.3L176 283L176.1 284.7L176.2 289.8L176.3 286.5L176.4 267.6L176.5 280.5L176.6 291.8L176.7 290.2L176.8 287.9L176.9 287.1L177 279.8L177.1 282.3L177.2 289.1L177.3 284L177.4 284L177.5 278.4L177.6 291.8L177.7 286.9L177.8 288.7L177.9 283.2L178 279.8L178.1 284.4L178.2 275L178.3 287.2L178.4 282.2L178.5 285.5L178.6 288.4L178.7 284L178.8 281.7L178.9 284.7L179 284.3L179.1 281.4L179.2 283.9L179.3 276.7L179.4 277.8L179.5 280L179.6 275.5L179.7 289.4L179.8 283.7L179.9 273.7L180 282.9L180.1 274.6L180.2 276.7L180.3 277.8L180.4 278.9L180.5 283L180.6 284.2L180.7 284.9L180.8 275.3L180.9 277.1L181 275.4L181.1 281.4L181.2 276.1L181.3 271.3L181.4 279.1L181.5 277.7L181.6 276.9L181.7 266.7L181.8 269.9L181.9 266.2L182 265.9L182.1 275.2L182.2 272.6L182.3 284.2L182.4 273.2L182.5 275.8L182.6 273.2L182.7 272.7L182.8 282.5L182.9 271.5L183 274.8L183.1 278.2L183.2 275.2L183.3 268.9L183.4 275.1L183.5 266L183.6 269.7L183.7 271.9L183.8 275.9L183.9 275.4L184 266.5L184.1 271.3L184.2 270.1L184.3 269.8L184.4 267.1L184.5 267.4L184.6 272L184.7 269L184.8 270.9L184.9 267.6L185 276.4L185.1 270.6L185.2 263.8L185.3 274.9L185.4 272.1L185.5 268.1L185.6 274.2L185.7 268.4L185.8 267.2L185.9 265L186 267.5L186.1 266.8L186.2 269.8L186.3 266.6L186.4 266.4L186.5 265.3L186.6 263.9L186.7 263.7L186.8 263.8L186.9 265.5L187 266.1L187.1 268.5L187.2 263.3L187.3 260.7L187.4 268.1L187.5 263.1L187.6 266.3L187.7 266.5L187.8 270.1L187.9 266.7L188 262.7L188.1 263.2L188.2 261.6L188.3 268.2L188.4 274.8L188.5 261.9L188.6 265.2L188.7 261.9L188.8 256.8L188.9 260.1L189 273.9L189.1 266.7L189.2 266L189.3 257.4L189.4 267.7L189.5 265.7L189.6 259.4L189.7 272L189.8 266.5L189.9 270.1L190 268.7L190.1 261.8L190.2 263.6L190.3 264.3L190.4 263.9L190.5 265.4L190.6 263.7L190.7 261.1L190.8 266.7L190.9 262.5L191 265.1L191.1 258.8L191.2 257.4L191.3 259.8L191.4 258.1L191.5 264.6L191.6 263.8L191.7 261.4L191.8 263.4L191.9 259.5L192 262.7L192.1 267.4L192.2 266.2L192.3 260.6L192.4 252.9L192.5 261L192.6 268.2L192.7 260.3L192.8 264.3L192.9 267L193 252.4L193.1 252.3L193.2 261.1L193.3 261L193.4 262L193.5 257.1L193.6 256.9L193.7 255.7L193.8 265.2L193.9 261.5L194 256.7L194.1 259.5L194.2 266.6L194.3 260L194.4 255.5L194.5 269.2L194.6 252.9L194.7 260.3L194.8 253L194.9 255.2L195 257.7L195.1 259.6L195.2 259.9L195.3 262.1L195.4 258.4L195.5 257.4L195.6 265.5L195.7 261.5L195.8 269.1L195.9 265.5L196 262.1L196.1 256.4L196.2 258.5L196.3 258L196.4 260.4L196.5 263.2L196.6 254.5L196.7 255L196.8 263.1L196.9 259.3L197 256.2L197.1 262.5L197.2 261.3L197.3 255.7L197.4 257L197.5 253.2L197.6 258.6L197.7 254.4L197.8 254.9L197.9 248.7L198 260.3L198.1 257.1L198.2 261.2L198.3 254L198.4 253.5L198.5 249.3L198.6 257.3L198.7 252.7L198.8 255.3L198.9 248.7L199 255.9L199.1 256.8L199.2 252.2L199.3 256.2L199.4 258.8L199.5 263.5L199.6 253.5L199.7 250.1L199.8 254.9L199.9 251L200 257L200.1 251.9L200.2 251.4L200.3 256.8L200.4 261.1L200.5 256.1L200.6 254.8L200.7 251.7L200.8 263.2L200.9 248.3L201 252.1L201.1 255.7L201.2 259.2L201.3 257.3L201.4 252.6L201.5 252.6L201.6 252.8L201.7 261.2L201.8 256.2L201.9 254.3L202 255.1L202.1 256.8L202.2 253.3L202.3 248.6L202.4 259.4L202.5 248.4L202.6 257.9L202.7 257.8L202.8 258L202.9 250.1L203 251.4L203.1 248.7L203.2 256.7L203.3 258.4L203.4 244.7L203.5 250.7L203.6 263.8L203.7 257.5L203.8 252.6L203.9 246.5L204 244.5L204.1 257.3L204.2 249.7L204.3 253.4L204.4 253.8L204.5 254.2L204.6 257.7L204.7 256.2L204.8 253.8L204.9 250.2L205 258.2L205.1 245.7L205.2 253.6L205.3 248.4L205.4 256.1L205.5 257L205.6 246.8L205.7 249.2L205.8 260.1L205.9 249.4L206 258.5L206.1 249.4L206.2 247.9L206.3 251.3L206.4 252.6L206.5 251.9L206.6 251.4L206.7 254.6L206.8 249.1L206.9 253.5L207 258.4L207.1 249.4L207.2 242.9L207.3 246L207.4 251.3L207.5 253.7L207.6 252.7L207.7 244.5L207.8 247L207.9 254L208 249.2L208.1 243.6L208.2 249.7L208.3 249.4L208.4 252.4L208.5 257.2L208.6 246L208.7 247L208.8 246.5L208.9 244.1L209 250L209.1 251.3L209.2 247.6L209.3 254.8L209.4 257.9L209.5 250.9L209.6 252.1L209.7 253.1L209.8 248.8L209.9 246L210 251.9L210.1 257.8L210.2 256.5L210.3 253L210.4 249.9L210.5 249L210.6 246.7L210.7 240.3L210.8 253.1L210.9 244.2L211 249.4L211.1 247.8L211.2 249.9L211.3 243.7L211.4 244.7L211.5 241.8L211.6 239.9L211.7 253.9L211.8 248.5L211.9 244L212 243.5L212.1 245.4L212.2 250.7L212.3 239.5L212.4 251.5L212.5 243.4L212.6 249.3L212.7 248.6L212.8 243.5L212.9 250.9L213 243.8L213.1 246.7L213.2 251.6L213.3 247.3L213.4 245.9L213.5 244L213.6 242L213.7 252.8L213.8 250.2L213.9 250L214 252.8L214.1 238.4L214.2 248.6L214.3 247.8L214.4 248.2L214.5 250.2L214.6 242.4L214.7 245.6L214.8 249.1L214.9 247.5L215 244.3L215.1 244.7L215.2 242.2L215.3 240.4L215.4 248L215.5 250L215.6 247.8L215.7 245.1L215.8 248.2L215.9 244.2L216 250.8L216.1 245.6L216.2 243.9L216.3 248.9L216.4 242L216.5 238.1L216.6 257.3L216.7 248.5L216.8 245.8L216.9 241.6L217 249.2L217.1 244.1L217.2 238.6L217.3 243.4L217.4 247L217.5 247.1L217.6 243.4L217.7 242.5L217.8 242.7L217.9 244.2L218 253.4L218.1 247.5L218.2 245.1L218.3 242.9L218.4 241.1L218.5 246L218.6 240.1L218.7 236.2L218.8 240.6L218.9 239.2L219 244.2L219.1 246.6L219.2 240L219.3 240.3L219.4 237.2L219.5 243.1L219.6 245.9L219.7 245.7L219.8 240.2L219.9 249.6L220 235.3L220.1 242.6L220.2 240.6L220.3 241.7L220.4 233.5L220.5 245.9L220.6 236.9L220.7 238L220.8 234.5L220.9 235.8L221 243.5L221.1 245.4L221.2 247.2L221.3 238.8L221.4 234.8L221.5 235.7L221.6 237.6L221.7 233.1L221.8 240.9L221.9 228.8L222 227.3L222.1 227.9L222.2 228.8L222.3 220.2L222.4 229.7L222.5 223.9L222.6 215.1L222.7 211.3L222.8 212.7L222.9 185.3L223 216.9L223.1 208.5L223.2 215.3L223.3 228.9L223.4 223.6L223.5 228.1L223.6 234.5L223.6 227.2L223.7 239.1L223.8 243.4L223.9 237.6L224 228.3L224.1 236.5L224.2 228.9L224.3 234.7L224.4 230L224.5 235.6L224.6 236.3L224.7 251.2L224.8 246.1L224.9 246.6L225 242L225.1 236.6L225.2 237.7L225.3 238.5L225.4 249.7L225.5 245.9L225.6 242.4L225.7 239.5L225.8 241.2L225.9 246L226 248.6L226.1 238L226.2 246.9L226.3 243.4L226.4 242.7L226.5 240.9L226.6 246.3L226.7 248.4L226.8 244.2L226.9 247.3L227 242.9L227.1 250.4L227.2 245.6L227.3 249.5L227.4 235.1L227.5 252.2L227.6 246.7L227.7 246L227.8 247.2L227.9 250.4L228 249.1L228.1 245.8L228.2 238.5L228.3 239.3L228.4 237L228.5 247.1L228.6 244L228.7 239.1L228.8 242.4L228.9 243.8L229 244.4L229.1 241.1L229.2 247.2L229.3 243.6L229.4 248.6L229.5 241.7L229.6 242.6L229.7 245.3L229.8 251.1L229.9 245.8L230 238.3L230.1 247.9L230.2 244.1L230.3 253.3L230.4 250.4L230.5 245.9L230.6 241.9L230.7 242.3L230.8 248.6L230.9 237.7L231 258L231.1 252.7L231.2 241.5L231.3 240.6L231.4 238.7L231.5 250.2L231.6 252.6L231.7 253L231.8 250.8L231.9 244.7L232 248.4L232.1 248.4L232.2 244L232.3 247.8L232.4 246.1L232.5 240.4L232.6 250.1L232.7 246.6L232.8 250.5L232.9 243.9L233 252.3L233.1 251.3L233.2 244.3L233.3 256.2L233.4 239.2L233.5 244.5L233.6 248.1L233.7 248.9L233.8 245.1L233.9 245.6L234 251.8L234.1 246.8" fill="none" stroke="#000" stroke-width="0.8" stroke-linejoin="round"/>
</g>
<rect x="105.2" y="184.4" width="128.6" height="114" fill="none" stroke="#333" stroke-width="0.9"/>
<line x1="102.2" y1="185.3" x2="105.2" y2="185.3" stroke="#333" stroke-width="0.8"/>
<text x="79" y="190" font-size="12.17" fill="#1a1a1a" textLength="14.89" lengthAdjust="spacingAndGlyphs">10</text>
<text x="94.3" y="186.4" font-size="8.52" fill="#1a1a1a" textLength="5.21" lengthAdjust="spacingAndGlyphs">0</text>
<line x1="102.2" y1="211" x2="105.2" y2="211" stroke="#333" stroke-width="0.8"/>
<text x="72.1" y="215.7" font-size="12.17" fill="#1a1a1a" textLength="14.89" lengthAdjust="spacingAndGlyphs">10</text>
<text x="87.4" y="212.1" font-size="8.52" fill="#1a1a1a" textLength="12.07" lengthAdjust="spacingAndGlyphs">−3</text>
<line x1="102.2" y1="236.7" x2="105.2" y2="236.7" stroke="#333" stroke-width="0.8"/>
<text x="72.1" y="241.4" font-size="12.17" fill="#1a1a1a" textLength="14.89" lengthAdjust="spacingAndGlyphs">10</text>
<text x="87.4" y="237.8" font-size="8.52" fill="#1a1a1a" textLength="12.07" lengthAdjust="spacingAndGlyphs">−6</text>
<line x1="102.2" y1="262.4" x2="105.2" y2="262.4" stroke="#333" stroke-width="0.8"/>
<text x="72.1" y="267.1" font-size="12.17" fill="#1a1a1a" textLength="14.89" lengthAdjust="spacingAndGlyphs">10</text>
<text x="87.4" y="263.5" font-size="8.52" fill="#1a1a1a" textLength="12.07" lengthAdjust="spacingAndGlyphs">−9</text>
<line x1="102.2" y1="288.1" x2="105.2" y2="288.1" stroke="#333" stroke-width="0.8"/>
<text x="66.9" y="292.8" font-size="12.17" fill="#1a1a1a" textLength="14.89" lengthAdjust="spacingAndGlyphs">10</text>
<text x="82.2" y="289.2" font-size="8.52" fill="#1a1a1a" textLength="17.28" lengthAdjust="spacingAndGlyphs">−12</text>
<line x1="120.8" y1="298.4" x2="120.8" y2="301.4" stroke="#333" stroke-width="0.8"/>
<text x="104.7" y="314.2" font-size="12.17" fill="#1a1a1a" textLength="32.14" lengthAdjust="spacingAndGlyphs">−200</text>
<line x1="171.9" y1="298.4" x2="171.9" y2="301.4" stroke="#333" stroke-width="0.8"/>
<text x="155.8" y="314.2" font-size="12.17" fill="#1a1a1a" textLength="32.14" lengthAdjust="spacingAndGlyphs">−100</text>
<line x1="222.9" y1="298.4" x2="222.9" y2="301.4" stroke="#333" stroke-width="0.8"/>
<text x="219.2" y="314.2" font-size="12.17" fill="#1a1a1a" textLength="7.44" lengthAdjust="spacingAndGlyphs">0</text>
<clipPath id="cd"><rect x="399.2" y="175.3" width="283.7" height="181.2"/></clipPath>
<line x1="399.2" y1="201.7" x2="682.9" y2="201.7" stroke="#d0d0d0" stroke-width="0.8" stroke-dasharray="2.2 1.6"/>
<line x1="399.2" y1="227.5" x2="682.9" y2="227.5" stroke="#d0d0d0" stroke-width="0.8" stroke-dasharray="2.2 1.6"/>
<line x1="399.2" y1="253.3" x2="682.9" y2="253.3" stroke="#d0d0d0" stroke-width="0.8" stroke-dasharray="2.2 1.6"/>
<line x1="399.2" y1="279.1" x2="682.9" y2="279.1" stroke="#d0d0d0" stroke-width="0.8" stroke-dasharray="2.2 1.6"/>
<line x1="399.2" y1="304.9" x2="682.9" y2="304.9" stroke="#d0d0d0" stroke-width="0.8" stroke-dasharray="2.2 1.6"/>
<line x1="399.2" y1="330.7" x2="682.9" y2="330.7" stroke="#d0d0d0" stroke-width="0.8" stroke-dasharray="2.2 1.6"/>
<g clip-path="url(#cd)">
<path d="M401.5 330.1L401.8 332.2L402.1 334.8L402.4 340.5L403 340.7L403.5 342.4L404.1 342.3L404.7 339L405.2 332L405.8 326.6L406.2 323.6L406.7 321.2L407.1 320.5L407.6 322.3L408 324.4L408.5 322.2L408.9 324.4L409.4 323.6L409.8 327.5L410.2 323.5L410.7 325.6L411.1 320.5L411.5 319.1L411.9 314.1L412.3 315.3L412.6 313.7L413 310.4L413.3 310.9L413.7 308.1L414.2 306.6L414.6 305.7L414.9 305.4L415.1 308.4L415.4 308.3L415.9 310.5L416.3 312L416.8 315.3L417.2 318.3L417.6 321.3L418 322.2L418.3 318L418.6 318.9L418.9 317.9L419.3 316.2L419.7 317.6L420.1 317.9L420.4 319.8L420.7 326.1L421 330.1L421.5 327.4L421.9 324.3L422.4 322.2L422.9 320.2L423.3 321L423.8 321.4L424.2 322.4L424.6 324.9L425 330.1L425.4 328.7L425.8 324.7L426.2 324.8L426.7 325L427.1 322.4L427.6 319.3L428.1 317.7L428.5 323.4L429 324.8L429.4 327.6L429.8 334.2L430.2 338.8L430.6 341.2L431 340L431.4 345.7L431.9 340.7L432.3 336L432.8 331.8L433.2 332L433.7 326.9L434.1 327.5L434.4 331.4L434.6 330.8L434.9 335.3L435.4 337.1L435.8 338.5L436.3 342.3L436.8 344.5L437.2 342.7L437.7 341.4L438.1 341.2L438.5 333.8L438.9 328.3L439.3 327.4L439.8 325.1L440.2 321.4L440.7 321.5L441.1 323.5L441.6 324.8L442 330.6L442.4 331.1L442.8 335.3L443.1 338L443.3 339.9L443.6 342.3L444.1 341.3L444.5 337.6L445 336.2L445.5 335.1L445.9 334.9L446.4 333.6L446.8 332.6L447.3 329.8L447.7 330.1L448.1 328.4L448.5 321.5L448.9 320.5L449.2 315.8L449.6 313.1L449.9 312.6L450.3 314.8L450.7 313.2L451.1 314.4L451.5 315.9L452 318.9L452.4 324L452.7 325.6L453.1 323.9L453.4 326.6L453.8 326.5L454.2 331.7L454.6 332.7L454.9 333.9L455.2 338.6L455.5 342.3L456 337.4L456.4 331.7L456.9 327.5L457.3 326.8L457.7 328.6L458.1 325.7L458.4 329.2L458.7 332.3L459 338.8L459.3 337.4L459.5 341.9L459.8 344L460.1 341.7L460.4 341L460.7 338.8L461 337.7L461.3 337.4L461.6 337.9" fill="none" stroke="#000" stroke-width="1.35" stroke-linejoin="round"/>
<path d="M471.3 314L471.7 314.1L472.1 315.8L472.5 318L472.9 322.3L473.2 325.4L473.6 330L474 332.2L474.4 337.2L474.8 336L475.2 330.8L475.6 321.3L476 318L476.5 316.7L477.1 310.1L477.6 305.2L478 307.2L478.4 313.9L478.8 316L479.2 319.4L479.6 321.6L480 326L480.3 320.6L480.5 315.6L480.8 313L481.2 316.1L481.6 320.8L482 322L482.4 326.8L482.8 333.4L483.2 338L483.6 338.9L484.1 331.3L484.5 331L484.9 336.1L485.4 339.8L485.8 345L486.2 340.2L486.6 337.3L487 336L487.4 341.3L487.9 347.4L488.3 352L488.7 347.1L489.1 344.1L489.5 340L489.9 338.6L490.4 335.2L490.8 332L491.3 328.8L491.7 323.5L492.2 318L492.7 315.8L493.1 315.1L493.6 309L494 313.1L494.4 315.2L494.8 318L495.2 323.2L495.6 324.4L496 330L496.4 333.4L496.9 339.3L497.3 342L497.7 340.4L498.2 339.3L498.6 334L499.1 330L499.5 323.5L500 322L500.4 322L500.8 317.2L501.2 312L501.6 308.2L502 310.3L502.4 306L502.8 305.7L503.1 302.2L503.5 305L503.9 308.6L504.4 312.8L504.8 318L505.2 324L505.6 323.3L506 328L506.3 321.6L506.7 315.5L507 310L507.3 306.7L507.7 303.1L508 302L508.4 305.7L508.8 310.5L509.2 312L509.6 317.1L510 318.4L510.4 324L510.8 326.7L511.3 333.5L511.7 338L512.1 334.1L512.6 331.6L513 330L513.4 323.8L513.9 326.6L514.3 320L514.7 318.9L515.1 313L515.5 312L515.9 314.9L516.3 316.9L516.7 316L517.3 309.6L518 310.4L518.6 309L519 311.3L519.4 316.1L519.8 318L520.2 320.5L520.6 322.9L521 326L521.4 327.9L521.9 333.2L522.3 332L522.7 332.3L523.2 324.4L523.6 322L524 317.1L524.4 319.9L524.8 312L525.2 311.7L525.6 313.7L526 316L526.4 319.4L526.9 323.5L527.3 326L527.7 325.1L528.2 321.3L528.6 318L529 313.9L529.4 313.5L529.8 310L530.2 309.1L530.6 310.5L531 306L531.4 308L531.8 307.7L532.2 312L532.5 307.6L532.9 309.1L533.2 304L533.5 302.1L533.7 298.4L534 301L534.5 299.7L535.1 300.3L535.6 300L536 305.4L536.4 304.9L536.8 310L537.2 315.1L537.6 319.4L538 322L538.3 323.5L538.7 327L539 330L539.3 331.7L539.6 330.3L539.9 326" fill="none" stroke="#000" stroke-width="1.35" stroke-linejoin="round"/>
<path d="M549.2 317.8L549.6 321.6L550.1 323L550.5 324.7L551 322L551.4 315.3L551.9 310.9L552.4 313.1L552.8 314.2L553.3 318L553.8 315.2L554.2 312.2L554.7 309.5L555.3 316.5L556 313.8L556.6 316.4L557.3 319.5L558.1 320.5L558.8 319.2L559.5 321.2L560.3 325.8L561 326.1L561.7 324.7L562.3 330.9L563 333L563.6 325.2L564.3 310.5L564.9 305.3L565.6 306.1L566.4 312.6L567.1 313.6L567.8 315L568.6 315.5L569.3 319.2L570.2 311.6L571.2 304.4L572.1 298.4L572.8 304.7L573.4 309.3L574.1 313.6L575 306.7L575.9 299.6L576.8 294.3L577.5 292.8L578.1 293.8L578.8 290.1L579.5 289.8L580.3 289.4L581 287.4L581.5 292.7L581.9 296.3L582.4 304L583 297.7L583.7 294.9L584.3 288.7L585 288.4L585.8 286.3L586.5 287.4L587.1 280L587.8 278.3L588.4 273.5L588.9 274.3L589.3 275.7L589.8 277.7L590.5 278L591.3 280L592 280.4L592.8 284.6L593.5 289.4L594.3 291.5L594.9 290.3L595.6 288.2L596.2 283.2L596.8 286.4L597.5 286.3L598.1 288.7L598.7 296.9L599.2 306.1L599.8 313.6L600.4 302.9L601.1 294.3L601.7 283.2L602.4 287.9L603 287.4L603.7 291.5L604.2 283L604.8 282.5L605.3 274.9L606 275.9L606.6 278L607.3 277.7L607.9 273.6L608.6 276.9L609.2 272.1L609.8 276.1L610.3 277.4L610.9 280.4L611.3 284.4L611.8 289.9L612.2 294.3L612.7 287.5L613.1 280.9L613.6 274.9L614 271.6L614.3 274.3L614.7 270.8L615.2 269.3L615.6 268.1L616.1 266.6L616.6 264L617 257.1L617.5 258.3L617.8 254.8L618.1 248.9L618.4 245L618.6 229.5L618.8 215.1L619 200L619.2 190.3L619.3 185.4L619.5 176L619.7 182.8L619.8 190.5L620 200L620.2 213.5L620.4 230.3L620.6 245L620.8 248.9L620.9 249.2L621.1 252.8L621.6 253L622 260.1L622.5 261L623 264.8L623.4 274.2L623.9 277.7L624.3 276.7L624.8 274.6L625.2 274.9L625.8 277.5L626.3 283.1L626.9 286L627.5 285.6L628 281.9L628.6 280.4L629.3 286.2L630.1 292.3L630.8 292.9L631.5 295.8L632.3 297.4L633 302.6L633.6 296.2L634.3 291L634.9 288.7L635.6 289.5L636.2 291.2L636.9 294.3L637.6 289.3L638.4 289.7L639.1 286L639.8 285.7L640.6 292L641.3 298.4L641.9 297.7L642.6 291.9L643.2 286L643.9 289.7L644.5 292.3L645.2 294.3L645.9 294.1L646.7 288.7L647.4 284.6L648.1 286.6L648.9 286.2L649.6 290.1L650.5 285.8L651.5 280.6L652.4 277.7L652.8 278.8L653.3 281.1L653.7 284.6L654.1 297.4L654.5 309.8L654.9 323.3L655.3 315.1L655.8 301.7L656.2 294.3L656.9 295.8L657.7 301.1L658.4 299.8L659.2 301.7L659.9 305.5L660.7 305.3L661.6 305.9L662.5 304.8L663.4 301.2L664.3 303.8L665.3 301.6L666.2 305.3L666.8 307.6L667.5 310.2L668.1 313.6L669 310.1L670 311L670.9 310.9L671.5 311.1L672.2 312.7L672.8 317.8L673.5 319.5L674.3 320.5L675 321.9L675.8 321.7L676.5 322.2L677.3 324.7L678 321.9L678.8 320.4L679.5 319.2L680.3 318L681.2 318.2L682 317.8L682.5 317.3L683 318.9L683.5 318.5" fill="none" stroke="#000" stroke-width="1.35" stroke-linejoin="round"/>
<path d="M400.6 351L401 352.2L401.4 352.1L401.8 351.8L402.2 347.5L402.5 344.4L402.9 342.3L403.5 341.3L404 338.4L404.6 337L405 339.8L405.4 338.6L405.8 345.7L406.2 340L406.7 344L407.1 342.3L407.6 341.1L408 341.1L408.5 337L408.9 339.4L409.4 339.7L409.8 340.5L410.2 337.6L410.7 332.3L411.1 331.8L411.5 329.8L411.9 323.8L412.3 321.4L412.8 324L413.2 325.2L413.7 326.6L414.3 331.1L414.8 336.3L415.4 338.8L415.9 341.4L416.3 345.1L416.8 349.2L417.2 344.8L417.6 342.8L418 340.5L418.4 340.4L418.9 334.1L419.3 331.8L419.7 339L420.2 343.7L420.6 347.5L421.1 345.8L421.5 343.1L422 338.8L422.4 338.2L422.9 341.8L423.3 342.3L423.7 342.7L424.1 336.5L424.5 335.3L425 334.1L425.4 331.8L425.9 331.8L426.4 338.1L426.8 341.6L427.3 349.2L427.7 353.7L428.1 352.1L428.5 354.5L429.1 351L429.6 355.7L430.2 351.8L430.8 350.3L431.4 346.3L432 342.3L432.6 342.3L433.1 340L433.7 339.7L434.2 343.1L434.6 348.5L435.1 351L435.5 353.1L435.9 353.7L436.3 352.7L436.9 351.3L437.5 348.4L438.1 347.5L438.7 348.9L439.2 352.9L439.8 352.7L440.4 352.8L441 347.5L441.6 345.7L442.2 346.9L442.7 351.9L443.3 351.8L443.9 350.4L444.4 347.8L445 344L445.6 343.5L446.2 346.8L446.8 349.2L447.4 344.9L447.9 342.6L448.5 338.8L449 334.8L449.4 338.6L449.9 335.3L450.3 339.3L450.7 343L451.1 345.7L451.7 342.6L452.3 343.4L452.9 342.3L453.5 345.7L454 341.9L454.6 345.7L455.2 343.6L455.8 341.7L456.4 337.9L457 338.2L457.5 342.2L458.1 342.3L458.5 344.9L458.9 350.7L459.3 351.8" fill="none" stroke="#d62728" stroke-width="1.35" stroke-linejoin="round"/>
<path d="M471.8 356.5L472.2 355.2L472.6 352.5L473 350L473.5 350.1L474 344.7L474.5 340L474.9 336.2L475.4 326L475.8 322L476.2 315.6L476.6 312.8L477 306L477.2 307.3L477.4 305.4L477.6 305.2L477.9 310.8L478.3 311.9L478.6 318L479 325L479.4 329.4L479.8 338L480.2 342.6L480.6 345.2L481 350L481.4 346.9L481.8 346.1L482.2 344L482.6 350.8L483.1 349.6L483.5 355L483.9 351.6L484.4 352.1L484.8 348L485.2 349.9L485.6 356.3L486 356L486.4 354.4L486.9 352.2L487.3 350L487.7 352.9L488.2 357.6L488.6 357L489.1 355.8L489.5 353.2L490 350L490.4 347.1L490.9 340.7L491.3 340L491.7 340.5L492.2 346.5L492.6 346L493 343.7L493.4 339.5L493.8 335L494.2 338.4L494.6 338.7L495 342L495.4 345.2L495.9 345.8L496.3 350L496.7 348.7L497.2 344.8L497.6 344L498 347.6L498.4 352.8L498.8 356L499.2 354.8L499.6 355.8L500 354L500.4 350.8L500.9 346.6L501.3 342L501.7 346.3L502.1 343.5L502.5 348L502.9 342L503.4 342.4L503.8 338L504.2 341.6L504.6 345.4L505 344L505.4 342.6L505.9 340.1L506.3 336L506.7 337.8L507.2 343.9L507.6 346L508 343.1L508.4 336.2L508.8 334L509.2 330.5L509.6 329.8L510 328L510.4 331.2L510.9 328.3L511.3 336L511.7 332.1L512.2 328.4L512.6 324L513 326.4L513.4 329.8L513.8 332L514.2 336.1L514.6 336.9L515 342L515.4 345.4L515.9 346.9L516.3 350L516.7 344.4L517.2 342.4L517.6 338L518 345.2L518.4 344.9L518.8 352L519.2 343.9L519.6 338.5L520 336L520.4 342L520.9 340.9L521.3 344L521.7 339.9L522.2 334.7L522.6 332L523 333.1L523.4 333.9L523.8 340L524.2 336.3L524.6 332.4L525 328L525.4 327.3L525.9 331.6L526.3 336L526.7 337.4L527.2 341.3L527.6 344L528 341.1L528.4 339.2L528.8 334L529.2 334.3L529.6 331.8L530 328L530.4 332.9L530.9 331.4L531.3 336L531.7 331.7L532.2 331.3L532.6 326L533 328.8L533.4 330.7L533.8 333L534.2 326.6L534.6 323.8L535 324L535.4 327.6L535.9 329.2L536.3 331L536.7 327.5L537.2 324.3L537.6 322L538 321.1L538.4 326.6L538.8 328L539.2 328.4L539.5 328.1L539.9 324" fill="none" stroke="#d62728" stroke-width="1.35" stroke-linejoin="round"/>
<path d="M546.4 327.5L547 329.4L547.7 330.8L548.3 333L548.9 333.9L549.4 340.6L550 341.3L550.6 343.3L551.3 338.4L551.9 338.5L552.6 340.9L553.2 342.4L553.9 344.1L554.6 346.4L555.4 346.3L556.1 353.8L556.8 349L557.6 346.5L558.3 341.3L558.9 337L559.6 336.2L560.2 335.8L560.9 331.1L561.5 339.8L562.2 338.5L562.9 337.5L563.7 334.9L564.4 333L565.1 330.7L565.9 328.2L566.6 327.5L567.2 329.2L567.9 330.6L568.5 333L569.2 329.8L569.8 327.4L570.5 324.7L571.2 327.2L572 331.9L572.7 331.6L573.6 327.8L574.5 329.3L575.4 327.5L576.3 323.2L577.3 319.1L578.2 317.8L579.1 317L580.1 325.3L581 327.5L581.9 324.9L582.8 324.3L583.7 324.7L584.6 325L585.6 321.9L586.5 323.3L587.4 322.9L588.4 322.2L589.3 321.9L590.2 322.8L591.1 322.7L592 320.6L592.9 316.8L593.9 317.5L594.8 313.6L595.5 314.4L596.3 315.7L597 316.4L597.7 317.9L598.3 321.4L599 321.9L599.7 318L600.5 318.7L601.2 316.4L601.8 321.1L602.5 321.4L603.1 324.7L603.8 324.4L604.6 316L605.3 313.6L606 314.9L606.6 314.6L607.3 316.4L607.9 312.6L608.6 309L609.2 308.1L609.9 305.3L610.7 304.3L611.4 302.6L611.9 298.5L612.3 298.5L612.8 294.3L613.3 293.2L613.7 284.3L614.2 283.2L614.7 280.9L615.1 276.1L615.6 272.1L616.1 268.8L616.5 268.9L617 261L617.3 259.4L617.7 254.2L618 250L618.3 238.6L618.5 223L618.8 215L619 203.3L619.3 187.7L619.5 176L619.7 189.3L619.9 202.2L620.1 215L620.2 230.1L620.2 245.5L620.3 255.5L620.8 260.9L621.4 265.1L621.9 266.6L622.6 268L623.2 271L623.9 272.1L624.3 277.1L624.8 277.1L625.2 283.2L625.9 285.7L626.5 280.1L627.2 280.4L627.7 276.4L628.3 279.5L628.8 274.9L629.5 283.1L630.1 282.9L630.8 288.7L631.5 292.3L632.3 303.3L633 302.6L633.6 299.1L634.3 291.8L634.9 291.5L635.6 296.9L636.2 307.8L636.9 310.9L637.6 304.6L638.4 297.4L639.1 288.7L639.8 293.5L640.6 295.4L641.3 297L641.9 290.9L642.6 283.2L643.2 280.4L643.9 287.6L644.5 291.4L645.2 299.8L645.9 296.9L646.7 297.3L647.4 291.5L648.1 290.6L648.9 287.9L649.6 286L650.3 289.3L651.1 293.7L651.8 295.7L652.4 294L653.1 287L653.7 286L654.4 294.1L655 304.6L655.7 309.5L656.4 307.5L657.2 301.7L657.9 299.8L658.5 302.3L659.2 303.7L659.8 310.9L660.7 307.7L661.7 309.9L662.6 305.3L663.2 309.8L663.9 313.1L664.5 319.2L665.2 315.5L666 313.5L666.7 310.9L667.4 314.4L668.2 317.6L668.9 321.9L669.6 323.4L670.2 328.5L670.9 330.2L671.5 331.4L672.2 326.5L672.8 326.1L673.4 331.2L673.9 340.1L674.5 344.1L675.1 336.1L675.8 332L676.4 327.5L677.1 325.5L677.9 325L678.6 323.3L679.3 324.2L679.9 324.6L680.6 327.5L681.2 328.9L681.9 327.3L682.5 330.2L682.8 326.8L683.2 326L683.5 329" fill="none" stroke="#d62728" stroke-width="1.35" stroke-linejoin="round"/>
</g>
<line x1="399.2" y1="348.2" x2="682.9" y2="348.2" stroke="#111" stroke-width="1.2" stroke-dasharray="4.4 2"/>
<path d="M399.2 175.3V356.5H682.9" fill="none" stroke="#333" stroke-width="1"/>
<path d="M399.2 175.3H682.9V356.5" fill="none" stroke="#666" stroke-width="1"/>
<line x1="396" y1="175.9" x2="399.2" y2="175.9" stroke="#333" stroke-width="0.8"/>
<text x="373" y="180.9" font-size="12.17" fill="#1a1a1a" textLength="14.89" lengthAdjust="spacingAndGlyphs">10</text>
<text x="388.3" y="177.3" font-size="8.52" fill="#1a1a1a" textLength="5.21" lengthAdjust="spacingAndGlyphs">0</text>
<line x1="396" y1="201.7" x2="399.2" y2="201.7" stroke="#333" stroke-width="0.8"/>
<text x="366.1" y="206.7" font-size="12.17" fill="#1a1a1a" textLength="14.89" lengthAdjust="spacingAndGlyphs">10</text>
<text x="381.4" y="203.1" font-size="8.52" fill="#1a1a1a" textLength="12.07" lengthAdjust="spacingAndGlyphs">−1</text>
<line x1="396" y1="227.5" x2="399.2" y2="227.5" stroke="#333" stroke-width="0.8"/>
<text x="366.1" y="232.5" font-size="12.17" fill="#1a1a1a" textLength="14.89" lengthAdjust="spacingAndGlyphs">10</text>
<text x="381.4" y="228.9" font-size="8.52" fill="#1a1a1a" textLength="12.07" lengthAdjust="spacingAndGlyphs">−2</text>
<line x1="396" y1="253.3" x2="399.2" y2="253.3" stroke="#333" stroke-width="0.8"/>
<text x="366.1" y="258.3" font-size="12.17" fill="#1a1a1a" textLength="14.89" lengthAdjust="spacingAndGlyphs">10</text>
<text x="381.4" y="254.7" font-size="8.52" fill="#1a1a1a" textLength="12.07" lengthAdjust="spacingAndGlyphs">−3</text>
<line x1="396" y1="279.1" x2="399.2" y2="279.1" stroke="#333" stroke-width="0.8"/>
<text x="366.1" y="284.1" font-size="12.17" fill="#1a1a1a" textLength="14.89" lengthAdjust="spacingAndGlyphs">10</text>
<text x="381.4" y="280.5" font-size="8.52" fill="#1a1a1a" textLength="12.07" lengthAdjust="spacingAndGlyphs">−4</text>
<line x1="396" y1="304.9" x2="399.2" y2="304.9" stroke="#333" stroke-width="0.8"/>
<text x="366.1" y="309.9" font-size="12.17" fill="#1a1a1a" textLength="14.89" lengthAdjust="spacingAndGlyphs">10</text>
<text x="381.4" y="306.3" font-size="8.52" fill="#1a1a1a" textLength="12.07" lengthAdjust="spacingAndGlyphs">−5</text>
<line x1="396" y1="330.7" x2="399.2" y2="330.7" stroke="#333" stroke-width="0.8"/>
<text x="366.1" y="335.7" font-size="12.17" fill="#1a1a1a" textLength="14.89" lengthAdjust="spacingAndGlyphs">10</text>
<text x="381.4" y="332.1" font-size="8.52" fill="#1a1a1a" textLength="12.07" lengthAdjust="spacingAndGlyphs">−6</text>
<line x1="396" y1="356.5" x2="399.2" y2="356.5" stroke="#333" stroke-width="0.8"/>
<text x="366.1" y="361.5" font-size="12.17" fill="#1a1a1a" textLength="14.89" lengthAdjust="spacingAndGlyphs">10</text>
<text x="381.4" y="357.9" font-size="8.52" fill="#1a1a1a" textLength="12.07" lengthAdjust="spacingAndGlyphs">−7</text>
<line x1="423.6" y1="356.5" x2="423.6" y2="359.7" stroke="#333" stroke-width="0.8"/>
<text x="405.7" y="371.3" font-size="12.17" fill="#1a1a1a" textLength="35.85" lengthAdjust="spacingAndGlyphs">−12.5</text>
<line x1="462.8" y1="356.5" x2="462.8" y2="359.7" stroke="#333" stroke-width="0.8"/>
<text x="444.9" y="371.3" font-size="12.17" fill="#1a1a1a" textLength="35.85" lengthAdjust="spacingAndGlyphs">−10.0</text>
<line x1="501.9" y1="356.5" x2="501.9" y2="359.7" stroke="#333" stroke-width="0.8"/>
<text x="487.7" y="371.3" font-size="12.17" fill="#1a1a1a" textLength="28.41" lengthAdjust="spacingAndGlyphs">−7.5</text>
<line x1="541.1" y1="356.5" x2="541.1" y2="359.7" stroke="#333" stroke-width="0.8"/>
<text x="526.9" y="371.3" font-size="12.17" fill="#1a1a1a" textLength="28.41" lengthAdjust="spacingAndGlyphs">−5.0</text>
<line x1="580.2" y1="356.5" x2="580.2" y2="359.7" stroke="#333" stroke-width="0.8"/>
<text x="566" y="371.3" font-size="12.17" fill="#1a1a1a" textLength="28.41" lengthAdjust="spacingAndGlyphs">−2.5</text>
<line x1="619.4" y1="356.5" x2="619.4" y2="359.7" stroke="#333" stroke-width="0.8"/>
<text x="610.1" y="371.3" font-size="12.17" fill="#1a1a1a" textLength="18.61" lengthAdjust="spacingAndGlyphs">0.0</text>
<line x1="658.5" y1="356.5" x2="658.5" y2="359.7" stroke="#333" stroke-width="0.8"/>
<text x="649.2" y="371.3" font-size="12.17" fill="#1a1a1a" textLength="18.61" lengthAdjust="spacingAndGlyphs">2.5</text>
<text x="514.6" y="385.5" font-size="12.17" fill="#1a1a1a" textLength="52.80" lengthAdjust="spacingAndGlyphs">time [ps]</text>
<text transform="translate(359.5 265.8) rotate(-90)" x="-68" y="0" font-size="12.17" fill="#1a1a1a" textLength="136.05" lengthAdjust="spacingAndGlyphs">norm. intensity [arb.u.]</text>
<text x="659.4" y="191.9" font-size="18.72" fill="#111" textLength="18.45" lengthAdjust="spacingAndGlyphs">d)</text>
<rect x="405.3" y="181.1" width="173.7" height="55.5" rx="2.5" fill="#fff" fill-opacity="0.85" stroke="#d8d8d8" stroke-width="0.9"/>
<line x1="409.3" y1="190.4" x2="434.2" y2="190.4" stroke="#000" stroke-width="1.3"/>
<line x1="409.3" y1="207.4" x2="434.2" y2="207.4" stroke="#d62728" stroke-width="1.3"/>
<line x1="409.3" y1="224.9" x2="434.2" y2="224.9" stroke="#111" stroke-width="1.3" stroke-dasharray="4.4 2"/>
<text x="442.2" y="194.8" font-size="12.17" fill="#1a1a1a" textLength="100.76" lengthAdjust="spacingAndGlyphs">no plasma mirror</text>
<text x="442.2" y="211.9" font-size="12.17" fill="#1a1a1a" textLength="132.28" lengthAdjust="spacingAndGlyphs">plasma mirror cleaned</text>
<text x="442.2" y="227.5" font-size="12.17" fill="#1a1a1a" textLength="117.21" lengthAdjust="spacingAndGlyphs">dynamic range limit</text>
</svg>
</body></html>
